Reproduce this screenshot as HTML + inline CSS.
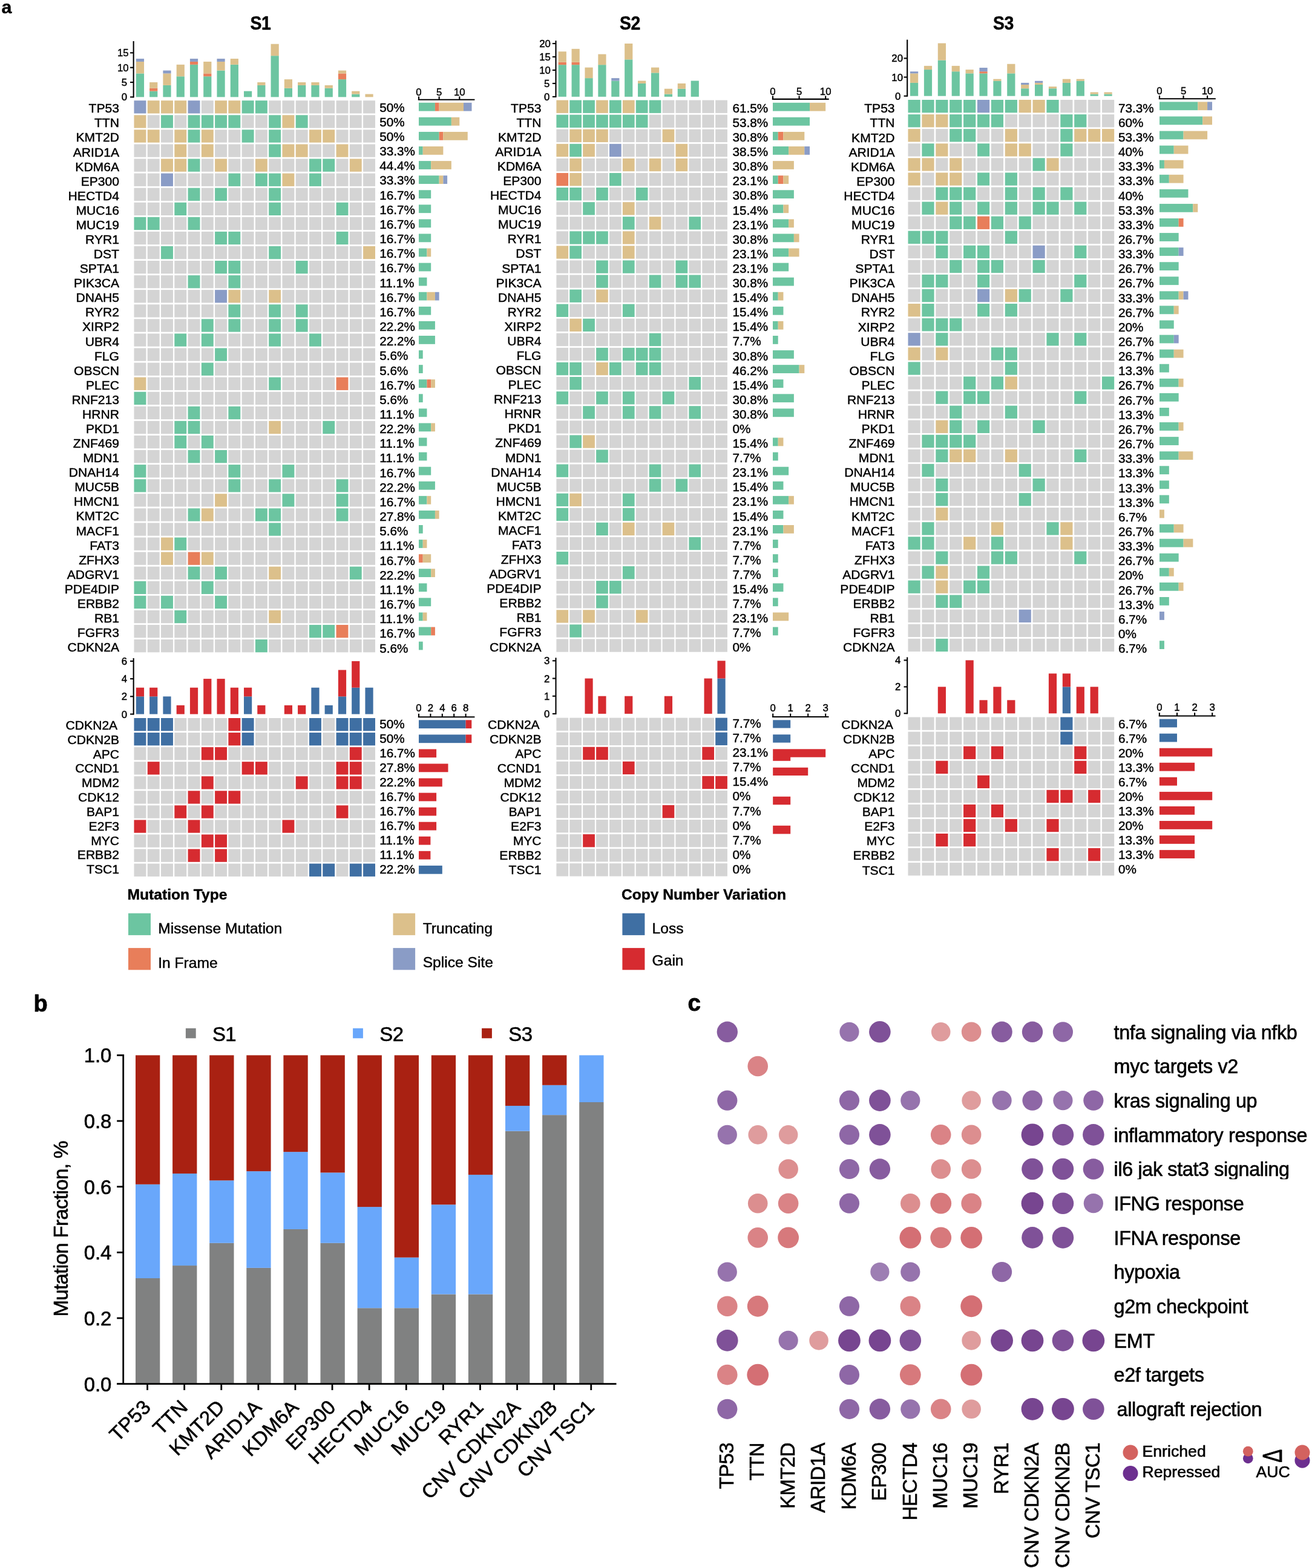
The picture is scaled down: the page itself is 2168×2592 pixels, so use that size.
<!DOCTYPE html>
<html lang="en">
<head>
<meta charset="utf-8">
<title>Figure: mutation landscape S1, S2, S3</title>
<style>
html,body{margin:0;padding:0;background:#fff;}
body{width:2168px;height:2592px;overflow:hidden;}
svg{display:block;font-family:"Liberation Sans", Arial, Helvetica, sans-serif;fill:#000;}
text{stroke:#000;stroke-width:0.45px;stroke-linejoin:round;}
</style>
</head>
<body>
<svg width="2168" height="2592" viewBox="0 0 2168 2592">
<rect x="0" y="0" width="2168" height="2592" fill="#ffffff"/>
<text transform="translate(430.5,49.4) scale(1.0,1.09)" font-size="28.4" text-anchor="middle" font-weight="bold" letter-spacing="-0.3">S1</text>
<rect x="224.85" y="121.42" width="13.2" height="38.98" fill="#6cc5a1"/>
<rect x="224.85" y="101.92" width="13.2" height="19.49" fill="#dcc08b"/>
<rect x="224.85" y="97.05" width="13.2" height="4.87" fill="#8a9cc6"/>
<rect x="247.12" y="150.65" width="13.2" height="9.75" fill="#6cc5a1"/>
<rect x="247.12" y="145.78" width="13.2" height="4.87" fill="#e87e5a"/>
<rect x="247.12" y="136.03" width="13.2" height="9.75" fill="#dcc08b"/>
<rect x="269.39" y="140.91" width="13.2" height="19.49" fill="#6cc5a1"/>
<rect x="269.39" y="121.42" width="13.2" height="19.49" fill="#dcc08b"/>
<rect x="269.39" y="116.54" width="13.2" height="4.87" fill="#8a9cc6"/>
<rect x="291.66" y="126.29" width="13.2" height="34.11" fill="#6cc5a1"/>
<rect x="291.66" y="106.8" width="13.2" height="19.49" fill="#dcc08b"/>
<rect x="313.93" y="106.8" width="13.2" height="53.6" fill="#6cc5a1"/>
<rect x="313.93" y="101.92" width="13.2" height="4.87" fill="#e87e5a"/>
<rect x="313.93" y="97.05" width="13.2" height="4.87" fill="#8a9cc6"/>
<rect x="336.2" y="126.29" width="13.2" height="34.11" fill="#6cc5a1"/>
<rect x="336.2" y="121.42" width="13.2" height="4.87" fill="#e87e5a"/>
<rect x="336.2" y="101.92" width="13.2" height="19.49" fill="#dcc08b"/>
<rect x="358.47" y="116.54" width="13.2" height="43.86" fill="#6cc5a1"/>
<rect x="358.47" y="101.92" width="13.2" height="14.62" fill="#dcc08b"/>
<rect x="358.47" y="97.05" width="13.2" height="4.87" fill="#8a9cc6"/>
<rect x="380.74" y="106.8" width="13.2" height="53.6" fill="#6cc5a1"/>
<rect x="380.74" y="97.05" width="13.2" height="9.75" fill="#dcc08b"/>
<rect x="403.01" y="150.65" width="13.2" height="9.75" fill="#6cc5a1"/>
<rect x="425.28" y="140.91" width="13.2" height="19.49" fill="#6cc5a1"/>
<rect x="425.28" y="136.04" width="13.2" height="4.87" fill="#dcc08b"/>
<rect x="447.55" y="92.18" width="13.2" height="68.22" fill="#6cc5a1"/>
<rect x="447.55" y="72.69" width="13.2" height="19.49" fill="#dcc08b"/>
<rect x="469.82" y="145.78" width="13.2" height="14.62" fill="#6cc5a1"/>
<rect x="469.82" y="131.16" width="13.2" height="14.62" fill="#dcc08b"/>
<rect x="492.09" y="140.91" width="13.2" height="19.49" fill="#6cc5a1"/>
<rect x="492.09" y="136.04" width="13.2" height="4.87" fill="#dcc08b"/>
<rect x="514.36" y="140.91" width="13.2" height="19.49" fill="#6cc5a1"/>
<rect x="514.36" y="136.04" width="13.2" height="4.87" fill="#dcc08b"/>
<rect x="536.63" y="145.78" width="13.2" height="14.62" fill="#6cc5a1"/>
<rect x="536.63" y="140.91" width="13.2" height="4.87" fill="#dcc08b"/>
<rect x="558.9" y="131.16" width="13.2" height="29.24" fill="#6cc5a1"/>
<rect x="558.9" y="121.42" width="13.2" height="9.75" fill="#e87e5a"/>
<rect x="558.9" y="116.54" width="13.2" height="4.87" fill="#dcc08b"/>
<rect x="581.17" y="155.53" width="13.2" height="4.87" fill="#6cc5a1"/>
<rect x="581.17" y="150.65" width="13.2" height="4.87" fill="#dcc08b"/>
<rect x="603.44" y="155.53" width="13.2" height="4.87" fill="#dcc08b"/>
<line x1="220.65" y1="68" x2="220.65" y2="161.45" stroke="#000" stroke-width="2.1"/>
<line x1="215.05" y1="160.4" x2="220.65" y2="160.4" stroke="#000" stroke-width="2.1"/>
<text x="210" y="166.4" font-size="16.8" text-anchor="end">0</text>
<line x1="215.05" y1="136.03" x2="220.65" y2="136.03" stroke="#000" stroke-width="2.1"/>
<text x="210" y="142.03" font-size="16.8" text-anchor="end">5</text>
<line x1="215.05" y1="111.67" x2="220.65" y2="111.67" stroke="#000" stroke-width="2.1"/>
<text x="212.6" y="117.67" font-size="16.8" text-anchor="end">10</text>
<line x1="215.05" y1="87.31" x2="220.65" y2="87.31" stroke="#000" stroke-width="2.1"/>
<text x="212.6" y="93.31" font-size="16.8" text-anchor="end">15</text>
<rect x="221.5" y="166.2" width="19.9" height="21.3" fill="#8a9cc6"/>
<rect x="243.77" y="166.2" width="19.9" height="21.3" fill="#dcc08b"/>
<rect x="266.04" y="166.2" width="19.9" height="21.3" fill="#dcc08b"/>
<rect x="288.31" y="166.2" width="19.9" height="21.3" fill="#dcc08b"/>
<rect x="310.58" y="166.2" width="19.9" height="21.3" fill="#8a9cc6"/>
<rect x="332.85" y="166.2" width="19.9" height="21.3" fill="#d4d4d4"/>
<rect x="355.12" y="166.2" width="19.9" height="21.3" fill="#dcc08b"/>
<rect x="377.39" y="166.2" width="19.9" height="21.3" fill="#dcc08b"/>
<rect x="399.66" y="166.2" width="19.9" height="21.3" fill="#6cc5a1"/>
<rect x="421.93" y="166.2" width="19.9" height="21.3" fill="#6cc5a1"/>
<rect x="444.2" y="166.2" width="19.9" height="21.3" fill="#d4d4d4"/>
<rect x="466.47" y="166.2" width="19.9" height="21.3" fill="#d4d4d4"/>
<rect x="488.74" y="166.2" width="19.9" height="21.3" fill="#d4d4d4"/>
<rect x="511.01" y="166.2" width="19.9" height="21.3" fill="#d4d4d4"/>
<rect x="533.28" y="166.2" width="19.9" height="21.3" fill="#d4d4d4"/>
<rect x="555.55" y="166.2" width="19.9" height="21.3" fill="#d4d4d4"/>
<rect x="577.82" y="166.2" width="19.9" height="21.3" fill="#d4d4d4"/>
<rect x="600.09" y="166.2" width="19.9" height="21.3" fill="#d4d4d4"/>
<text x="197" y="186.3" font-size="21.1" text-anchor="end">TP53</text>
<text x="627.3" y="184.7" font-size="20.7">50%</text>
<rect x="692" y="169.8" width="26.92" height="13.8" fill="#6cc5a1"/>
<rect x="718.92" y="169.8" width="6.73" height="13.8" fill="#e87e5a"/>
<rect x="725.65" y="169.8" width="40.38" height="13.8" fill="#dcc08b"/>
<rect x="766.03" y="169.8" width="13.46" height="13.8" fill="#8a9cc6"/>
<rect x="221.5" y="190.28" width="19.9" height="21.3" fill="#dcc08b"/>
<rect x="243.77" y="190.28" width="19.9" height="21.3" fill="#d4d4d4"/>
<rect x="266.04" y="190.28" width="19.9" height="21.3" fill="#6cc5a1"/>
<rect x="288.31" y="190.28" width="19.9" height="21.3" fill="#d4d4d4"/>
<rect x="310.58" y="190.28" width="19.9" height="21.3" fill="#6cc5a1"/>
<rect x="332.85" y="190.28" width="19.9" height="21.3" fill="#6cc5a1"/>
<rect x="355.12" y="190.28" width="19.9" height="21.3" fill="#6cc5a1"/>
<rect x="377.39" y="190.28" width="19.9" height="21.3" fill="#6cc5a1"/>
<rect x="399.66" y="190.28" width="19.9" height="21.3" fill="#d4d4d4"/>
<rect x="421.93" y="190.28" width="19.9" height="21.3" fill="#d4d4d4"/>
<rect x="444.2" y="190.28" width="19.9" height="21.3" fill="#6cc5a1"/>
<rect x="466.47" y="190.28" width="19.9" height="21.3" fill="#dcc08b"/>
<rect x="488.74" y="190.28" width="19.9" height="21.3" fill="#6cc5a1"/>
<rect x="511.01" y="190.28" width="19.9" height="21.3" fill="#d4d4d4"/>
<rect x="533.28" y="190.28" width="19.9" height="21.3" fill="#d4d4d4"/>
<rect x="555.55" y="190.28" width="19.9" height="21.3" fill="#d4d4d4"/>
<rect x="577.82" y="190.28" width="19.9" height="21.3" fill="#d4d4d4"/>
<rect x="600.09" y="190.28" width="19.9" height="21.3" fill="#d4d4d4"/>
<text x="197" y="210.38" font-size="21.1" text-anchor="end">TTN</text>
<text x="627.3" y="208.86" font-size="20.7">50%</text>
<rect x="692" y="193.88" width="53.84" height="13.8" fill="#6cc5a1"/>
<rect x="745.84" y="193.88" width="13.46" height="13.8" fill="#dcc08b"/>
<rect x="221.5" y="214.35" width="19.9" height="21.3" fill="#dcc08b"/>
<rect x="243.77" y="214.35" width="19.9" height="21.3" fill="#dcc08b"/>
<rect x="266.04" y="214.35" width="19.9" height="21.3" fill="#d4d4d4"/>
<rect x="288.31" y="214.35" width="19.9" height="21.3" fill="#dcc08b"/>
<rect x="310.58" y="214.35" width="19.9" height="21.3" fill="#6cc5a1"/>
<rect x="332.85" y="214.35" width="19.9" height="21.3" fill="#dcc08b"/>
<rect x="355.12" y="214.35" width="19.9" height="21.3" fill="#d4d4d4"/>
<rect x="377.39" y="214.35" width="19.9" height="21.3" fill="#d4d4d4"/>
<rect x="399.66" y="214.35" width="19.9" height="21.3" fill="#6cc5a1"/>
<rect x="421.93" y="214.35" width="19.9" height="21.3" fill="#d4d4d4"/>
<rect x="444.2" y="214.35" width="19.9" height="21.3" fill="#6cc5a1"/>
<rect x="466.47" y="214.35" width="19.9" height="21.3" fill="#d4d4d4"/>
<rect x="488.74" y="214.35" width="19.9" height="21.3" fill="#d4d4d4"/>
<rect x="511.01" y="214.35" width="19.9" height="21.3" fill="#dcc08b"/>
<rect x="533.28" y="214.35" width="19.9" height="21.3" fill="#dcc08b"/>
<rect x="555.55" y="214.35" width="19.9" height="21.3" fill="#d4d4d4"/>
<rect x="577.82" y="214.35" width="19.9" height="21.3" fill="#d4d4d4"/>
<rect x="600.09" y="214.35" width="19.9" height="21.3" fill="#d4d4d4"/>
<text x="197" y="234.45" font-size="21.1" text-anchor="end">KMT2D</text>
<text x="627.3" y="233.01" font-size="20.7">50%</text>
<rect x="692" y="217.95" width="33.65" height="13.8" fill="#6cc5a1"/>
<rect x="725.65" y="217.95" width="6.73" height="13.8" fill="#e87e5a"/>
<rect x="732.38" y="217.95" width="40.38" height="13.8" fill="#dcc08b"/>
<rect x="221.5" y="238.43" width="19.9" height="21.3" fill="#d4d4d4"/>
<rect x="243.77" y="238.43" width="19.9" height="21.3" fill="#d4d4d4"/>
<rect x="266.04" y="238.43" width="19.9" height="21.3" fill="#d4d4d4"/>
<rect x="288.31" y="238.43" width="19.9" height="21.3" fill="#dcc08b"/>
<rect x="310.58" y="238.43" width="19.9" height="21.3" fill="#d4d4d4"/>
<rect x="332.85" y="238.43" width="19.9" height="21.3" fill="#dcc08b"/>
<rect x="355.12" y="238.43" width="19.9" height="21.3" fill="#d4d4d4"/>
<rect x="377.39" y="238.43" width="19.9" height="21.3" fill="#d4d4d4"/>
<rect x="399.66" y="238.43" width="19.9" height="21.3" fill="#d4d4d4"/>
<rect x="421.93" y="238.43" width="19.9" height="21.3" fill="#d4d4d4"/>
<rect x="444.2" y="238.43" width="19.9" height="21.3" fill="#6cc5a1"/>
<rect x="466.47" y="238.43" width="19.9" height="21.3" fill="#dcc08b"/>
<rect x="488.74" y="238.43" width="19.9" height="21.3" fill="#dcc08b"/>
<rect x="511.01" y="238.43" width="19.9" height="21.3" fill="#d4d4d4"/>
<rect x="533.28" y="238.43" width="19.9" height="21.3" fill="#d4d4d4"/>
<rect x="555.55" y="238.43" width="19.9" height="21.3" fill="#dcc08b"/>
<rect x="577.82" y="238.43" width="19.9" height="21.3" fill="#d4d4d4"/>
<rect x="600.09" y="238.43" width="19.9" height="21.3" fill="#d4d4d4"/>
<text x="197" y="258.53" font-size="21.1" text-anchor="end">ARID1A</text>
<text x="627.3" y="257.17" font-size="20.7">33.3%</text>
<rect x="692" y="242.03" width="6.73" height="13.8" fill="#6cc5a1"/>
<rect x="698.73" y="242.03" width="33.65" height="13.8" fill="#dcc08b"/>
<rect x="221.5" y="262.5" width="19.9" height="21.3" fill="#d4d4d4"/>
<rect x="243.77" y="262.5" width="19.9" height="21.3" fill="#d4d4d4"/>
<rect x="266.04" y="262.5" width="19.9" height="21.3" fill="#dcc08b"/>
<rect x="288.31" y="262.5" width="19.9" height="21.3" fill="#dcc08b"/>
<rect x="310.58" y="262.5" width="19.9" height="21.3" fill="#6cc5a1"/>
<rect x="332.85" y="262.5" width="19.9" height="21.3" fill="#d4d4d4"/>
<rect x="355.12" y="262.5" width="19.9" height="21.3" fill="#dcc08b"/>
<rect x="377.39" y="262.5" width="19.9" height="21.3" fill="#d4d4d4"/>
<rect x="399.66" y="262.5" width="19.9" height="21.3" fill="#d4d4d4"/>
<rect x="421.93" y="262.5" width="19.9" height="21.3" fill="#dcc08b"/>
<rect x="444.2" y="262.5" width="19.9" height="21.3" fill="#d4d4d4"/>
<rect x="466.47" y="262.5" width="19.9" height="21.3" fill="#d4d4d4"/>
<rect x="488.74" y="262.5" width="19.9" height="21.3" fill="#d4d4d4"/>
<rect x="511.01" y="262.5" width="19.9" height="21.3" fill="#6cc5a1"/>
<rect x="533.28" y="262.5" width="19.9" height="21.3" fill="#6cc5a1"/>
<rect x="555.55" y="262.5" width="19.9" height="21.3" fill="#d4d4d4"/>
<rect x="577.82" y="262.5" width="19.9" height="21.3" fill="#dcc08b"/>
<rect x="600.09" y="262.5" width="19.9" height="21.3" fill="#d4d4d4"/>
<text x="197" y="282.6" font-size="21.1" text-anchor="end">KDM6A</text>
<text x="627.3" y="281.33" font-size="20.7">44.4%</text>
<rect x="692" y="266.1" width="20.19" height="13.8" fill="#6cc5a1"/>
<rect x="712.19" y="266.1" width="33.65" height="13.8" fill="#dcc08b"/>
<rect x="221.5" y="286.58" width="19.9" height="21.3" fill="#d4d4d4"/>
<rect x="243.77" y="286.58" width="19.9" height="21.3" fill="#d4d4d4"/>
<rect x="266.04" y="286.58" width="19.9" height="21.3" fill="#8a9cc6"/>
<rect x="288.31" y="286.58" width="19.9" height="21.3" fill="#d4d4d4"/>
<rect x="310.58" y="286.58" width="19.9" height="21.3" fill="#d4d4d4"/>
<rect x="332.85" y="286.58" width="19.9" height="21.3" fill="#d4d4d4"/>
<rect x="355.12" y="286.58" width="19.9" height="21.3" fill="#d4d4d4"/>
<rect x="377.39" y="286.58" width="19.9" height="21.3" fill="#6cc5a1"/>
<rect x="399.66" y="286.58" width="19.9" height="21.3" fill="#d4d4d4"/>
<rect x="421.93" y="286.58" width="19.9" height="21.3" fill="#6cc5a1"/>
<rect x="444.2" y="286.58" width="19.9" height="21.3" fill="#6cc5a1"/>
<rect x="466.47" y="286.58" width="19.9" height="21.3" fill="#dcc08b"/>
<rect x="488.74" y="286.58" width="19.9" height="21.3" fill="#d4d4d4"/>
<rect x="511.01" y="286.58" width="19.9" height="21.3" fill="#6cc5a1"/>
<rect x="533.28" y="286.58" width="19.9" height="21.3" fill="#d4d4d4"/>
<rect x="555.55" y="286.58" width="19.9" height="21.3" fill="#d4d4d4"/>
<rect x="577.82" y="286.58" width="19.9" height="21.3" fill="#d4d4d4"/>
<rect x="600.09" y="286.58" width="19.9" height="21.3" fill="#d4d4d4"/>
<text x="197" y="306.68" font-size="21.1" text-anchor="end">EP300</text>
<text x="627.3" y="305.49" font-size="20.7">33.3%</text>
<rect x="692" y="290.18" width="33.65" height="13.8" fill="#6cc5a1"/>
<rect x="725.65" y="290.18" width="6.73" height="13.8" fill="#dcc08b"/>
<rect x="732.38" y="290.18" width="6.73" height="13.8" fill="#8a9cc6"/>
<rect x="221.5" y="310.66" width="19.9" height="21.3" fill="#d4d4d4"/>
<rect x="243.77" y="310.66" width="19.9" height="21.3" fill="#d4d4d4"/>
<rect x="266.04" y="310.66" width="19.9" height="21.3" fill="#d4d4d4"/>
<rect x="288.31" y="310.66" width="19.9" height="21.3" fill="#d4d4d4"/>
<rect x="310.58" y="310.66" width="19.9" height="21.3" fill="#6cc5a1"/>
<rect x="332.85" y="310.66" width="19.9" height="21.3" fill="#d4d4d4"/>
<rect x="355.12" y="310.66" width="19.9" height="21.3" fill="#6cc5a1"/>
<rect x="377.39" y="310.66" width="19.9" height="21.3" fill="#d4d4d4"/>
<rect x="399.66" y="310.66" width="19.9" height="21.3" fill="#d4d4d4"/>
<rect x="421.93" y="310.66" width="19.9" height="21.3" fill="#d4d4d4"/>
<rect x="444.2" y="310.66" width="19.9" height="21.3" fill="#6cc5a1"/>
<rect x="466.47" y="310.66" width="19.9" height="21.3" fill="#d4d4d4"/>
<rect x="488.74" y="310.66" width="19.9" height="21.3" fill="#d4d4d4"/>
<rect x="511.01" y="310.66" width="19.9" height="21.3" fill="#d4d4d4"/>
<rect x="533.28" y="310.66" width="19.9" height="21.3" fill="#d4d4d4"/>
<rect x="555.55" y="310.66" width="19.9" height="21.3" fill="#d4d4d4"/>
<rect x="577.82" y="310.66" width="19.9" height="21.3" fill="#d4d4d4"/>
<rect x="600.09" y="310.66" width="19.9" height="21.3" fill="#d4d4d4"/>
<text x="197" y="330.76" font-size="21.1" text-anchor="end">HECTD4</text>
<text x="627.3" y="329.64" font-size="20.7">16.7%</text>
<rect x="692" y="314.26" width="20.19" height="13.8" fill="#6cc5a1"/>
<rect x="221.5" y="334.73" width="19.9" height="21.3" fill="#d4d4d4"/>
<rect x="243.77" y="334.73" width="19.9" height="21.3" fill="#d4d4d4"/>
<rect x="266.04" y="334.73" width="19.9" height="21.3" fill="#d4d4d4"/>
<rect x="288.31" y="334.73" width="19.9" height="21.3" fill="#6cc5a1"/>
<rect x="310.58" y="334.73" width="19.9" height="21.3" fill="#d4d4d4"/>
<rect x="332.85" y="334.73" width="19.9" height="21.3" fill="#d4d4d4"/>
<rect x="355.12" y="334.73" width="19.9" height="21.3" fill="#d4d4d4"/>
<rect x="377.39" y="334.73" width="19.9" height="21.3" fill="#d4d4d4"/>
<rect x="399.66" y="334.73" width="19.9" height="21.3" fill="#d4d4d4"/>
<rect x="421.93" y="334.73" width="19.9" height="21.3" fill="#d4d4d4"/>
<rect x="444.2" y="334.73" width="19.9" height="21.3" fill="#6cc5a1"/>
<rect x="466.47" y="334.73" width="19.9" height="21.3" fill="#d4d4d4"/>
<rect x="488.74" y="334.73" width="19.9" height="21.3" fill="#d4d4d4"/>
<rect x="511.01" y="334.73" width="19.9" height="21.3" fill="#d4d4d4"/>
<rect x="533.28" y="334.73" width="19.9" height="21.3" fill="#d4d4d4"/>
<rect x="555.55" y="334.73" width="19.9" height="21.3" fill="#6cc5a1"/>
<rect x="577.82" y="334.73" width="19.9" height="21.3" fill="#d4d4d4"/>
<rect x="600.09" y="334.73" width="19.9" height="21.3" fill="#d4d4d4"/>
<text x="197" y="354.83" font-size="21.1" text-anchor="end">MUC16</text>
<text x="627.3" y="353.8" font-size="20.7">16.7%</text>
<rect x="692" y="338.33" width="20.19" height="13.8" fill="#6cc5a1"/>
<rect x="221.5" y="358.81" width="19.9" height="21.3" fill="#6cc5a1"/>
<rect x="243.77" y="358.81" width="19.9" height="21.3" fill="#6cc5a1"/>
<rect x="266.04" y="358.81" width="19.9" height="21.3" fill="#d4d4d4"/>
<rect x="288.31" y="358.81" width="19.9" height="21.3" fill="#d4d4d4"/>
<rect x="310.58" y="358.81" width="19.9" height="21.3" fill="#6cc5a1"/>
<rect x="332.85" y="358.81" width="19.9" height="21.3" fill="#d4d4d4"/>
<rect x="355.12" y="358.81" width="19.9" height="21.3" fill="#d4d4d4"/>
<rect x="377.39" y="358.81" width="19.9" height="21.3" fill="#d4d4d4"/>
<rect x="399.66" y="358.81" width="19.9" height="21.3" fill="#d4d4d4"/>
<rect x="421.93" y="358.81" width="19.9" height="21.3" fill="#d4d4d4"/>
<rect x="444.2" y="358.81" width="19.9" height="21.3" fill="#d4d4d4"/>
<rect x="466.47" y="358.81" width="19.9" height="21.3" fill="#d4d4d4"/>
<rect x="488.74" y="358.81" width="19.9" height="21.3" fill="#d4d4d4"/>
<rect x="511.01" y="358.81" width="19.9" height="21.3" fill="#d4d4d4"/>
<rect x="533.28" y="358.81" width="19.9" height="21.3" fill="#d4d4d4"/>
<rect x="555.55" y="358.81" width="19.9" height="21.3" fill="#d4d4d4"/>
<rect x="577.82" y="358.81" width="19.9" height="21.3" fill="#d4d4d4"/>
<rect x="600.09" y="358.81" width="19.9" height="21.3" fill="#d4d4d4"/>
<text x="197" y="378.91" font-size="21.1" text-anchor="end">MUC19</text>
<text x="627.3" y="377.96" font-size="20.7">16.7%</text>
<rect x="692" y="362.41" width="20.19" height="13.8" fill="#6cc5a1"/>
<rect x="221.5" y="382.88" width="19.9" height="21.3" fill="#d4d4d4"/>
<rect x="243.77" y="382.88" width="19.9" height="21.3" fill="#d4d4d4"/>
<rect x="266.04" y="382.88" width="19.9" height="21.3" fill="#d4d4d4"/>
<rect x="288.31" y="382.88" width="19.9" height="21.3" fill="#d4d4d4"/>
<rect x="310.58" y="382.88" width="19.9" height="21.3" fill="#d4d4d4"/>
<rect x="332.85" y="382.88" width="19.9" height="21.3" fill="#d4d4d4"/>
<rect x="355.12" y="382.88" width="19.9" height="21.3" fill="#6cc5a1"/>
<rect x="377.39" y="382.88" width="19.9" height="21.3" fill="#6cc5a1"/>
<rect x="399.66" y="382.88" width="19.9" height="21.3" fill="#d4d4d4"/>
<rect x="421.93" y="382.88" width="19.9" height="21.3" fill="#d4d4d4"/>
<rect x="444.2" y="382.88" width="19.9" height="21.3" fill="#d4d4d4"/>
<rect x="466.47" y="382.88" width="19.9" height="21.3" fill="#d4d4d4"/>
<rect x="488.74" y="382.88" width="19.9" height="21.3" fill="#d4d4d4"/>
<rect x="511.01" y="382.88" width="19.9" height="21.3" fill="#d4d4d4"/>
<rect x="533.28" y="382.88" width="19.9" height="21.3" fill="#d4d4d4"/>
<rect x="555.55" y="382.88" width="19.9" height="21.3" fill="#6cc5a1"/>
<rect x="577.82" y="382.88" width="19.9" height="21.3" fill="#d4d4d4"/>
<rect x="600.09" y="382.88" width="19.9" height="21.3" fill="#d4d4d4"/>
<text x="197" y="402.98" font-size="21.1" text-anchor="end">RYR1</text>
<text x="627.3" y="402.11" font-size="20.7">16.7%</text>
<rect x="692" y="386.48" width="20.19" height="13.8" fill="#6cc5a1"/>
<rect x="221.5" y="406.96" width="19.9" height="21.3" fill="#d4d4d4"/>
<rect x="243.77" y="406.96" width="19.9" height="21.3" fill="#d4d4d4"/>
<rect x="266.04" y="406.96" width="19.9" height="21.3" fill="#6cc5a1"/>
<rect x="288.31" y="406.96" width="19.9" height="21.3" fill="#d4d4d4"/>
<rect x="310.58" y="406.96" width="19.9" height="21.3" fill="#d4d4d4"/>
<rect x="332.85" y="406.96" width="19.9" height="21.3" fill="#d4d4d4"/>
<rect x="355.12" y="406.96" width="19.9" height="21.3" fill="#d4d4d4"/>
<rect x="377.39" y="406.96" width="19.9" height="21.3" fill="#d4d4d4"/>
<rect x="399.66" y="406.96" width="19.9" height="21.3" fill="#d4d4d4"/>
<rect x="421.93" y="406.96" width="19.9" height="21.3" fill="#d4d4d4"/>
<rect x="444.2" y="406.96" width="19.9" height="21.3" fill="#6cc5a1"/>
<rect x="466.47" y="406.96" width="19.9" height="21.3" fill="#d4d4d4"/>
<rect x="488.74" y="406.96" width="19.9" height="21.3" fill="#d4d4d4"/>
<rect x="511.01" y="406.96" width="19.9" height="21.3" fill="#d4d4d4"/>
<rect x="533.28" y="406.96" width="19.9" height="21.3" fill="#d4d4d4"/>
<rect x="555.55" y="406.96" width="19.9" height="21.3" fill="#d4d4d4"/>
<rect x="577.82" y="406.96" width="19.9" height="21.3" fill="#d4d4d4"/>
<rect x="600.09" y="406.96" width="19.9" height="21.3" fill="#dcc08b"/>
<text x="197" y="427.06" font-size="21.1" text-anchor="end">DST</text>
<text x="627.3" y="426.27" font-size="20.7">16.7%</text>
<rect x="692" y="410.56" width="13.46" height="13.8" fill="#6cc5a1"/>
<rect x="705.46" y="410.56" width="6.73" height="13.8" fill="#dcc08b"/>
<rect x="221.5" y="431.04" width="19.9" height="21.3" fill="#d4d4d4"/>
<rect x="243.77" y="431.04" width="19.9" height="21.3" fill="#d4d4d4"/>
<rect x="266.04" y="431.04" width="19.9" height="21.3" fill="#d4d4d4"/>
<rect x="288.31" y="431.04" width="19.9" height="21.3" fill="#d4d4d4"/>
<rect x="310.58" y="431.04" width="19.9" height="21.3" fill="#d4d4d4"/>
<rect x="332.85" y="431.04" width="19.9" height="21.3" fill="#d4d4d4"/>
<rect x="355.12" y="431.04" width="19.9" height="21.3" fill="#6cc5a1"/>
<rect x="377.39" y="431.04" width="19.9" height="21.3" fill="#6cc5a1"/>
<rect x="399.66" y="431.04" width="19.9" height="21.3" fill="#d4d4d4"/>
<rect x="421.93" y="431.04" width="19.9" height="21.3" fill="#d4d4d4"/>
<rect x="444.2" y="431.04" width="19.9" height="21.3" fill="#d4d4d4"/>
<rect x="466.47" y="431.04" width="19.9" height="21.3" fill="#d4d4d4"/>
<rect x="488.74" y="431.04" width="19.9" height="21.3" fill="#6cc5a1"/>
<rect x="511.01" y="431.04" width="19.9" height="21.3" fill="#d4d4d4"/>
<rect x="533.28" y="431.04" width="19.9" height="21.3" fill="#d4d4d4"/>
<rect x="555.55" y="431.04" width="19.9" height="21.3" fill="#d4d4d4"/>
<rect x="577.82" y="431.04" width="19.9" height="21.3" fill="#d4d4d4"/>
<rect x="600.09" y="431.04" width="19.9" height="21.3" fill="#d4d4d4"/>
<text x="197" y="451.14" font-size="21.1" text-anchor="end">SPTA1</text>
<text x="627.3" y="450.43" font-size="20.7">16.7%</text>
<rect x="692" y="434.64" width="20.19" height="13.8" fill="#6cc5a1"/>
<rect x="221.5" y="455.11" width="19.9" height="21.3" fill="#d4d4d4"/>
<rect x="243.77" y="455.11" width="19.9" height="21.3" fill="#d4d4d4"/>
<rect x="266.04" y="455.11" width="19.9" height="21.3" fill="#d4d4d4"/>
<rect x="288.31" y="455.11" width="19.9" height="21.3" fill="#d4d4d4"/>
<rect x="310.58" y="455.11" width="19.9" height="21.3" fill="#6cc5a1"/>
<rect x="332.85" y="455.11" width="19.9" height="21.3" fill="#d4d4d4"/>
<rect x="355.12" y="455.11" width="19.9" height="21.3" fill="#d4d4d4"/>
<rect x="377.39" y="455.11" width="19.9" height="21.3" fill="#6cc5a1"/>
<rect x="399.66" y="455.11" width="19.9" height="21.3" fill="#d4d4d4"/>
<rect x="421.93" y="455.11" width="19.9" height="21.3" fill="#d4d4d4"/>
<rect x="444.2" y="455.11" width="19.9" height="21.3" fill="#d4d4d4"/>
<rect x="466.47" y="455.11" width="19.9" height="21.3" fill="#d4d4d4"/>
<rect x="488.74" y="455.11" width="19.9" height="21.3" fill="#d4d4d4"/>
<rect x="511.01" y="455.11" width="19.9" height="21.3" fill="#d4d4d4"/>
<rect x="533.28" y="455.11" width="19.9" height="21.3" fill="#d4d4d4"/>
<rect x="555.55" y="455.11" width="19.9" height="21.3" fill="#d4d4d4"/>
<rect x="577.82" y="455.11" width="19.9" height="21.3" fill="#d4d4d4"/>
<rect x="600.09" y="455.11" width="19.9" height="21.3" fill="#d4d4d4"/>
<text x="197" y="475.21" font-size="21.1" text-anchor="end">PIK3CA</text>
<text x="627.3" y="474.58" font-size="20.7">11.1%</text>
<rect x="692" y="458.71" width="13.46" height="13.8" fill="#6cc5a1"/>
<rect x="221.5" y="479.19" width="19.9" height="21.3" fill="#d4d4d4"/>
<rect x="243.77" y="479.19" width="19.9" height="21.3" fill="#d4d4d4"/>
<rect x="266.04" y="479.19" width="19.9" height="21.3" fill="#d4d4d4"/>
<rect x="288.31" y="479.19" width="19.9" height="21.3" fill="#d4d4d4"/>
<rect x="310.58" y="479.19" width="19.9" height="21.3" fill="#d4d4d4"/>
<rect x="332.85" y="479.19" width="19.9" height="21.3" fill="#d4d4d4"/>
<rect x="355.12" y="479.19" width="19.9" height="21.3" fill="#8a9cc6"/>
<rect x="377.39" y="479.19" width="19.9" height="21.3" fill="#dcc08b"/>
<rect x="399.66" y="479.19" width="19.9" height="21.3" fill="#d4d4d4"/>
<rect x="421.93" y="479.19" width="19.9" height="21.3" fill="#d4d4d4"/>
<rect x="444.2" y="479.19" width="19.9" height="21.3" fill="#dcc08b"/>
<rect x="466.47" y="479.19" width="19.9" height="21.3" fill="#d4d4d4"/>
<rect x="488.74" y="479.19" width="19.9" height="21.3" fill="#d4d4d4"/>
<rect x="511.01" y="479.19" width="19.9" height="21.3" fill="#d4d4d4"/>
<rect x="533.28" y="479.19" width="19.9" height="21.3" fill="#d4d4d4"/>
<rect x="555.55" y="479.19" width="19.9" height="21.3" fill="#d4d4d4"/>
<rect x="577.82" y="479.19" width="19.9" height="21.3" fill="#d4d4d4"/>
<rect x="600.09" y="479.19" width="19.9" height="21.3" fill="#d4d4d4"/>
<text x="197" y="499.29" font-size="21.1" text-anchor="end">DNAH5</text>
<text x="627.3" y="498.74" font-size="20.7">16.7%</text>
<rect x="692" y="482.79" width="13.46" height="13.8" fill="#6cc5a1"/>
<rect x="705.46" y="482.79" width="13.46" height="13.8" fill="#dcc08b"/>
<rect x="718.92" y="482.79" width="6.73" height="13.8" fill="#8a9cc6"/>
<rect x="221.5" y="503.26" width="19.9" height="21.3" fill="#d4d4d4"/>
<rect x="243.77" y="503.26" width="19.9" height="21.3" fill="#d4d4d4"/>
<rect x="266.04" y="503.26" width="19.9" height="21.3" fill="#d4d4d4"/>
<rect x="288.31" y="503.26" width="19.9" height="21.3" fill="#d4d4d4"/>
<rect x="310.58" y="503.26" width="19.9" height="21.3" fill="#d4d4d4"/>
<rect x="332.85" y="503.26" width="19.9" height="21.3" fill="#d4d4d4"/>
<rect x="355.12" y="503.26" width="19.9" height="21.3" fill="#d4d4d4"/>
<rect x="377.39" y="503.26" width="19.9" height="21.3" fill="#6cc5a1"/>
<rect x="399.66" y="503.26" width="19.9" height="21.3" fill="#d4d4d4"/>
<rect x="421.93" y="503.26" width="19.9" height="21.3" fill="#d4d4d4"/>
<rect x="444.2" y="503.26" width="19.9" height="21.3" fill="#6cc5a1"/>
<rect x="466.47" y="503.26" width="19.9" height="21.3" fill="#d4d4d4"/>
<rect x="488.74" y="503.26" width="19.9" height="21.3" fill="#6cc5a1"/>
<rect x="511.01" y="503.26" width="19.9" height="21.3" fill="#d4d4d4"/>
<rect x="533.28" y="503.26" width="19.9" height="21.3" fill="#d4d4d4"/>
<rect x="555.55" y="503.26" width="19.9" height="21.3" fill="#d4d4d4"/>
<rect x="577.82" y="503.26" width="19.9" height="21.3" fill="#d4d4d4"/>
<rect x="600.09" y="503.26" width="19.9" height="21.3" fill="#d4d4d4"/>
<text x="197" y="523.36" font-size="21.1" text-anchor="end">RYR2</text>
<text x="627.3" y="522.9" font-size="20.7">16.7%</text>
<rect x="692" y="506.86" width="20.19" height="13.8" fill="#6cc5a1"/>
<rect x="221.5" y="527.34" width="19.9" height="21.3" fill="#d4d4d4"/>
<rect x="243.77" y="527.34" width="19.9" height="21.3" fill="#d4d4d4"/>
<rect x="266.04" y="527.34" width="19.9" height="21.3" fill="#d4d4d4"/>
<rect x="288.31" y="527.34" width="19.9" height="21.3" fill="#d4d4d4"/>
<rect x="310.58" y="527.34" width="19.9" height="21.3" fill="#d4d4d4"/>
<rect x="332.85" y="527.34" width="19.9" height="21.3" fill="#6cc5a1"/>
<rect x="355.12" y="527.34" width="19.9" height="21.3" fill="#d4d4d4"/>
<rect x="377.39" y="527.34" width="19.9" height="21.3" fill="#6cc5a1"/>
<rect x="399.66" y="527.34" width="19.9" height="21.3" fill="#d4d4d4"/>
<rect x="421.93" y="527.34" width="19.9" height="21.3" fill="#d4d4d4"/>
<rect x="444.2" y="527.34" width="19.9" height="21.3" fill="#6cc5a1"/>
<rect x="466.47" y="527.34" width="19.9" height="21.3" fill="#d4d4d4"/>
<rect x="488.74" y="527.34" width="19.9" height="21.3" fill="#6cc5a1"/>
<rect x="511.01" y="527.34" width="19.9" height="21.3" fill="#d4d4d4"/>
<rect x="533.28" y="527.34" width="19.9" height="21.3" fill="#d4d4d4"/>
<rect x="555.55" y="527.34" width="19.9" height="21.3" fill="#d4d4d4"/>
<rect x="577.82" y="527.34" width="19.9" height="21.3" fill="#d4d4d4"/>
<rect x="600.09" y="527.34" width="19.9" height="21.3" fill="#d4d4d4"/>
<text x="197" y="547.44" font-size="21.1" text-anchor="end">XIRP2</text>
<text x="627.3" y="547.06" font-size="20.7">22.2%</text>
<rect x="692" y="530.94" width="26.92" height="13.8" fill="#6cc5a1"/>
<rect x="221.5" y="551.42" width="19.9" height="21.3" fill="#d4d4d4"/>
<rect x="243.77" y="551.42" width="19.9" height="21.3" fill="#d4d4d4"/>
<rect x="266.04" y="551.42" width="19.9" height="21.3" fill="#d4d4d4"/>
<rect x="288.31" y="551.42" width="19.9" height="21.3" fill="#6cc5a1"/>
<rect x="310.58" y="551.42" width="19.9" height="21.3" fill="#d4d4d4"/>
<rect x="332.85" y="551.42" width="19.9" height="21.3" fill="#6cc5a1"/>
<rect x="355.12" y="551.42" width="19.9" height="21.3" fill="#d4d4d4"/>
<rect x="377.39" y="551.42" width="19.9" height="21.3" fill="#d4d4d4"/>
<rect x="399.66" y="551.42" width="19.9" height="21.3" fill="#d4d4d4"/>
<rect x="421.93" y="551.42" width="19.9" height="21.3" fill="#d4d4d4"/>
<rect x="444.2" y="551.42" width="19.9" height="21.3" fill="#6cc5a1"/>
<rect x="466.47" y="551.42" width="19.9" height="21.3" fill="#d4d4d4"/>
<rect x="488.74" y="551.42" width="19.9" height="21.3" fill="#d4d4d4"/>
<rect x="511.01" y="551.42" width="19.9" height="21.3" fill="#6cc5a1"/>
<rect x="533.28" y="551.42" width="19.9" height="21.3" fill="#d4d4d4"/>
<rect x="555.55" y="551.42" width="19.9" height="21.3" fill="#d4d4d4"/>
<rect x="577.82" y="551.42" width="19.9" height="21.3" fill="#d4d4d4"/>
<rect x="600.09" y="551.42" width="19.9" height="21.3" fill="#d4d4d4"/>
<text x="197" y="571.52" font-size="21.1" text-anchor="end">UBR4</text>
<text x="627.3" y="571.21" font-size="20.7">22.2%</text>
<rect x="692" y="555.02" width="26.92" height="13.8" fill="#6cc5a1"/>
<rect x="221.5" y="575.49" width="19.9" height="21.3" fill="#d4d4d4"/>
<rect x="243.77" y="575.49" width="19.9" height="21.3" fill="#d4d4d4"/>
<rect x="266.04" y="575.49" width="19.9" height="21.3" fill="#d4d4d4"/>
<rect x="288.31" y="575.49" width="19.9" height="21.3" fill="#d4d4d4"/>
<rect x="310.58" y="575.49" width="19.9" height="21.3" fill="#d4d4d4"/>
<rect x="332.85" y="575.49" width="19.9" height="21.3" fill="#d4d4d4"/>
<rect x="355.12" y="575.49" width="19.9" height="21.3" fill="#6cc5a1"/>
<rect x="377.39" y="575.49" width="19.9" height="21.3" fill="#d4d4d4"/>
<rect x="399.66" y="575.49" width="19.9" height="21.3" fill="#d4d4d4"/>
<rect x="421.93" y="575.49" width="19.9" height="21.3" fill="#d4d4d4"/>
<rect x="444.2" y="575.49" width="19.9" height="21.3" fill="#d4d4d4"/>
<rect x="466.47" y="575.49" width="19.9" height="21.3" fill="#d4d4d4"/>
<rect x="488.74" y="575.49" width="19.9" height="21.3" fill="#d4d4d4"/>
<rect x="511.01" y="575.49" width="19.9" height="21.3" fill="#d4d4d4"/>
<rect x="533.28" y="575.49" width="19.9" height="21.3" fill="#d4d4d4"/>
<rect x="555.55" y="575.49" width="19.9" height="21.3" fill="#d4d4d4"/>
<rect x="577.82" y="575.49" width="19.9" height="21.3" fill="#d4d4d4"/>
<rect x="600.09" y="575.49" width="19.9" height="21.3" fill="#d4d4d4"/>
<text x="197" y="595.59" font-size="21.1" text-anchor="end">FLG</text>
<text x="627.3" y="595.37" font-size="20.7">5.6%</text>
<rect x="692" y="579.09" width="6.73" height="13.8" fill="#6cc5a1"/>
<rect x="221.5" y="599.57" width="19.9" height="21.3" fill="#d4d4d4"/>
<rect x="243.77" y="599.57" width="19.9" height="21.3" fill="#d4d4d4"/>
<rect x="266.04" y="599.57" width="19.9" height="21.3" fill="#d4d4d4"/>
<rect x="288.31" y="599.57" width="19.9" height="21.3" fill="#d4d4d4"/>
<rect x="310.58" y="599.57" width="19.9" height="21.3" fill="#d4d4d4"/>
<rect x="332.85" y="599.57" width="19.9" height="21.3" fill="#6cc5a1"/>
<rect x="355.12" y="599.57" width="19.9" height="21.3" fill="#d4d4d4"/>
<rect x="377.39" y="599.57" width="19.9" height="21.3" fill="#d4d4d4"/>
<rect x="399.66" y="599.57" width="19.9" height="21.3" fill="#d4d4d4"/>
<rect x="421.93" y="599.57" width="19.9" height="21.3" fill="#d4d4d4"/>
<rect x="444.2" y="599.57" width="19.9" height="21.3" fill="#d4d4d4"/>
<rect x="466.47" y="599.57" width="19.9" height="21.3" fill="#d4d4d4"/>
<rect x="488.74" y="599.57" width="19.9" height="21.3" fill="#d4d4d4"/>
<rect x="511.01" y="599.57" width="19.9" height="21.3" fill="#d4d4d4"/>
<rect x="533.28" y="599.57" width="19.9" height="21.3" fill="#d4d4d4"/>
<rect x="555.55" y="599.57" width="19.9" height="21.3" fill="#d4d4d4"/>
<rect x="577.82" y="599.57" width="19.9" height="21.3" fill="#d4d4d4"/>
<rect x="600.09" y="599.57" width="19.9" height="21.3" fill="#d4d4d4"/>
<text x="197" y="619.67" font-size="21.1" text-anchor="end">OBSCN</text>
<text x="627.3" y="619.53" font-size="20.7">5.6%</text>
<rect x="692" y="603.17" width="6.73" height="13.8" fill="#6cc5a1"/>
<rect x="221.5" y="623.64" width="19.9" height="21.3" fill="#dcc08b"/>
<rect x="243.77" y="623.64" width="19.9" height="21.3" fill="#d4d4d4"/>
<rect x="266.04" y="623.64" width="19.9" height="21.3" fill="#d4d4d4"/>
<rect x="288.31" y="623.64" width="19.9" height="21.3" fill="#d4d4d4"/>
<rect x="310.58" y="623.64" width="19.9" height="21.3" fill="#d4d4d4"/>
<rect x="332.85" y="623.64" width="19.9" height="21.3" fill="#d4d4d4"/>
<rect x="355.12" y="623.64" width="19.9" height="21.3" fill="#d4d4d4"/>
<rect x="377.39" y="623.64" width="19.9" height="21.3" fill="#d4d4d4"/>
<rect x="399.66" y="623.64" width="19.9" height="21.3" fill="#d4d4d4"/>
<rect x="421.93" y="623.64" width="19.9" height="21.3" fill="#d4d4d4"/>
<rect x="444.2" y="623.64" width="19.9" height="21.3" fill="#6cc5a1"/>
<rect x="466.47" y="623.64" width="19.9" height="21.3" fill="#d4d4d4"/>
<rect x="488.74" y="623.64" width="19.9" height="21.3" fill="#d4d4d4"/>
<rect x="511.01" y="623.64" width="19.9" height="21.3" fill="#d4d4d4"/>
<rect x="533.28" y="623.64" width="19.9" height="21.3" fill="#d4d4d4"/>
<rect x="555.55" y="623.64" width="19.9" height="21.3" fill="#e87e5a"/>
<rect x="577.82" y="623.64" width="19.9" height="21.3" fill="#d4d4d4"/>
<rect x="600.09" y="623.64" width="19.9" height="21.3" fill="#d4d4d4"/>
<text x="197" y="643.74" font-size="21.1" text-anchor="end">PLEC</text>
<text x="627.3" y="643.68" font-size="20.7">16.7%</text>
<rect x="692" y="627.24" width="13.46" height="13.8" fill="#6cc5a1"/>
<rect x="705.46" y="627.24" width="6.73" height="13.8" fill="#e87e5a"/>
<rect x="712.19" y="627.24" width="6.73" height="13.8" fill="#dcc08b"/>
<rect x="221.5" y="647.72" width="19.9" height="21.3" fill="#6cc5a1"/>
<rect x="243.77" y="647.72" width="19.9" height="21.3" fill="#d4d4d4"/>
<rect x="266.04" y="647.72" width="19.9" height="21.3" fill="#d4d4d4"/>
<rect x="288.31" y="647.72" width="19.9" height="21.3" fill="#d4d4d4"/>
<rect x="310.58" y="647.72" width="19.9" height="21.3" fill="#d4d4d4"/>
<rect x="332.85" y="647.72" width="19.9" height="21.3" fill="#d4d4d4"/>
<rect x="355.12" y="647.72" width="19.9" height="21.3" fill="#d4d4d4"/>
<rect x="377.39" y="647.72" width="19.9" height="21.3" fill="#d4d4d4"/>
<rect x="399.66" y="647.72" width="19.9" height="21.3" fill="#d4d4d4"/>
<rect x="421.93" y="647.72" width="19.9" height="21.3" fill="#d4d4d4"/>
<rect x="444.2" y="647.72" width="19.9" height="21.3" fill="#d4d4d4"/>
<rect x="466.47" y="647.72" width="19.9" height="21.3" fill="#d4d4d4"/>
<rect x="488.74" y="647.72" width="19.9" height="21.3" fill="#d4d4d4"/>
<rect x="511.01" y="647.72" width="19.9" height="21.3" fill="#d4d4d4"/>
<rect x="533.28" y="647.72" width="19.9" height="21.3" fill="#d4d4d4"/>
<rect x="555.55" y="647.72" width="19.9" height="21.3" fill="#d4d4d4"/>
<rect x="577.82" y="647.72" width="19.9" height="21.3" fill="#d4d4d4"/>
<rect x="600.09" y="647.72" width="19.9" height="21.3" fill="#d4d4d4"/>
<text x="197" y="667.82" font-size="21.1" text-anchor="end">RNF213</text>
<text x="627.3" y="667.84" font-size="20.7">5.6%</text>
<rect x="692" y="651.32" width="6.73" height="13.8" fill="#6cc5a1"/>
<rect x="221.5" y="671.8" width="19.9" height="21.3" fill="#d4d4d4"/>
<rect x="243.77" y="671.8" width="19.9" height="21.3" fill="#d4d4d4"/>
<rect x="266.04" y="671.8" width="19.9" height="21.3" fill="#d4d4d4"/>
<rect x="288.31" y="671.8" width="19.9" height="21.3" fill="#d4d4d4"/>
<rect x="310.58" y="671.8" width="19.9" height="21.3" fill="#6cc5a1"/>
<rect x="332.85" y="671.8" width="19.9" height="21.3" fill="#d4d4d4"/>
<rect x="355.12" y="671.8" width="19.9" height="21.3" fill="#d4d4d4"/>
<rect x="377.39" y="671.8" width="19.9" height="21.3" fill="#6cc5a1"/>
<rect x="399.66" y="671.8" width="19.9" height="21.3" fill="#d4d4d4"/>
<rect x="421.93" y="671.8" width="19.9" height="21.3" fill="#d4d4d4"/>
<rect x="444.2" y="671.8" width="19.9" height="21.3" fill="#d4d4d4"/>
<rect x="466.47" y="671.8" width="19.9" height="21.3" fill="#d4d4d4"/>
<rect x="488.74" y="671.8" width="19.9" height="21.3" fill="#d4d4d4"/>
<rect x="511.01" y="671.8" width="19.9" height="21.3" fill="#d4d4d4"/>
<rect x="533.28" y="671.8" width="19.9" height="21.3" fill="#d4d4d4"/>
<rect x="555.55" y="671.8" width="19.9" height="21.3" fill="#d4d4d4"/>
<rect x="577.82" y="671.8" width="19.9" height="21.3" fill="#d4d4d4"/>
<rect x="600.09" y="671.8" width="19.9" height="21.3" fill="#d4d4d4"/>
<text x="197" y="691.9" font-size="21.1" text-anchor="end">HRNR</text>
<text x="627.3" y="692" font-size="20.7">11.1%</text>
<rect x="692" y="675.4" width="13.46" height="13.8" fill="#6cc5a1"/>
<rect x="221.5" y="695.87" width="19.9" height="21.3" fill="#d4d4d4"/>
<rect x="243.77" y="695.87" width="19.9" height="21.3" fill="#d4d4d4"/>
<rect x="266.04" y="695.87" width="19.9" height="21.3" fill="#d4d4d4"/>
<rect x="288.31" y="695.87" width="19.9" height="21.3" fill="#6cc5a1"/>
<rect x="310.58" y="695.87" width="19.9" height="21.3" fill="#6cc5a1"/>
<rect x="332.85" y="695.87" width="19.9" height="21.3" fill="#d4d4d4"/>
<rect x="355.12" y="695.87" width="19.9" height="21.3" fill="#d4d4d4"/>
<rect x="377.39" y="695.87" width="19.9" height="21.3" fill="#d4d4d4"/>
<rect x="399.66" y="695.87" width="19.9" height="21.3" fill="#d4d4d4"/>
<rect x="421.93" y="695.87" width="19.9" height="21.3" fill="#d4d4d4"/>
<rect x="444.2" y="695.87" width="19.9" height="21.3" fill="#dcc08b"/>
<rect x="466.47" y="695.87" width="19.9" height="21.3" fill="#d4d4d4"/>
<rect x="488.74" y="695.87" width="19.9" height="21.3" fill="#d4d4d4"/>
<rect x="511.01" y="695.87" width="19.9" height="21.3" fill="#d4d4d4"/>
<rect x="533.28" y="695.87" width="19.9" height="21.3" fill="#6cc5a1"/>
<rect x="555.55" y="695.87" width="19.9" height="21.3" fill="#d4d4d4"/>
<rect x="577.82" y="695.87" width="19.9" height="21.3" fill="#d4d4d4"/>
<rect x="600.09" y="695.87" width="19.9" height="21.3" fill="#d4d4d4"/>
<text x="197" y="715.97" font-size="21.1" text-anchor="end">PKD1</text>
<text x="627.3" y="716.15" font-size="20.7">22.2%</text>
<rect x="692" y="699.47" width="20.19" height="13.8" fill="#6cc5a1"/>
<rect x="712.19" y="699.47" width="6.73" height="13.8" fill="#dcc08b"/>
<rect x="221.5" y="719.95" width="19.9" height="21.3" fill="#d4d4d4"/>
<rect x="243.77" y="719.95" width="19.9" height="21.3" fill="#d4d4d4"/>
<rect x="266.04" y="719.95" width="19.9" height="21.3" fill="#d4d4d4"/>
<rect x="288.31" y="719.95" width="19.9" height="21.3" fill="#6cc5a1"/>
<rect x="310.58" y="719.95" width="19.9" height="21.3" fill="#d4d4d4"/>
<rect x="332.85" y="719.95" width="19.9" height="21.3" fill="#6cc5a1"/>
<rect x="355.12" y="719.95" width="19.9" height="21.3" fill="#d4d4d4"/>
<rect x="377.39" y="719.95" width="19.9" height="21.3" fill="#d4d4d4"/>
<rect x="399.66" y="719.95" width="19.9" height="21.3" fill="#d4d4d4"/>
<rect x="421.93" y="719.95" width="19.9" height="21.3" fill="#d4d4d4"/>
<rect x="444.2" y="719.95" width="19.9" height="21.3" fill="#d4d4d4"/>
<rect x="466.47" y="719.95" width="19.9" height="21.3" fill="#d4d4d4"/>
<rect x="488.74" y="719.95" width="19.9" height="21.3" fill="#d4d4d4"/>
<rect x="511.01" y="719.95" width="19.9" height="21.3" fill="#d4d4d4"/>
<rect x="533.28" y="719.95" width="19.9" height="21.3" fill="#d4d4d4"/>
<rect x="555.55" y="719.95" width="19.9" height="21.3" fill="#d4d4d4"/>
<rect x="577.82" y="719.95" width="19.9" height="21.3" fill="#d4d4d4"/>
<rect x="600.09" y="719.95" width="19.9" height="21.3" fill="#d4d4d4"/>
<text x="197" y="740.05" font-size="21.1" text-anchor="end">ZNF469</text>
<text x="627.3" y="740.31" font-size="20.7">11.1%</text>
<rect x="692" y="723.55" width="13.46" height="13.8" fill="#6cc5a1"/>
<rect x="221.5" y="744.02" width="19.9" height="21.3" fill="#d4d4d4"/>
<rect x="243.77" y="744.02" width="19.9" height="21.3" fill="#d4d4d4"/>
<rect x="266.04" y="744.02" width="19.9" height="21.3" fill="#d4d4d4"/>
<rect x="288.31" y="744.02" width="19.9" height="21.3" fill="#d4d4d4"/>
<rect x="310.58" y="744.02" width="19.9" height="21.3" fill="#6cc5a1"/>
<rect x="332.85" y="744.02" width="19.9" height="21.3" fill="#d4d4d4"/>
<rect x="355.12" y="744.02" width="19.9" height="21.3" fill="#6cc5a1"/>
<rect x="377.39" y="744.02" width="19.9" height="21.3" fill="#d4d4d4"/>
<rect x="399.66" y="744.02" width="19.9" height="21.3" fill="#d4d4d4"/>
<rect x="421.93" y="744.02" width="19.9" height="21.3" fill="#d4d4d4"/>
<rect x="444.2" y="744.02" width="19.9" height="21.3" fill="#d4d4d4"/>
<rect x="466.47" y="744.02" width="19.9" height="21.3" fill="#d4d4d4"/>
<rect x="488.74" y="744.02" width="19.9" height="21.3" fill="#d4d4d4"/>
<rect x="511.01" y="744.02" width="19.9" height="21.3" fill="#d4d4d4"/>
<rect x="533.28" y="744.02" width="19.9" height="21.3" fill="#d4d4d4"/>
<rect x="555.55" y="744.02" width="19.9" height="21.3" fill="#d4d4d4"/>
<rect x="577.82" y="744.02" width="19.9" height="21.3" fill="#d4d4d4"/>
<rect x="600.09" y="744.02" width="19.9" height="21.3" fill="#d4d4d4"/>
<text x="197" y="764.12" font-size="21.1" text-anchor="end">MDN1</text>
<text x="627.3" y="764.47" font-size="20.7">11.1%</text>
<rect x="692" y="747.62" width="13.46" height="13.8" fill="#6cc5a1"/>
<rect x="221.5" y="768.1" width="19.9" height="21.3" fill="#6cc5a1"/>
<rect x="243.77" y="768.1" width="19.9" height="21.3" fill="#d4d4d4"/>
<rect x="266.04" y="768.1" width="19.9" height="21.3" fill="#d4d4d4"/>
<rect x="288.31" y="768.1" width="19.9" height="21.3" fill="#d4d4d4"/>
<rect x="310.58" y="768.1" width="19.9" height="21.3" fill="#d4d4d4"/>
<rect x="332.85" y="768.1" width="19.9" height="21.3" fill="#d4d4d4"/>
<rect x="355.12" y="768.1" width="19.9" height="21.3" fill="#d4d4d4"/>
<rect x="377.39" y="768.1" width="19.9" height="21.3" fill="#6cc5a1"/>
<rect x="399.66" y="768.1" width="19.9" height="21.3" fill="#d4d4d4"/>
<rect x="421.93" y="768.1" width="19.9" height="21.3" fill="#d4d4d4"/>
<rect x="444.2" y="768.1" width="19.9" height="21.3" fill="#d4d4d4"/>
<rect x="466.47" y="768.1" width="19.9" height="21.3" fill="#6cc5a1"/>
<rect x="488.74" y="768.1" width="19.9" height="21.3" fill="#d4d4d4"/>
<rect x="511.01" y="768.1" width="19.9" height="21.3" fill="#d4d4d4"/>
<rect x="533.28" y="768.1" width="19.9" height="21.3" fill="#d4d4d4"/>
<rect x="555.55" y="768.1" width="19.9" height="21.3" fill="#d4d4d4"/>
<rect x="577.82" y="768.1" width="19.9" height="21.3" fill="#d4d4d4"/>
<rect x="600.09" y="768.1" width="19.9" height="21.3" fill="#d4d4d4"/>
<text x="197" y="788.2" font-size="21.1" text-anchor="end">DNAH14</text>
<text x="627.3" y="788.62" font-size="20.7">16.7%</text>
<rect x="692" y="771.7" width="20.19" height="13.8" fill="#6cc5a1"/>
<rect x="221.5" y="792.18" width="19.9" height="21.3" fill="#6cc5a1"/>
<rect x="243.77" y="792.18" width="19.9" height="21.3" fill="#d4d4d4"/>
<rect x="266.04" y="792.18" width="19.9" height="21.3" fill="#d4d4d4"/>
<rect x="288.31" y="792.18" width="19.9" height="21.3" fill="#d4d4d4"/>
<rect x="310.58" y="792.18" width="19.9" height="21.3" fill="#d4d4d4"/>
<rect x="332.85" y="792.18" width="19.9" height="21.3" fill="#d4d4d4"/>
<rect x="355.12" y="792.18" width="19.9" height="21.3" fill="#d4d4d4"/>
<rect x="377.39" y="792.18" width="19.9" height="21.3" fill="#6cc5a1"/>
<rect x="399.66" y="792.18" width="19.9" height="21.3" fill="#d4d4d4"/>
<rect x="421.93" y="792.18" width="19.9" height="21.3" fill="#d4d4d4"/>
<rect x="444.2" y="792.18" width="19.9" height="21.3" fill="#6cc5a1"/>
<rect x="466.47" y="792.18" width="19.9" height="21.3" fill="#d4d4d4"/>
<rect x="488.74" y="792.18" width="19.9" height="21.3" fill="#d4d4d4"/>
<rect x="511.01" y="792.18" width="19.9" height="21.3" fill="#d4d4d4"/>
<rect x="533.28" y="792.18" width="19.9" height="21.3" fill="#d4d4d4"/>
<rect x="555.55" y="792.18" width="19.9" height="21.3" fill="#6cc5a1"/>
<rect x="577.82" y="792.18" width="19.9" height="21.3" fill="#d4d4d4"/>
<rect x="600.09" y="792.18" width="19.9" height="21.3" fill="#d4d4d4"/>
<text x="197" y="812.28" font-size="21.1" text-anchor="end">MUC5B</text>
<text x="627.3" y="812.78" font-size="20.7">22.2%</text>
<rect x="692" y="795.78" width="26.92" height="13.8" fill="#6cc5a1"/>
<rect x="221.5" y="816.25" width="19.9" height="21.3" fill="#d4d4d4"/>
<rect x="243.77" y="816.25" width="19.9" height="21.3" fill="#d4d4d4"/>
<rect x="266.04" y="816.25" width="19.9" height="21.3" fill="#d4d4d4"/>
<rect x="288.31" y="816.25" width="19.9" height="21.3" fill="#d4d4d4"/>
<rect x="310.58" y="816.25" width="19.9" height="21.3" fill="#d4d4d4"/>
<rect x="332.85" y="816.25" width="19.9" height="21.3" fill="#d4d4d4"/>
<rect x="355.12" y="816.25" width="19.9" height="21.3" fill="#dcc08b"/>
<rect x="377.39" y="816.25" width="19.9" height="21.3" fill="#d4d4d4"/>
<rect x="399.66" y="816.25" width="19.9" height="21.3" fill="#d4d4d4"/>
<rect x="421.93" y="816.25" width="19.9" height="21.3" fill="#d4d4d4"/>
<rect x="444.2" y="816.25" width="19.9" height="21.3" fill="#d4d4d4"/>
<rect x="466.47" y="816.25" width="19.9" height="21.3" fill="#6cc5a1"/>
<rect x="488.74" y="816.25" width="19.9" height="21.3" fill="#d4d4d4"/>
<rect x="511.01" y="816.25" width="19.9" height="21.3" fill="#d4d4d4"/>
<rect x="533.28" y="816.25" width="19.9" height="21.3" fill="#d4d4d4"/>
<rect x="555.55" y="816.25" width="19.9" height="21.3" fill="#6cc5a1"/>
<rect x="577.82" y="816.25" width="19.9" height="21.3" fill="#d4d4d4"/>
<rect x="600.09" y="816.25" width="19.9" height="21.3" fill="#d4d4d4"/>
<text x="197" y="836.35" font-size="21.1" text-anchor="end">HMCN1</text>
<text x="627.3" y="836.94" font-size="20.7">16.7%</text>
<rect x="692" y="819.85" width="13.46" height="13.8" fill="#6cc5a1"/>
<rect x="705.46" y="819.85" width="6.73" height="13.8" fill="#dcc08b"/>
<rect x="221.5" y="840.33" width="19.9" height="21.3" fill="#d4d4d4"/>
<rect x="243.77" y="840.33" width="19.9" height="21.3" fill="#d4d4d4"/>
<rect x="266.04" y="840.33" width="19.9" height="21.3" fill="#d4d4d4"/>
<rect x="288.31" y="840.33" width="19.9" height="21.3" fill="#d4d4d4"/>
<rect x="310.58" y="840.33" width="19.9" height="21.3" fill="#6cc5a1"/>
<rect x="332.85" y="840.33" width="19.9" height="21.3" fill="#dcc08b"/>
<rect x="355.12" y="840.33" width="19.9" height="21.3" fill="#d4d4d4"/>
<rect x="377.39" y="840.33" width="19.9" height="21.3" fill="#d4d4d4"/>
<rect x="399.66" y="840.33" width="19.9" height="21.3" fill="#d4d4d4"/>
<rect x="421.93" y="840.33" width="19.9" height="21.3" fill="#6cc5a1"/>
<rect x="444.2" y="840.33" width="19.9" height="21.3" fill="#6cc5a1"/>
<rect x="466.47" y="840.33" width="19.9" height="21.3" fill="#d4d4d4"/>
<rect x="488.74" y="840.33" width="19.9" height="21.3" fill="#d4d4d4"/>
<rect x="511.01" y="840.33" width="19.9" height="21.3" fill="#d4d4d4"/>
<rect x="533.28" y="840.33" width="19.9" height="21.3" fill="#d4d4d4"/>
<rect x="555.55" y="840.33" width="19.9" height="21.3" fill="#6cc5a1"/>
<rect x="577.82" y="840.33" width="19.9" height="21.3" fill="#d4d4d4"/>
<rect x="600.09" y="840.33" width="19.9" height="21.3" fill="#d4d4d4"/>
<text x="197" y="860.43" font-size="21.1" text-anchor="end">KMT2C</text>
<text x="627.3" y="861.1" font-size="20.7">27.8%</text>
<rect x="692" y="843.93" width="26.92" height="13.8" fill="#6cc5a1"/>
<rect x="718.92" y="843.93" width="6.73" height="13.8" fill="#dcc08b"/>
<rect x="221.5" y="864.4" width="19.9" height="21.3" fill="#d4d4d4"/>
<rect x="243.77" y="864.4" width="19.9" height="21.3" fill="#d4d4d4"/>
<rect x="266.04" y="864.4" width="19.9" height="21.3" fill="#d4d4d4"/>
<rect x="288.31" y="864.4" width="19.9" height="21.3" fill="#d4d4d4"/>
<rect x="310.58" y="864.4" width="19.9" height="21.3" fill="#d4d4d4"/>
<rect x="332.85" y="864.4" width="19.9" height="21.3" fill="#d4d4d4"/>
<rect x="355.12" y="864.4" width="19.9" height="21.3" fill="#d4d4d4"/>
<rect x="377.39" y="864.4" width="19.9" height="21.3" fill="#d4d4d4"/>
<rect x="399.66" y="864.4" width="19.9" height="21.3" fill="#d4d4d4"/>
<rect x="421.93" y="864.4" width="19.9" height="21.3" fill="#d4d4d4"/>
<rect x="444.2" y="864.4" width="19.9" height="21.3" fill="#6cc5a1"/>
<rect x="466.47" y="864.4" width="19.9" height="21.3" fill="#d4d4d4"/>
<rect x="488.74" y="864.4" width="19.9" height="21.3" fill="#d4d4d4"/>
<rect x="511.01" y="864.4" width="19.9" height="21.3" fill="#d4d4d4"/>
<rect x="533.28" y="864.4" width="19.9" height="21.3" fill="#d4d4d4"/>
<rect x="555.55" y="864.4" width="19.9" height="21.3" fill="#d4d4d4"/>
<rect x="577.82" y="864.4" width="19.9" height="21.3" fill="#d4d4d4"/>
<rect x="600.09" y="864.4" width="19.9" height="21.3" fill="#d4d4d4"/>
<text x="197" y="884.5" font-size="21.1" text-anchor="end">MACF1</text>
<text x="627.3" y="885.25" font-size="20.7">5.6%</text>
<rect x="692" y="868" width="6.73" height="13.8" fill="#6cc5a1"/>
<rect x="221.5" y="888.48" width="19.9" height="21.3" fill="#d4d4d4"/>
<rect x="243.77" y="888.48" width="19.9" height="21.3" fill="#d4d4d4"/>
<rect x="266.04" y="888.48" width="19.9" height="21.3" fill="#dcc08b"/>
<rect x="288.31" y="888.48" width="19.9" height="21.3" fill="#6cc5a1"/>
<rect x="310.58" y="888.48" width="19.9" height="21.3" fill="#d4d4d4"/>
<rect x="332.85" y="888.48" width="19.9" height="21.3" fill="#d4d4d4"/>
<rect x="355.12" y="888.48" width="19.9" height="21.3" fill="#d4d4d4"/>
<rect x="377.39" y="888.48" width="19.9" height="21.3" fill="#d4d4d4"/>
<rect x="399.66" y="888.48" width="19.9" height="21.3" fill="#d4d4d4"/>
<rect x="421.93" y="888.48" width="19.9" height="21.3" fill="#d4d4d4"/>
<rect x="444.2" y="888.48" width="19.9" height="21.3" fill="#d4d4d4"/>
<rect x="466.47" y="888.48" width="19.9" height="21.3" fill="#d4d4d4"/>
<rect x="488.74" y="888.48" width="19.9" height="21.3" fill="#d4d4d4"/>
<rect x="511.01" y="888.48" width="19.9" height="21.3" fill="#d4d4d4"/>
<rect x="533.28" y="888.48" width="19.9" height="21.3" fill="#d4d4d4"/>
<rect x="555.55" y="888.48" width="19.9" height="21.3" fill="#d4d4d4"/>
<rect x="577.82" y="888.48" width="19.9" height="21.3" fill="#d4d4d4"/>
<rect x="600.09" y="888.48" width="19.9" height="21.3" fill="#d4d4d4"/>
<text x="197" y="908.58" font-size="21.1" text-anchor="end">FAT3</text>
<text x="627.3" y="909.41" font-size="20.7">11.1%</text>
<rect x="692" y="892.08" width="6.73" height="13.8" fill="#6cc5a1"/>
<rect x="698.73" y="892.08" width="6.73" height="13.8" fill="#dcc08b"/>
<rect x="221.5" y="912.56" width="19.9" height="21.3" fill="#d4d4d4"/>
<rect x="243.77" y="912.56" width="19.9" height="21.3" fill="#d4d4d4"/>
<rect x="266.04" y="912.56" width="19.9" height="21.3" fill="#dcc08b"/>
<rect x="288.31" y="912.56" width="19.9" height="21.3" fill="#d4d4d4"/>
<rect x="310.58" y="912.56" width="19.9" height="21.3" fill="#e87e5a"/>
<rect x="332.85" y="912.56" width="19.9" height="21.3" fill="#dcc08b"/>
<rect x="355.12" y="912.56" width="19.9" height="21.3" fill="#d4d4d4"/>
<rect x="377.39" y="912.56" width="19.9" height="21.3" fill="#d4d4d4"/>
<rect x="399.66" y="912.56" width="19.9" height="21.3" fill="#d4d4d4"/>
<rect x="421.93" y="912.56" width="19.9" height="21.3" fill="#d4d4d4"/>
<rect x="444.2" y="912.56" width="19.9" height="21.3" fill="#d4d4d4"/>
<rect x="466.47" y="912.56" width="19.9" height="21.3" fill="#d4d4d4"/>
<rect x="488.74" y="912.56" width="19.9" height="21.3" fill="#d4d4d4"/>
<rect x="511.01" y="912.56" width="19.9" height="21.3" fill="#d4d4d4"/>
<rect x="533.28" y="912.56" width="19.9" height="21.3" fill="#d4d4d4"/>
<rect x="555.55" y="912.56" width="19.9" height="21.3" fill="#d4d4d4"/>
<rect x="577.82" y="912.56" width="19.9" height="21.3" fill="#d4d4d4"/>
<rect x="600.09" y="912.56" width="19.9" height="21.3" fill="#d4d4d4"/>
<text x="197" y="932.66" font-size="21.1" text-anchor="end">ZFHX3</text>
<text x="627.3" y="933.57" font-size="20.7">16.7%</text>
<rect x="692" y="916.16" width="6.73" height="13.8" fill="#e87e5a"/>
<rect x="698.73" y="916.16" width="13.46" height="13.8" fill="#dcc08b"/>
<rect x="221.5" y="936.63" width="19.9" height="21.3" fill="#d4d4d4"/>
<rect x="243.77" y="936.63" width="19.9" height="21.3" fill="#d4d4d4"/>
<rect x="266.04" y="936.63" width="19.9" height="21.3" fill="#d4d4d4"/>
<rect x="288.31" y="936.63" width="19.9" height="21.3" fill="#d4d4d4"/>
<rect x="310.58" y="936.63" width="19.9" height="21.3" fill="#6cc5a1"/>
<rect x="332.85" y="936.63" width="19.9" height="21.3" fill="#d4d4d4"/>
<rect x="355.12" y="936.63" width="19.9" height="21.3" fill="#6cc5a1"/>
<rect x="377.39" y="936.63" width="19.9" height="21.3" fill="#d4d4d4"/>
<rect x="399.66" y="936.63" width="19.9" height="21.3" fill="#d4d4d4"/>
<rect x="421.93" y="936.63" width="19.9" height="21.3" fill="#d4d4d4"/>
<rect x="444.2" y="936.63" width="19.9" height="21.3" fill="#dcc08b"/>
<rect x="466.47" y="936.63" width="19.9" height="21.3" fill="#d4d4d4"/>
<rect x="488.74" y="936.63" width="19.9" height="21.3" fill="#d4d4d4"/>
<rect x="511.01" y="936.63" width="19.9" height="21.3" fill="#d4d4d4"/>
<rect x="533.28" y="936.63" width="19.9" height="21.3" fill="#d4d4d4"/>
<rect x="555.55" y="936.63" width="19.9" height="21.3" fill="#d4d4d4"/>
<rect x="577.82" y="936.63" width="19.9" height="21.3" fill="#6cc5a1"/>
<rect x="600.09" y="936.63" width="19.9" height="21.3" fill="#d4d4d4"/>
<text x="197" y="956.73" font-size="21.1" text-anchor="end">ADGRV1</text>
<text x="627.3" y="957.72" font-size="20.7">22.2%</text>
<rect x="692" y="940.23" width="20.19" height="13.8" fill="#6cc5a1"/>
<rect x="712.19" y="940.23" width="6.73" height="13.8" fill="#dcc08b"/>
<rect x="221.5" y="960.71" width="19.9" height="21.3" fill="#6cc5a1"/>
<rect x="243.77" y="960.71" width="19.9" height="21.3" fill="#d4d4d4"/>
<rect x="266.04" y="960.71" width="19.9" height="21.3" fill="#d4d4d4"/>
<rect x="288.31" y="960.71" width="19.9" height="21.3" fill="#d4d4d4"/>
<rect x="310.58" y="960.71" width="19.9" height="21.3" fill="#d4d4d4"/>
<rect x="332.85" y="960.71" width="19.9" height="21.3" fill="#6cc5a1"/>
<rect x="355.12" y="960.71" width="19.9" height="21.3" fill="#d4d4d4"/>
<rect x="377.39" y="960.71" width="19.9" height="21.3" fill="#d4d4d4"/>
<rect x="399.66" y="960.71" width="19.9" height="21.3" fill="#d4d4d4"/>
<rect x="421.93" y="960.71" width="19.9" height="21.3" fill="#d4d4d4"/>
<rect x="444.2" y="960.71" width="19.9" height="21.3" fill="#d4d4d4"/>
<rect x="466.47" y="960.71" width="19.9" height="21.3" fill="#d4d4d4"/>
<rect x="488.74" y="960.71" width="19.9" height="21.3" fill="#d4d4d4"/>
<rect x="511.01" y="960.71" width="19.9" height="21.3" fill="#d4d4d4"/>
<rect x="533.28" y="960.71" width="19.9" height="21.3" fill="#d4d4d4"/>
<rect x="555.55" y="960.71" width="19.9" height="21.3" fill="#d4d4d4"/>
<rect x="577.82" y="960.71" width="19.9" height="21.3" fill="#d4d4d4"/>
<rect x="600.09" y="960.71" width="19.9" height="21.3" fill="#d4d4d4"/>
<text x="197" y="980.81" font-size="21.1" text-anchor="end">PDE4DIP</text>
<text x="627.3" y="981.88" font-size="20.7">11.1%</text>
<rect x="692" y="964.31" width="13.46" height="13.8" fill="#6cc5a1"/>
<rect x="221.5" y="984.78" width="19.9" height="21.3" fill="#6cc5a1"/>
<rect x="243.77" y="984.78" width="19.9" height="21.3" fill="#d4d4d4"/>
<rect x="266.04" y="984.78" width="19.9" height="21.3" fill="#6cc5a1"/>
<rect x="288.31" y="984.78" width="19.9" height="21.3" fill="#d4d4d4"/>
<rect x="310.58" y="984.78" width="19.9" height="21.3" fill="#d4d4d4"/>
<rect x="332.85" y="984.78" width="19.9" height="21.3" fill="#d4d4d4"/>
<rect x="355.12" y="984.78" width="19.9" height="21.3" fill="#6cc5a1"/>
<rect x="377.39" y="984.78" width="19.9" height="21.3" fill="#d4d4d4"/>
<rect x="399.66" y="984.78" width="19.9" height="21.3" fill="#d4d4d4"/>
<rect x="421.93" y="984.78" width="19.9" height="21.3" fill="#d4d4d4"/>
<rect x="444.2" y="984.78" width="19.9" height="21.3" fill="#d4d4d4"/>
<rect x="466.47" y="984.78" width="19.9" height="21.3" fill="#d4d4d4"/>
<rect x="488.74" y="984.78" width="19.9" height="21.3" fill="#d4d4d4"/>
<rect x="511.01" y="984.78" width="19.9" height="21.3" fill="#d4d4d4"/>
<rect x="533.28" y="984.78" width="19.9" height="21.3" fill="#d4d4d4"/>
<rect x="555.55" y="984.78" width="19.9" height="21.3" fill="#d4d4d4"/>
<rect x="577.82" y="984.78" width="19.9" height="21.3" fill="#d4d4d4"/>
<rect x="600.09" y="984.78" width="19.9" height="21.3" fill="#d4d4d4"/>
<text x="197" y="1004.88" font-size="21.1" text-anchor="end">ERBB2</text>
<text x="627.3" y="1006.04" font-size="20.7">16.7%</text>
<rect x="692" y="988.38" width="20.19" height="13.8" fill="#6cc5a1"/>
<rect x="221.5" y="1008.86" width="19.9" height="21.3" fill="#d4d4d4"/>
<rect x="243.77" y="1008.86" width="19.9" height="21.3" fill="#d4d4d4"/>
<rect x="266.04" y="1008.86" width="19.9" height="21.3" fill="#d4d4d4"/>
<rect x="288.31" y="1008.86" width="19.9" height="21.3" fill="#6cc5a1"/>
<rect x="310.58" y="1008.86" width="19.9" height="21.3" fill="#d4d4d4"/>
<rect x="332.85" y="1008.86" width="19.9" height="21.3" fill="#d4d4d4"/>
<rect x="355.12" y="1008.86" width="19.9" height="21.3" fill="#d4d4d4"/>
<rect x="377.39" y="1008.86" width="19.9" height="21.3" fill="#d4d4d4"/>
<rect x="399.66" y="1008.86" width="19.9" height="21.3" fill="#d4d4d4"/>
<rect x="421.93" y="1008.86" width="19.9" height="21.3" fill="#d4d4d4"/>
<rect x="444.2" y="1008.86" width="19.9" height="21.3" fill="#dcc08b"/>
<rect x="466.47" y="1008.86" width="19.9" height="21.3" fill="#d4d4d4"/>
<rect x="488.74" y="1008.86" width="19.9" height="21.3" fill="#d4d4d4"/>
<rect x="511.01" y="1008.86" width="19.9" height="21.3" fill="#d4d4d4"/>
<rect x="533.28" y="1008.86" width="19.9" height="21.3" fill="#d4d4d4"/>
<rect x="555.55" y="1008.86" width="19.9" height="21.3" fill="#d4d4d4"/>
<rect x="577.82" y="1008.86" width="19.9" height="21.3" fill="#d4d4d4"/>
<rect x="600.09" y="1008.86" width="19.9" height="21.3" fill="#d4d4d4"/>
<text x="197" y="1028.96" font-size="21.1" text-anchor="end">RB1</text>
<text x="627.3" y="1030.19" font-size="20.7">11.1%</text>
<rect x="692" y="1012.46" width="6.73" height="13.8" fill="#6cc5a1"/>
<rect x="698.73" y="1012.46" width="6.73" height="13.8" fill="#dcc08b"/>
<rect x="221.5" y="1032.94" width="19.9" height="21.3" fill="#d4d4d4"/>
<rect x="243.77" y="1032.94" width="19.9" height="21.3" fill="#d4d4d4"/>
<rect x="266.04" y="1032.94" width="19.9" height="21.3" fill="#d4d4d4"/>
<rect x="288.31" y="1032.94" width="19.9" height="21.3" fill="#d4d4d4"/>
<rect x="310.58" y="1032.94" width="19.9" height="21.3" fill="#d4d4d4"/>
<rect x="332.85" y="1032.94" width="19.9" height="21.3" fill="#d4d4d4"/>
<rect x="355.12" y="1032.94" width="19.9" height="21.3" fill="#d4d4d4"/>
<rect x="377.39" y="1032.94" width="19.9" height="21.3" fill="#d4d4d4"/>
<rect x="399.66" y="1032.94" width="19.9" height="21.3" fill="#d4d4d4"/>
<rect x="421.93" y="1032.94" width="19.9" height="21.3" fill="#d4d4d4"/>
<rect x="444.2" y="1032.94" width="19.9" height="21.3" fill="#d4d4d4"/>
<rect x="466.47" y="1032.94" width="19.9" height="21.3" fill="#d4d4d4"/>
<rect x="488.74" y="1032.94" width="19.9" height="21.3" fill="#d4d4d4"/>
<rect x="511.01" y="1032.94" width="19.9" height="21.3" fill="#6cc5a1"/>
<rect x="533.28" y="1032.94" width="19.9" height="21.3" fill="#6cc5a1"/>
<rect x="555.55" y="1032.94" width="19.9" height="21.3" fill="#e87e5a"/>
<rect x="577.82" y="1032.94" width="19.9" height="21.3" fill="#d4d4d4"/>
<rect x="600.09" y="1032.94" width="19.9" height="21.3" fill="#d4d4d4"/>
<text x="197" y="1053.04" font-size="21.1" text-anchor="end">FGFR3</text>
<text x="627.3" y="1054.35" font-size="20.7">16.7%</text>
<rect x="692" y="1036.54" width="20.19" height="13.8" fill="#6cc5a1"/>
<rect x="712.19" y="1036.54" width="6.73" height="13.8" fill="#e87e5a"/>
<rect x="221.5" y="1057.01" width="19.9" height="21.3" fill="#d4d4d4"/>
<rect x="243.77" y="1057.01" width="19.9" height="21.3" fill="#d4d4d4"/>
<rect x="266.04" y="1057.01" width="19.9" height="21.3" fill="#d4d4d4"/>
<rect x="288.31" y="1057.01" width="19.9" height="21.3" fill="#d4d4d4"/>
<rect x="310.58" y="1057.01" width="19.9" height="21.3" fill="#d4d4d4"/>
<rect x="332.85" y="1057.01" width="19.9" height="21.3" fill="#d4d4d4"/>
<rect x="355.12" y="1057.01" width="19.9" height="21.3" fill="#d4d4d4"/>
<rect x="377.39" y="1057.01" width="19.9" height="21.3" fill="#d4d4d4"/>
<rect x="399.66" y="1057.01" width="19.9" height="21.3" fill="#d4d4d4"/>
<rect x="421.93" y="1057.01" width="19.9" height="21.3" fill="#6cc5a1"/>
<rect x="444.2" y="1057.01" width="19.9" height="21.3" fill="#d4d4d4"/>
<rect x="466.47" y="1057.01" width="19.9" height="21.3" fill="#d4d4d4"/>
<rect x="488.74" y="1057.01" width="19.9" height="21.3" fill="#d4d4d4"/>
<rect x="511.01" y="1057.01" width="19.9" height="21.3" fill="#d4d4d4"/>
<rect x="533.28" y="1057.01" width="19.9" height="21.3" fill="#d4d4d4"/>
<rect x="555.55" y="1057.01" width="19.9" height="21.3" fill="#d4d4d4"/>
<rect x="577.82" y="1057.01" width="19.9" height="21.3" fill="#d4d4d4"/>
<rect x="600.09" y="1057.01" width="19.9" height="21.3" fill="#d4d4d4"/>
<text x="197" y="1077.11" font-size="21.1" text-anchor="end">CDKN2A</text>
<text x="627.3" y="1078.51" font-size="20.7">5.6%</text>
<rect x="692" y="1060.61" width="6.73" height="13.8" fill="#6cc5a1"/>
<line x1="690.8" y1="164.8" x2="784.4" y2="164.8" stroke="#000" stroke-width="2.1"/>
<line x1="692" y1="159.4" x2="692" y2="164.8" stroke="#000" stroke-width="2.1"/>
<text x="692" y="157.5" font-size="16.8" text-anchor="middle">0</text>
<line x1="725.65" y1="159.4" x2="725.65" y2="164.8" stroke="#000" stroke-width="2.1"/>
<text x="725.65" y="157.5" font-size="16.8" text-anchor="middle">5</text>
<line x1="759.3" y1="159.4" x2="759.3" y2="164.8" stroke="#000" stroke-width="2.1"/>
<text x="759.3" y="157.5" font-size="16.8" text-anchor="middle">10</text>
<rect x="224.85" y="1151.3" width="13.2" height="29.2" fill="#3f6fa3"/>
<rect x="224.85" y="1136.7" width="13.2" height="14.6" fill="#d62b30"/>
<rect x="247.12" y="1151.3" width="13.2" height="29.2" fill="#3f6fa3"/>
<rect x="247.12" y="1136.7" width="13.2" height="14.6" fill="#d62b30"/>
<rect x="269.39" y="1151.3" width="13.2" height="29.2" fill="#3f6fa3"/>
<rect x="291.66" y="1165.9" width="13.2" height="14.6" fill="#d62b30"/>
<rect x="313.93" y="1136.7" width="13.2" height="43.8" fill="#d62b30"/>
<rect x="336.2" y="1122.1" width="13.2" height="58.4" fill="#d62b30"/>
<rect x="358.47" y="1122.1" width="13.2" height="58.4" fill="#d62b30"/>
<rect x="380.74" y="1136.7" width="13.2" height="43.8" fill="#d62b30"/>
<rect x="403.01" y="1151.3" width="13.2" height="29.2" fill="#3f6fa3"/>
<rect x="403.01" y="1136.7" width="13.2" height="14.6" fill="#d62b30"/>
<rect x="425.28" y="1165.9" width="13.2" height="14.6" fill="#d62b30"/>
<rect x="469.82" y="1165.9" width="13.2" height="14.6" fill="#d62b30"/>
<rect x="492.09" y="1165.9" width="13.2" height="14.6" fill="#d62b30"/>
<rect x="514.36" y="1136.7" width="13.2" height="43.8" fill="#3f6fa3"/>
<rect x="536.63" y="1165.9" width="13.2" height="14.6" fill="#3f6fa3"/>
<rect x="558.9" y="1151.3" width="13.2" height="29.2" fill="#3f6fa3"/>
<rect x="558.9" y="1107.5" width="13.2" height="43.8" fill="#d62b30"/>
<rect x="581.17" y="1136.7" width="13.2" height="43.8" fill="#3f6fa3"/>
<rect x="581.17" y="1092.9" width="13.2" height="43.8" fill="#d62b30"/>
<rect x="603.44" y="1136.7" width="13.2" height="43.8" fill="#3f6fa3"/>
<line x1="220.65" y1="1088" x2="220.65" y2="1181.55" stroke="#000" stroke-width="2.1"/>
<line x1="215.05" y1="1180.5" x2="220.65" y2="1180.5" stroke="#000" stroke-width="2.1"/>
<text x="210" y="1186.5" font-size="16.8" text-anchor="end">0</text>
<line x1="215.05" y1="1151.3" x2="220.65" y2="1151.3" stroke="#000" stroke-width="2.1"/>
<text x="210" y="1157.3" font-size="16.8" text-anchor="end">2</text>
<line x1="215.05" y1="1122.1" x2="220.65" y2="1122.1" stroke="#000" stroke-width="2.1"/>
<text x="210" y="1128.1" font-size="16.8" text-anchor="end">4</text>
<line x1="215.05" y1="1092.9" x2="220.65" y2="1092.9" stroke="#000" stroke-width="2.1"/>
<text x="210" y="1098.9" font-size="16.8" text-anchor="end">6</text>
<rect x="221.5" y="1187" width="19.9" height="21.3" fill="#3f6fa3"/>
<rect x="243.77" y="1187" width="19.9" height="21.3" fill="#3f6fa3"/>
<rect x="266.04" y="1187" width="19.9" height="21.3" fill="#3f6fa3"/>
<rect x="288.31" y="1187" width="19.9" height="21.3" fill="#d4d4d4"/>
<rect x="310.58" y="1187" width="19.9" height="21.3" fill="#d4d4d4"/>
<rect x="332.85" y="1187" width="19.9" height="21.3" fill="#d4d4d4"/>
<rect x="355.12" y="1187" width="19.9" height="21.3" fill="#d4d4d4"/>
<rect x="377.39" y="1187" width="19.9" height="21.3" fill="#d62b30"/>
<rect x="399.66" y="1187" width="19.9" height="21.3" fill="#3f6fa3"/>
<rect x="421.93" y="1187" width="19.9" height="21.3" fill="#d4d4d4"/>
<rect x="444.2" y="1187" width="19.9" height="21.3" fill="#d4d4d4"/>
<rect x="466.47" y="1187" width="19.9" height="21.3" fill="#d4d4d4"/>
<rect x="488.74" y="1187" width="19.9" height="21.3" fill="#d4d4d4"/>
<rect x="511.01" y="1187" width="19.9" height="21.3" fill="#3f6fa3"/>
<rect x="533.28" y="1187" width="19.9" height="21.3" fill="#d4d4d4"/>
<rect x="555.55" y="1187" width="19.9" height="21.3" fill="#3f6fa3"/>
<rect x="577.82" y="1187" width="19.9" height="21.3" fill="#3f6fa3"/>
<rect x="600.09" y="1187" width="19.9" height="21.3" fill="#3f6fa3"/>
<text x="194.2" y="1206" font-size="21.1" text-anchor="end">CDKN2A</text>
<text x="627.3" y="1204" font-size="20.7">50%</text>
<rect x="692" y="1190.3" width="77.6" height="13.8" fill="#3f6fa3"/>
<rect x="769.6" y="1190.3" width="9.7" height="13.8" fill="#d62b30"/>
<rect x="221.5" y="1211.06" width="19.9" height="21.3" fill="#3f6fa3"/>
<rect x="243.77" y="1211.06" width="19.9" height="21.3" fill="#3f6fa3"/>
<rect x="266.04" y="1211.06" width="19.9" height="21.3" fill="#3f6fa3"/>
<rect x="288.31" y="1211.06" width="19.9" height="21.3" fill="#d4d4d4"/>
<rect x="310.58" y="1211.06" width="19.9" height="21.3" fill="#d4d4d4"/>
<rect x="332.85" y="1211.06" width="19.9" height="21.3" fill="#d4d4d4"/>
<rect x="355.12" y="1211.06" width="19.9" height="21.3" fill="#d4d4d4"/>
<rect x="377.39" y="1211.06" width="19.9" height="21.3" fill="#d62b30"/>
<rect x="399.66" y="1211.06" width="19.9" height="21.3" fill="#3f6fa3"/>
<rect x="421.93" y="1211.06" width="19.9" height="21.3" fill="#d4d4d4"/>
<rect x="444.2" y="1211.06" width="19.9" height="21.3" fill="#d4d4d4"/>
<rect x="466.47" y="1211.06" width="19.9" height="21.3" fill="#d4d4d4"/>
<rect x="488.74" y="1211.06" width="19.9" height="21.3" fill="#d4d4d4"/>
<rect x="511.01" y="1211.06" width="19.9" height="21.3" fill="#3f6fa3"/>
<rect x="533.28" y="1211.06" width="19.9" height="21.3" fill="#d4d4d4"/>
<rect x="555.55" y="1211.06" width="19.9" height="21.3" fill="#3f6fa3"/>
<rect x="577.82" y="1211.06" width="19.9" height="21.3" fill="#3f6fa3"/>
<rect x="600.09" y="1211.06" width="19.9" height="21.3" fill="#3f6fa3"/>
<text x="197" y="1229.82" font-size="21.1" text-anchor="end">CDKN2B</text>
<text x="627.3" y="1227.98" font-size="20.7">50%</text>
<rect x="692" y="1214.36" width="77.6" height="13.8" fill="#3f6fa3"/>
<rect x="769.6" y="1214.36" width="9.7" height="13.8" fill="#d62b30"/>
<rect x="221.5" y="1235.12" width="19.9" height="21.3" fill="#d4d4d4"/>
<rect x="243.77" y="1235.12" width="19.9" height="21.3" fill="#d4d4d4"/>
<rect x="266.04" y="1235.12" width="19.9" height="21.3" fill="#d4d4d4"/>
<rect x="288.31" y="1235.12" width="19.9" height="21.3" fill="#d4d4d4"/>
<rect x="310.58" y="1235.12" width="19.9" height="21.3" fill="#d4d4d4"/>
<rect x="332.85" y="1235.12" width="19.9" height="21.3" fill="#d62b30"/>
<rect x="355.12" y="1235.12" width="19.9" height="21.3" fill="#d62b30"/>
<rect x="377.39" y="1235.12" width="19.9" height="21.3" fill="#d4d4d4"/>
<rect x="399.66" y="1235.12" width="19.9" height="21.3" fill="#d4d4d4"/>
<rect x="421.93" y="1235.12" width="19.9" height="21.3" fill="#d4d4d4"/>
<rect x="444.2" y="1235.12" width="19.9" height="21.3" fill="#d4d4d4"/>
<rect x="466.47" y="1235.12" width="19.9" height="21.3" fill="#d4d4d4"/>
<rect x="488.74" y="1235.12" width="19.9" height="21.3" fill="#d4d4d4"/>
<rect x="511.01" y="1235.12" width="19.9" height="21.3" fill="#d4d4d4"/>
<rect x="533.28" y="1235.12" width="19.9" height="21.3" fill="#d4d4d4"/>
<rect x="555.55" y="1235.12" width="19.9" height="21.3" fill="#d4d4d4"/>
<rect x="577.82" y="1235.12" width="19.9" height="21.3" fill="#d62b30"/>
<rect x="600.09" y="1235.12" width="19.9" height="21.3" fill="#d4d4d4"/>
<text x="197" y="1253.64" font-size="21.1" text-anchor="end">APC</text>
<text x="627.3" y="1251.96" font-size="20.7">16.7%</text>
<rect x="692" y="1238.42" width="29.1" height="13.8" fill="#d62b30"/>
<rect x="221.5" y="1259.18" width="19.9" height="21.3" fill="#d4d4d4"/>
<rect x="243.77" y="1259.18" width="19.9" height="21.3" fill="#d62b30"/>
<rect x="266.04" y="1259.18" width="19.9" height="21.3" fill="#d4d4d4"/>
<rect x="288.31" y="1259.18" width="19.9" height="21.3" fill="#d4d4d4"/>
<rect x="310.58" y="1259.18" width="19.9" height="21.3" fill="#d4d4d4"/>
<rect x="332.85" y="1259.18" width="19.9" height="21.3" fill="#d4d4d4"/>
<rect x="355.12" y="1259.18" width="19.9" height="21.3" fill="#d4d4d4"/>
<rect x="377.39" y="1259.18" width="19.9" height="21.3" fill="#d4d4d4"/>
<rect x="399.66" y="1259.18" width="19.9" height="21.3" fill="#d62b30"/>
<rect x="421.93" y="1259.18" width="19.9" height="21.3" fill="#d62b30"/>
<rect x="444.2" y="1259.18" width="19.9" height="21.3" fill="#d4d4d4"/>
<rect x="466.47" y="1259.18" width="19.9" height="21.3" fill="#d4d4d4"/>
<rect x="488.74" y="1259.18" width="19.9" height="21.3" fill="#d4d4d4"/>
<rect x="511.01" y="1259.18" width="19.9" height="21.3" fill="#d4d4d4"/>
<rect x="533.28" y="1259.18" width="19.9" height="21.3" fill="#d4d4d4"/>
<rect x="555.55" y="1259.18" width="19.9" height="21.3" fill="#d62b30"/>
<rect x="577.82" y="1259.18" width="19.9" height="21.3" fill="#d62b30"/>
<rect x="600.09" y="1259.18" width="19.9" height="21.3" fill="#d4d4d4"/>
<text x="197" y="1277.46" font-size="21.1" text-anchor="end">CCND1</text>
<text x="627.3" y="1275.94" font-size="20.7">27.8%</text>
<rect x="692" y="1262.48" width="48.5" height="13.8" fill="#d62b30"/>
<rect x="221.5" y="1283.24" width="19.9" height="21.3" fill="#d4d4d4"/>
<rect x="243.77" y="1283.24" width="19.9" height="21.3" fill="#d4d4d4"/>
<rect x="266.04" y="1283.24" width="19.9" height="21.3" fill="#d4d4d4"/>
<rect x="288.31" y="1283.24" width="19.9" height="21.3" fill="#d4d4d4"/>
<rect x="310.58" y="1283.24" width="19.9" height="21.3" fill="#d4d4d4"/>
<rect x="332.85" y="1283.24" width="19.9" height="21.3" fill="#d62b30"/>
<rect x="355.12" y="1283.24" width="19.9" height="21.3" fill="#d4d4d4"/>
<rect x="377.39" y="1283.24" width="19.9" height="21.3" fill="#d4d4d4"/>
<rect x="399.66" y="1283.24" width="19.9" height="21.3" fill="#d4d4d4"/>
<rect x="421.93" y="1283.24" width="19.9" height="21.3" fill="#d4d4d4"/>
<rect x="444.2" y="1283.24" width="19.9" height="21.3" fill="#d4d4d4"/>
<rect x="466.47" y="1283.24" width="19.9" height="21.3" fill="#d4d4d4"/>
<rect x="488.74" y="1283.24" width="19.9" height="21.3" fill="#d62b30"/>
<rect x="511.01" y="1283.24" width="19.9" height="21.3" fill="#d4d4d4"/>
<rect x="533.28" y="1283.24" width="19.9" height="21.3" fill="#d4d4d4"/>
<rect x="555.55" y="1283.24" width="19.9" height="21.3" fill="#d62b30"/>
<rect x="577.82" y="1283.24" width="19.9" height="21.3" fill="#d62b30"/>
<rect x="600.09" y="1283.24" width="19.9" height="21.3" fill="#d4d4d4"/>
<text x="197" y="1301.28" font-size="21.1" text-anchor="end">MDM2</text>
<text x="627.3" y="1299.92" font-size="20.7">22.2%</text>
<rect x="692" y="1286.54" width="38.8" height="13.8" fill="#d62b30"/>
<rect x="221.5" y="1307.3" width="19.9" height="21.3" fill="#d4d4d4"/>
<rect x="243.77" y="1307.3" width="19.9" height="21.3" fill="#d4d4d4"/>
<rect x="266.04" y="1307.3" width="19.9" height="21.3" fill="#d4d4d4"/>
<rect x="288.31" y="1307.3" width="19.9" height="21.3" fill="#d4d4d4"/>
<rect x="310.58" y="1307.3" width="19.9" height="21.3" fill="#d62b30"/>
<rect x="332.85" y="1307.3" width="19.9" height="21.3" fill="#d4d4d4"/>
<rect x="355.12" y="1307.3" width="19.9" height="21.3" fill="#d62b30"/>
<rect x="377.39" y="1307.3" width="19.9" height="21.3" fill="#d62b30"/>
<rect x="399.66" y="1307.3" width="19.9" height="21.3" fill="#d4d4d4"/>
<rect x="421.93" y="1307.3" width="19.9" height="21.3" fill="#d4d4d4"/>
<rect x="444.2" y="1307.3" width="19.9" height="21.3" fill="#d4d4d4"/>
<rect x="466.47" y="1307.3" width="19.9" height="21.3" fill="#d4d4d4"/>
<rect x="488.74" y="1307.3" width="19.9" height="21.3" fill="#d4d4d4"/>
<rect x="511.01" y="1307.3" width="19.9" height="21.3" fill="#d4d4d4"/>
<rect x="533.28" y="1307.3" width="19.9" height="21.3" fill="#d4d4d4"/>
<rect x="555.55" y="1307.3" width="19.9" height="21.3" fill="#d4d4d4"/>
<rect x="577.82" y="1307.3" width="19.9" height="21.3" fill="#d4d4d4"/>
<rect x="600.09" y="1307.3" width="19.9" height="21.3" fill="#d4d4d4"/>
<text x="197" y="1325.1" font-size="21.1" text-anchor="end">CDK12</text>
<text x="627.3" y="1323.9" font-size="20.7">16.7%</text>
<rect x="692" y="1310.6" width="29.1" height="13.8" fill="#d62b30"/>
<rect x="221.5" y="1331.36" width="19.9" height="21.3" fill="#d4d4d4"/>
<rect x="243.77" y="1331.36" width="19.9" height="21.3" fill="#d4d4d4"/>
<rect x="266.04" y="1331.36" width="19.9" height="21.3" fill="#d4d4d4"/>
<rect x="288.31" y="1331.36" width="19.9" height="21.3" fill="#d62b30"/>
<rect x="310.58" y="1331.36" width="19.9" height="21.3" fill="#d4d4d4"/>
<rect x="332.85" y="1331.36" width="19.9" height="21.3" fill="#d62b30"/>
<rect x="355.12" y="1331.36" width="19.9" height="21.3" fill="#d4d4d4"/>
<rect x="377.39" y="1331.36" width="19.9" height="21.3" fill="#d4d4d4"/>
<rect x="399.66" y="1331.36" width="19.9" height="21.3" fill="#d4d4d4"/>
<rect x="421.93" y="1331.36" width="19.9" height="21.3" fill="#d4d4d4"/>
<rect x="444.2" y="1331.36" width="19.9" height="21.3" fill="#d4d4d4"/>
<rect x="466.47" y="1331.36" width="19.9" height="21.3" fill="#d4d4d4"/>
<rect x="488.74" y="1331.36" width="19.9" height="21.3" fill="#d4d4d4"/>
<rect x="511.01" y="1331.36" width="19.9" height="21.3" fill="#d4d4d4"/>
<rect x="533.28" y="1331.36" width="19.9" height="21.3" fill="#d4d4d4"/>
<rect x="555.55" y="1331.36" width="19.9" height="21.3" fill="#d62b30"/>
<rect x="577.82" y="1331.36" width="19.9" height="21.3" fill="#d4d4d4"/>
<rect x="600.09" y="1331.36" width="19.9" height="21.3" fill="#d4d4d4"/>
<text x="197" y="1348.92" font-size="21.1" text-anchor="end">BAP1</text>
<text x="627.3" y="1347.88" font-size="20.7">16.7%</text>
<rect x="692" y="1334.66" width="29.1" height="13.8" fill="#d62b30"/>
<rect x="221.5" y="1355.42" width="19.9" height="21.3" fill="#d62b30"/>
<rect x="243.77" y="1355.42" width="19.9" height="21.3" fill="#d4d4d4"/>
<rect x="266.04" y="1355.42" width="19.9" height="21.3" fill="#d4d4d4"/>
<rect x="288.31" y="1355.42" width="19.9" height="21.3" fill="#d4d4d4"/>
<rect x="310.58" y="1355.42" width="19.9" height="21.3" fill="#d62b30"/>
<rect x="332.85" y="1355.42" width="19.9" height="21.3" fill="#d4d4d4"/>
<rect x="355.12" y="1355.42" width="19.9" height="21.3" fill="#d4d4d4"/>
<rect x="377.39" y="1355.42" width="19.9" height="21.3" fill="#d4d4d4"/>
<rect x="399.66" y="1355.42" width="19.9" height="21.3" fill="#d4d4d4"/>
<rect x="421.93" y="1355.42" width="19.9" height="21.3" fill="#d4d4d4"/>
<rect x="444.2" y="1355.42" width="19.9" height="21.3" fill="#d4d4d4"/>
<rect x="466.47" y="1355.42" width="19.9" height="21.3" fill="#d62b30"/>
<rect x="488.74" y="1355.42" width="19.9" height="21.3" fill="#d4d4d4"/>
<rect x="511.01" y="1355.42" width="19.9" height="21.3" fill="#d4d4d4"/>
<rect x="533.28" y="1355.42" width="19.9" height="21.3" fill="#d4d4d4"/>
<rect x="555.55" y="1355.42" width="19.9" height="21.3" fill="#d4d4d4"/>
<rect x="577.82" y="1355.42" width="19.9" height="21.3" fill="#d4d4d4"/>
<rect x="600.09" y="1355.42" width="19.9" height="21.3" fill="#d4d4d4"/>
<text x="197" y="1372.74" font-size="21.1" text-anchor="end">E2F3</text>
<text x="627.3" y="1371.86" font-size="20.7">16.7%</text>
<rect x="692" y="1358.72" width="29.1" height="13.8" fill="#d62b30"/>
<rect x="221.5" y="1379.48" width="19.9" height="21.3" fill="#d4d4d4"/>
<rect x="243.77" y="1379.48" width="19.9" height="21.3" fill="#d4d4d4"/>
<rect x="266.04" y="1379.48" width="19.9" height="21.3" fill="#d4d4d4"/>
<rect x="288.31" y="1379.48" width="19.9" height="21.3" fill="#d4d4d4"/>
<rect x="310.58" y="1379.48" width="19.9" height="21.3" fill="#d4d4d4"/>
<rect x="332.85" y="1379.48" width="19.9" height="21.3" fill="#d62b30"/>
<rect x="355.12" y="1379.48" width="19.9" height="21.3" fill="#d62b30"/>
<rect x="377.39" y="1379.48" width="19.9" height="21.3" fill="#d4d4d4"/>
<rect x="399.66" y="1379.48" width="19.9" height="21.3" fill="#d4d4d4"/>
<rect x="421.93" y="1379.48" width="19.9" height="21.3" fill="#d4d4d4"/>
<rect x="444.2" y="1379.48" width="19.9" height="21.3" fill="#d4d4d4"/>
<rect x="466.47" y="1379.48" width="19.9" height="21.3" fill="#d4d4d4"/>
<rect x="488.74" y="1379.48" width="19.9" height="21.3" fill="#d4d4d4"/>
<rect x="511.01" y="1379.48" width="19.9" height="21.3" fill="#d4d4d4"/>
<rect x="533.28" y="1379.48" width="19.9" height="21.3" fill="#d4d4d4"/>
<rect x="555.55" y="1379.48" width="19.9" height="21.3" fill="#d4d4d4"/>
<rect x="577.82" y="1379.48" width="19.9" height="21.3" fill="#d4d4d4"/>
<rect x="600.09" y="1379.48" width="19.9" height="21.3" fill="#d4d4d4"/>
<text x="197" y="1396.56" font-size="21.1" text-anchor="end">MYC</text>
<text x="627.3" y="1395.84" font-size="20.7">11.1%</text>
<rect x="692" y="1382.78" width="19.4" height="13.8" fill="#d62b30"/>
<rect x="221.5" y="1403.54" width="19.9" height="21.3" fill="#d4d4d4"/>
<rect x="243.77" y="1403.54" width="19.9" height="21.3" fill="#d4d4d4"/>
<rect x="266.04" y="1403.54" width="19.9" height="21.3" fill="#d4d4d4"/>
<rect x="288.31" y="1403.54" width="19.9" height="21.3" fill="#d4d4d4"/>
<rect x="310.58" y="1403.54" width="19.9" height="21.3" fill="#d62b30"/>
<rect x="332.85" y="1403.54" width="19.9" height="21.3" fill="#d4d4d4"/>
<rect x="355.12" y="1403.54" width="19.9" height="21.3" fill="#d62b30"/>
<rect x="377.39" y="1403.54" width="19.9" height="21.3" fill="#d4d4d4"/>
<rect x="399.66" y="1403.54" width="19.9" height="21.3" fill="#d4d4d4"/>
<rect x="421.93" y="1403.54" width="19.9" height="21.3" fill="#d4d4d4"/>
<rect x="444.2" y="1403.54" width="19.9" height="21.3" fill="#d4d4d4"/>
<rect x="466.47" y="1403.54" width="19.9" height="21.3" fill="#d4d4d4"/>
<rect x="488.74" y="1403.54" width="19.9" height="21.3" fill="#d4d4d4"/>
<rect x="511.01" y="1403.54" width="19.9" height="21.3" fill="#d4d4d4"/>
<rect x="533.28" y="1403.54" width="19.9" height="21.3" fill="#d4d4d4"/>
<rect x="555.55" y="1403.54" width="19.9" height="21.3" fill="#d4d4d4"/>
<rect x="577.82" y="1403.54" width="19.9" height="21.3" fill="#d4d4d4"/>
<rect x="600.09" y="1403.54" width="19.9" height="21.3" fill="#d4d4d4"/>
<text x="197" y="1420.38" font-size="21.1" text-anchor="end">ERBB2</text>
<text x="627.3" y="1419.82" font-size="20.7">11.1%</text>
<rect x="692" y="1406.84" width="19.4" height="13.8" fill="#d62b30"/>
<rect x="221.5" y="1427.6" width="19.9" height="21.3" fill="#d4d4d4"/>
<rect x="243.77" y="1427.6" width="19.9" height="21.3" fill="#d4d4d4"/>
<rect x="266.04" y="1427.6" width="19.9" height="21.3" fill="#d4d4d4"/>
<rect x="288.31" y="1427.6" width="19.9" height="21.3" fill="#d4d4d4"/>
<rect x="310.58" y="1427.6" width="19.9" height="21.3" fill="#d4d4d4"/>
<rect x="332.85" y="1427.6" width="19.9" height="21.3" fill="#d4d4d4"/>
<rect x="355.12" y="1427.6" width="19.9" height="21.3" fill="#d4d4d4"/>
<rect x="377.39" y="1427.6" width="19.9" height="21.3" fill="#d4d4d4"/>
<rect x="399.66" y="1427.6" width="19.9" height="21.3" fill="#d4d4d4"/>
<rect x="421.93" y="1427.6" width="19.9" height="21.3" fill="#d4d4d4"/>
<rect x="444.2" y="1427.6" width="19.9" height="21.3" fill="#d4d4d4"/>
<rect x="466.47" y="1427.6" width="19.9" height="21.3" fill="#d4d4d4"/>
<rect x="488.74" y="1427.6" width="19.9" height="21.3" fill="#d4d4d4"/>
<rect x="511.01" y="1427.6" width="19.9" height="21.3" fill="#3f6fa3"/>
<rect x="533.28" y="1427.6" width="19.9" height="21.3" fill="#3f6fa3"/>
<rect x="555.55" y="1427.6" width="19.9" height="21.3" fill="#d4d4d4"/>
<rect x="577.82" y="1427.6" width="19.9" height="21.3" fill="#3f6fa3"/>
<rect x="600.09" y="1427.6" width="19.9" height="21.3" fill="#3f6fa3"/>
<text x="197" y="1444.2" font-size="21.1" text-anchor="end">TSC1</text>
<text x="627.3" y="1443.8" font-size="20.7">22.2%</text>
<rect x="692" y="1430.9" width="38.8" height="13.8" fill="#3f6fa3"/>
<line x1="690.8" y1="1185.2" x2="784.4" y2="1185.2" stroke="#000" stroke-width="2.1"/>
<line x1="692" y1="1179.8" x2="692" y2="1185.2" stroke="#000" stroke-width="2.1"/>
<text x="692" y="1176.4" font-size="16.8" text-anchor="middle">0</text>
<line x1="711.4" y1="1179.8" x2="711.4" y2="1185.2" stroke="#000" stroke-width="2.1"/>
<text x="711.4" y="1176.4" font-size="16.8" text-anchor="middle">2</text>
<line x1="730.8" y1="1179.8" x2="730.8" y2="1185.2" stroke="#000" stroke-width="2.1"/>
<text x="730.8" y="1176.4" font-size="16.8" text-anchor="middle">4</text>
<line x1="750.2" y1="1179.8" x2="750.2" y2="1185.2" stroke="#000" stroke-width="2.1"/>
<text x="750.2" y="1176.4" font-size="16.8" text-anchor="middle">6</text>
<line x1="769.6" y1="1179.8" x2="769.6" y2="1185.2" stroke="#000" stroke-width="2.1"/>
<text x="769.6" y="1176.4" font-size="16.8" text-anchor="middle">8</text>
<text transform="translate(1041,49.4) scale(1.0,1.09)" font-size="28.4" text-anchor="middle" font-weight="bold" letter-spacing="-0.3">S2</text>
<rect x="922.65" y="107.16" width="13.2" height="52.74" fill="#6cc5a1"/>
<rect x="922.65" y="102.77" width="13.2" height="4.39" fill="#e87e5a"/>
<rect x="922.65" y="85.19" width="13.2" height="17.58" fill="#dcc08b"/>
<rect x="944.55" y="107.16" width="13.2" height="52.74" fill="#6cc5a1"/>
<rect x="944.55" y="102.77" width="13.2" height="4.39" fill="#e87e5a"/>
<rect x="944.55" y="80.79" width="13.2" height="21.97" fill="#dcc08b"/>
<rect x="966.45" y="129.14" width="13.2" height="30.76" fill="#6cc5a1"/>
<rect x="966.45" y="111.56" width="13.2" height="17.58" fill="#dcc08b"/>
<rect x="988.35" y="107.16" width="13.2" height="52.74" fill="#6cc5a1"/>
<rect x="988.35" y="89.58" width="13.2" height="17.58" fill="#dcc08b"/>
<rect x="1010.25" y="133.53" width="13.2" height="26.37" fill="#6cc5a1"/>
<rect x="1010.25" y="129.13" width="13.2" height="4.39" fill="#8a9cc6"/>
<rect x="1032.15" y="98.37" width="13.2" height="61.53" fill="#6cc5a1"/>
<rect x="1032.15" y="72" width="13.2" height="26.37" fill="#dcc08b"/>
<rect x="1054.05" y="137.93" width="13.2" height="21.97" fill="#6cc5a1"/>
<rect x="1054.05" y="133.53" width="13.2" height="4.39" fill="#dcc08b"/>
<rect x="1075.95" y="120.35" width="13.2" height="39.55" fill="#6cc5a1"/>
<rect x="1075.95" y="111.56" width="13.2" height="8.79" fill="#dcc08b"/>
<rect x="1097.85" y="155.5" width="13.2" height="4.39" fill="#6cc5a1"/>
<rect x="1097.85" y="146.72" width="13.2" height="8.79" fill="#dcc08b"/>
<rect x="1119.75" y="146.72" width="13.2" height="13.18" fill="#6cc5a1"/>
<rect x="1119.75" y="137.93" width="13.2" height="8.79" fill="#dcc08b"/>
<rect x="1141.65" y="133.53" width="13.2" height="26.37" fill="#6cc5a1"/>
<line x1="918.5" y1="67.2" x2="918.5" y2="160.95" stroke="#000" stroke-width="2.1"/>
<line x1="912.9" y1="159.9" x2="918.5" y2="159.9" stroke="#000" stroke-width="2.1"/>
<text x="908.4" y="165.9" font-size="16.8" text-anchor="end">0</text>
<line x1="912.9" y1="137.93" x2="918.5" y2="137.93" stroke="#000" stroke-width="2.1"/>
<text x="908.4" y="143.93" font-size="16.8" text-anchor="end">5</text>
<line x1="912.9" y1="115.95" x2="918.5" y2="115.95" stroke="#000" stroke-width="2.1"/>
<text x="909.8" y="121.95" font-size="16.8" text-anchor="end">10</text>
<line x1="912.9" y1="93.98" x2="918.5" y2="93.98" stroke="#000" stroke-width="2.1"/>
<text x="909.8" y="99.98" font-size="16.8" text-anchor="end">15</text>
<line x1="912.9" y1="72" x2="918.5" y2="72" stroke="#000" stroke-width="2.1"/>
<text x="909.8" y="78" font-size="16.8" text-anchor="end">20</text>
<rect x="919.4" y="165.6" width="19.7" height="21.3" fill="#dcc08b"/>
<rect x="941.3" y="165.6" width="19.7" height="21.3" fill="#6cc5a1"/>
<rect x="963.2" y="165.6" width="19.7" height="21.3" fill="#6cc5a1"/>
<rect x="985.1" y="165.6" width="19.7" height="21.3" fill="#dcc08b"/>
<rect x="1007" y="165.6" width="19.7" height="21.3" fill="#6cc5a1"/>
<rect x="1028.9" y="165.6" width="19.7" height="21.3" fill="#dcc08b"/>
<rect x="1050.8" y="165.6" width="19.7" height="21.3" fill="#6cc5a1"/>
<rect x="1072.7" y="165.6" width="19.7" height="21.3" fill="#6cc5a1"/>
<rect x="1094.6" y="165.6" width="19.7" height="21.3" fill="#d4d4d4"/>
<rect x="1116.5" y="165.6" width="19.7" height="21.3" fill="#d4d4d4"/>
<rect x="1138.4" y="165.6" width="19.7" height="21.3" fill="#d4d4d4"/>
<rect x="1160.3" y="165.6" width="19.7" height="21.3" fill="#d4d4d4"/>
<rect x="1182.2" y="165.6" width="19.7" height="21.3" fill="#d4d4d4"/>
<text x="894.5" y="185.7" font-size="21.1" text-anchor="end">TP53</text>
<text x="1210.6" y="185.9" font-size="20.7">61.5%</text>
<rect x="1277" y="169.8" width="61.04" height="13.8" fill="#6cc5a1"/>
<rect x="1338.04" y="169.8" width="26.16" height="13.8" fill="#dcc08b"/>
<rect x="919.4" y="189.68" width="19.7" height="21.3" fill="#6cc5a1"/>
<rect x="941.3" y="189.68" width="19.7" height="21.3" fill="#6cc5a1"/>
<rect x="963.2" y="189.68" width="19.7" height="21.3" fill="#6cc5a1"/>
<rect x="985.1" y="189.68" width="19.7" height="21.3" fill="#6cc5a1"/>
<rect x="1007" y="189.68" width="19.7" height="21.3" fill="#6cc5a1"/>
<rect x="1028.9" y="189.68" width="19.7" height="21.3" fill="#6cc5a1"/>
<rect x="1050.8" y="189.68" width="19.7" height="21.3" fill="#6cc5a1"/>
<rect x="1072.7" y="189.68" width="19.7" height="21.3" fill="#d4d4d4"/>
<rect x="1094.6" y="189.68" width="19.7" height="21.3" fill="#d4d4d4"/>
<rect x="1116.5" y="189.68" width="19.7" height="21.3" fill="#d4d4d4"/>
<rect x="1138.4" y="189.68" width="19.7" height="21.3" fill="#d4d4d4"/>
<rect x="1160.3" y="189.68" width="19.7" height="21.3" fill="#d4d4d4"/>
<rect x="1182.2" y="189.68" width="19.7" height="21.3" fill="#d4d4d4"/>
<text x="894.5" y="209.78" font-size="21.1" text-anchor="end">TTN</text>
<text x="1210.6" y="210" font-size="20.7">53.8%</text>
<rect x="1277" y="193.88" width="61.04" height="13.8" fill="#6cc5a1"/>
<rect x="919.4" y="213.75" width="19.7" height="21.3" fill="#d4d4d4"/>
<rect x="941.3" y="213.75" width="19.7" height="21.3" fill="#dcc08b"/>
<rect x="963.2" y="213.75" width="19.7" height="21.3" fill="#dcc08b"/>
<rect x="985.1" y="213.75" width="19.7" height="21.3" fill="#dcc08b"/>
<rect x="1007" y="213.75" width="19.7" height="21.3" fill="#d4d4d4"/>
<rect x="1028.9" y="213.75" width="19.7" height="21.3" fill="#d4d4d4"/>
<rect x="1050.8" y="213.75" width="19.7" height="21.3" fill="#d4d4d4"/>
<rect x="1072.7" y="213.75" width="19.7" height="21.3" fill="#d4d4d4"/>
<rect x="1094.6" y="213.75" width="19.7" height="21.3" fill="#dcc08b"/>
<rect x="1116.5" y="213.75" width="19.7" height="21.3" fill="#d4d4d4"/>
<rect x="1138.4" y="213.75" width="19.7" height="21.3" fill="#d4d4d4"/>
<rect x="1160.3" y="213.75" width="19.7" height="21.3" fill="#d4d4d4"/>
<rect x="1182.2" y="213.75" width="19.7" height="21.3" fill="#d4d4d4"/>
<text x="894.5" y="233.85" font-size="21.1" text-anchor="end">KMT2D</text>
<text x="1210.6" y="234.09" font-size="20.7">30.8%</text>
<rect x="1277" y="217.95" width="8.72" height="13.8" fill="#6cc5a1"/>
<rect x="1285.72" y="217.95" width="8.72" height="13.8" fill="#e87e5a"/>
<rect x="1294.44" y="217.95" width="34.88" height="13.8" fill="#dcc08b"/>
<rect x="919.4" y="237.83" width="19.7" height="21.3" fill="#dcc08b"/>
<rect x="941.3" y="237.83" width="19.7" height="21.3" fill="#6cc5a1"/>
<rect x="963.2" y="237.83" width="19.7" height="21.3" fill="#dcc08b"/>
<rect x="985.1" y="237.83" width="19.7" height="21.3" fill="#d4d4d4"/>
<rect x="1007" y="237.83" width="19.7" height="21.3" fill="#8a9cc6"/>
<rect x="1028.9" y="237.83" width="19.7" height="21.3" fill="#d4d4d4"/>
<rect x="1050.8" y="237.83" width="19.7" height="21.3" fill="#d4d4d4"/>
<rect x="1072.7" y="237.83" width="19.7" height="21.3" fill="#d4d4d4"/>
<rect x="1094.6" y="237.83" width="19.7" height="21.3" fill="#d4d4d4"/>
<rect x="1116.5" y="237.83" width="19.7" height="21.3" fill="#dcc08b"/>
<rect x="1138.4" y="237.83" width="19.7" height="21.3" fill="#d4d4d4"/>
<rect x="1160.3" y="237.83" width="19.7" height="21.3" fill="#d4d4d4"/>
<rect x="1182.2" y="237.83" width="19.7" height="21.3" fill="#d4d4d4"/>
<text x="894.5" y="257.93" font-size="21.1" text-anchor="end">ARID1A</text>
<text x="1210.6" y="258.19" font-size="20.7">38.5%</text>
<rect x="1277" y="242.03" width="26.16" height="13.8" fill="#6cc5a1"/>
<rect x="1303.16" y="242.03" width="26.16" height="13.8" fill="#dcc08b"/>
<rect x="1329.32" y="242.03" width="8.72" height="13.8" fill="#8a9cc6"/>
<rect x="919.4" y="261.9" width="19.7" height="21.3" fill="#d4d4d4"/>
<rect x="941.3" y="261.9" width="19.7" height="21.3" fill="#dcc08b"/>
<rect x="963.2" y="261.9" width="19.7" height="21.3" fill="#d4d4d4"/>
<rect x="985.1" y="261.9" width="19.7" height="21.3" fill="#d4d4d4"/>
<rect x="1007" y="261.9" width="19.7" height="21.3" fill="#d4d4d4"/>
<rect x="1028.9" y="261.9" width="19.7" height="21.3" fill="#dcc08b"/>
<rect x="1050.8" y="261.9" width="19.7" height="21.3" fill="#d4d4d4"/>
<rect x="1072.7" y="261.9" width="19.7" height="21.3" fill="#dcc08b"/>
<rect x="1094.6" y="261.9" width="19.7" height="21.3" fill="#d4d4d4"/>
<rect x="1116.5" y="261.9" width="19.7" height="21.3" fill="#dcc08b"/>
<rect x="1138.4" y="261.9" width="19.7" height="21.3" fill="#d4d4d4"/>
<rect x="1160.3" y="261.9" width="19.7" height="21.3" fill="#d4d4d4"/>
<rect x="1182.2" y="261.9" width="19.7" height="21.3" fill="#d4d4d4"/>
<text x="894.5" y="282" font-size="21.1" text-anchor="end">KDM6A</text>
<text x="1210.6" y="282.28" font-size="20.7">30.8%</text>
<rect x="1277" y="266.1" width="34.88" height="13.8" fill="#dcc08b"/>
<rect x="919.4" y="285.98" width="19.7" height="21.3" fill="#e87e5a"/>
<rect x="941.3" y="285.98" width="19.7" height="21.3" fill="#dcc08b"/>
<rect x="963.2" y="285.98" width="19.7" height="21.3" fill="#d4d4d4"/>
<rect x="985.1" y="285.98" width="19.7" height="21.3" fill="#d4d4d4"/>
<rect x="1007" y="285.98" width="19.7" height="21.3" fill="#6cc5a1"/>
<rect x="1028.9" y="285.98" width="19.7" height="21.3" fill="#d4d4d4"/>
<rect x="1050.8" y="285.98" width="19.7" height="21.3" fill="#d4d4d4"/>
<rect x="1072.7" y="285.98" width="19.7" height="21.3" fill="#d4d4d4"/>
<rect x="1094.6" y="285.98" width="19.7" height="21.3" fill="#d4d4d4"/>
<rect x="1116.5" y="285.98" width="19.7" height="21.3" fill="#d4d4d4"/>
<rect x="1138.4" y="285.98" width="19.7" height="21.3" fill="#d4d4d4"/>
<rect x="1160.3" y="285.98" width="19.7" height="21.3" fill="#d4d4d4"/>
<rect x="1182.2" y="285.98" width="19.7" height="21.3" fill="#d4d4d4"/>
<text x="894.5" y="306.08" font-size="21.1" text-anchor="end">EP300</text>
<text x="1210.6" y="306.38" font-size="20.7">23.1%</text>
<rect x="1277" y="290.18" width="8.72" height="13.8" fill="#6cc5a1"/>
<rect x="1285.72" y="290.18" width="8.72" height="13.8" fill="#e87e5a"/>
<rect x="1294.44" y="290.18" width="8.72" height="13.8" fill="#dcc08b"/>
<rect x="919.4" y="310.06" width="19.7" height="21.3" fill="#6cc5a1"/>
<rect x="941.3" y="310.06" width="19.7" height="21.3" fill="#6cc5a1"/>
<rect x="963.2" y="310.06" width="19.7" height="21.3" fill="#d4d4d4"/>
<rect x="985.1" y="310.06" width="19.7" height="21.3" fill="#6cc5a1"/>
<rect x="1007" y="310.06" width="19.7" height="21.3" fill="#d4d4d4"/>
<rect x="1028.9" y="310.06" width="19.7" height="21.3" fill="#d4d4d4"/>
<rect x="1050.8" y="310.06" width="19.7" height="21.3" fill="#6cc5a1"/>
<rect x="1072.7" y="310.06" width="19.7" height="21.3" fill="#d4d4d4"/>
<rect x="1094.6" y="310.06" width="19.7" height="21.3" fill="#d4d4d4"/>
<rect x="1116.5" y="310.06" width="19.7" height="21.3" fill="#d4d4d4"/>
<rect x="1138.4" y="310.06" width="19.7" height="21.3" fill="#d4d4d4"/>
<rect x="1160.3" y="310.06" width="19.7" height="21.3" fill="#d4d4d4"/>
<rect x="1182.2" y="310.06" width="19.7" height="21.3" fill="#d4d4d4"/>
<text x="894.5" y="330.16" font-size="21.1" text-anchor="end">HECTD4</text>
<text x="1210.6" y="330.47" font-size="20.7">30.8%</text>
<rect x="1277" y="314.26" width="34.88" height="13.8" fill="#6cc5a1"/>
<rect x="919.4" y="334.13" width="19.7" height="21.3" fill="#d4d4d4"/>
<rect x="941.3" y="334.13" width="19.7" height="21.3" fill="#d4d4d4"/>
<rect x="963.2" y="334.13" width="19.7" height="21.3" fill="#6cc5a1"/>
<rect x="985.1" y="334.13" width="19.7" height="21.3" fill="#d4d4d4"/>
<rect x="1007" y="334.13" width="19.7" height="21.3" fill="#d4d4d4"/>
<rect x="1028.9" y="334.13" width="19.7" height="21.3" fill="#dcc08b"/>
<rect x="1050.8" y="334.13" width="19.7" height="21.3" fill="#d4d4d4"/>
<rect x="1072.7" y="334.13" width="19.7" height="21.3" fill="#d4d4d4"/>
<rect x="1094.6" y="334.13" width="19.7" height="21.3" fill="#d4d4d4"/>
<rect x="1116.5" y="334.13" width="19.7" height="21.3" fill="#d4d4d4"/>
<rect x="1138.4" y="334.13" width="19.7" height="21.3" fill="#d4d4d4"/>
<rect x="1160.3" y="334.13" width="19.7" height="21.3" fill="#d4d4d4"/>
<rect x="1182.2" y="334.13" width="19.7" height="21.3" fill="#d4d4d4"/>
<text x="894.5" y="354.23" font-size="21.1" text-anchor="end">MUC16</text>
<text x="1210.6" y="354.56" font-size="20.7">15.4%</text>
<rect x="1277" y="338.33" width="17.44" height="13.8" fill="#6cc5a1"/>
<rect x="1294.44" y="338.33" width="8.72" height="13.8" fill="#dcc08b"/>
<rect x="919.4" y="358.21" width="19.7" height="21.3" fill="#d4d4d4"/>
<rect x="941.3" y="358.21" width="19.7" height="21.3" fill="#d4d4d4"/>
<rect x="963.2" y="358.21" width="19.7" height="21.3" fill="#d4d4d4"/>
<rect x="985.1" y="358.21" width="19.7" height="21.3" fill="#d4d4d4"/>
<rect x="1007" y="358.21" width="19.7" height="21.3" fill="#d4d4d4"/>
<rect x="1028.9" y="358.21" width="19.7" height="21.3" fill="#6cc5a1"/>
<rect x="1050.8" y="358.21" width="19.7" height="21.3" fill="#d4d4d4"/>
<rect x="1072.7" y="358.21" width="19.7" height="21.3" fill="#dcc08b"/>
<rect x="1094.6" y="358.21" width="19.7" height="21.3" fill="#d4d4d4"/>
<rect x="1116.5" y="358.21" width="19.7" height="21.3" fill="#d4d4d4"/>
<rect x="1138.4" y="358.21" width="19.7" height="21.3" fill="#6cc5a1"/>
<rect x="1160.3" y="358.21" width="19.7" height="21.3" fill="#d4d4d4"/>
<rect x="1182.2" y="358.21" width="19.7" height="21.3" fill="#d4d4d4"/>
<text x="894.5" y="378.31" font-size="21.1" text-anchor="end">MUC19</text>
<text x="1210.6" y="378.66" font-size="20.7">23.1%</text>
<rect x="1277" y="362.41" width="26.16" height="13.8" fill="#6cc5a1"/>
<rect x="1303.16" y="362.41" width="8.72" height="13.8" fill="#dcc08b"/>
<rect x="919.4" y="382.28" width="19.7" height="21.3" fill="#d4d4d4"/>
<rect x="941.3" y="382.28" width="19.7" height="21.3" fill="#6cc5a1"/>
<rect x="963.2" y="382.28" width="19.7" height="21.3" fill="#6cc5a1"/>
<rect x="985.1" y="382.28" width="19.7" height="21.3" fill="#6cc5a1"/>
<rect x="1007" y="382.28" width="19.7" height="21.3" fill="#d4d4d4"/>
<rect x="1028.9" y="382.28" width="19.7" height="21.3" fill="#dcc08b"/>
<rect x="1050.8" y="382.28" width="19.7" height="21.3" fill="#d4d4d4"/>
<rect x="1072.7" y="382.28" width="19.7" height="21.3" fill="#d4d4d4"/>
<rect x="1094.6" y="382.28" width="19.7" height="21.3" fill="#d4d4d4"/>
<rect x="1116.5" y="382.28" width="19.7" height="21.3" fill="#d4d4d4"/>
<rect x="1138.4" y="382.28" width="19.7" height="21.3" fill="#d4d4d4"/>
<rect x="1160.3" y="382.28" width="19.7" height="21.3" fill="#d4d4d4"/>
<rect x="1182.2" y="382.28" width="19.7" height="21.3" fill="#d4d4d4"/>
<text x="894.5" y="402.38" font-size="21.1" text-anchor="end">RYR1</text>
<text x="1210.6" y="402.75" font-size="20.7">30.8%</text>
<rect x="1277" y="386.48" width="34.88" height="13.8" fill="#6cc5a1"/>
<rect x="1311.88" y="386.48" width="8.72" height="13.8" fill="#dcc08b"/>
<rect x="919.4" y="406.36" width="19.7" height="21.3" fill="#dcc08b"/>
<rect x="941.3" y="406.36" width="19.7" height="21.3" fill="#6cc5a1"/>
<rect x="963.2" y="406.36" width="19.7" height="21.3" fill="#d4d4d4"/>
<rect x="985.1" y="406.36" width="19.7" height="21.3" fill="#d4d4d4"/>
<rect x="1007" y="406.36" width="19.7" height="21.3" fill="#d4d4d4"/>
<rect x="1028.9" y="406.36" width="19.7" height="21.3" fill="#dcc08b"/>
<rect x="1050.8" y="406.36" width="19.7" height="21.3" fill="#d4d4d4"/>
<rect x="1072.7" y="406.36" width="19.7" height="21.3" fill="#d4d4d4"/>
<rect x="1094.6" y="406.36" width="19.7" height="21.3" fill="#d4d4d4"/>
<rect x="1116.5" y="406.36" width="19.7" height="21.3" fill="#d4d4d4"/>
<rect x="1138.4" y="406.36" width="19.7" height="21.3" fill="#d4d4d4"/>
<rect x="1160.3" y="406.36" width="19.7" height="21.3" fill="#d4d4d4"/>
<rect x="1182.2" y="406.36" width="19.7" height="21.3" fill="#d4d4d4"/>
<text x="894.5" y="426.46" font-size="21.1" text-anchor="end">DST</text>
<text x="1210.6" y="426.85" font-size="20.7">23.1%</text>
<rect x="1277" y="410.56" width="26.16" height="13.8" fill="#6cc5a1"/>
<rect x="1303.16" y="410.56" width="17.44" height="13.8" fill="#dcc08b"/>
<rect x="919.4" y="430.44" width="19.7" height="21.3" fill="#d4d4d4"/>
<rect x="941.3" y="430.44" width="19.7" height="21.3" fill="#d4d4d4"/>
<rect x="963.2" y="430.44" width="19.7" height="21.3" fill="#d4d4d4"/>
<rect x="985.1" y="430.44" width="19.7" height="21.3" fill="#6cc5a1"/>
<rect x="1007" y="430.44" width="19.7" height="21.3" fill="#d4d4d4"/>
<rect x="1028.9" y="430.44" width="19.7" height="21.3" fill="#6cc5a1"/>
<rect x="1050.8" y="430.44" width="19.7" height="21.3" fill="#d4d4d4"/>
<rect x="1072.7" y="430.44" width="19.7" height="21.3" fill="#d4d4d4"/>
<rect x="1094.6" y="430.44" width="19.7" height="21.3" fill="#d4d4d4"/>
<rect x="1116.5" y="430.44" width="19.7" height="21.3" fill="#6cc5a1"/>
<rect x="1138.4" y="430.44" width="19.7" height="21.3" fill="#d4d4d4"/>
<rect x="1160.3" y="430.44" width="19.7" height="21.3" fill="#d4d4d4"/>
<rect x="1182.2" y="430.44" width="19.7" height="21.3" fill="#d4d4d4"/>
<text x="894.5" y="450.54" font-size="21.1" text-anchor="end">SPTA1</text>
<text x="1210.6" y="450.94" font-size="20.7">23.1%</text>
<rect x="1277" y="434.64" width="26.16" height="13.8" fill="#6cc5a1"/>
<rect x="919.4" y="454.51" width="19.7" height="21.3" fill="#d4d4d4"/>
<rect x="941.3" y="454.51" width="19.7" height="21.3" fill="#d4d4d4"/>
<rect x="963.2" y="454.51" width="19.7" height="21.3" fill="#d4d4d4"/>
<rect x="985.1" y="454.51" width="19.7" height="21.3" fill="#6cc5a1"/>
<rect x="1007" y="454.51" width="19.7" height="21.3" fill="#d4d4d4"/>
<rect x="1028.9" y="454.51" width="19.7" height="21.3" fill="#d4d4d4"/>
<rect x="1050.8" y="454.51" width="19.7" height="21.3" fill="#d4d4d4"/>
<rect x="1072.7" y="454.51" width="19.7" height="21.3" fill="#6cc5a1"/>
<rect x="1094.6" y="454.51" width="19.7" height="21.3" fill="#d4d4d4"/>
<rect x="1116.5" y="454.51" width="19.7" height="21.3" fill="#6cc5a1"/>
<rect x="1138.4" y="454.51" width="19.7" height="21.3" fill="#6cc5a1"/>
<rect x="1160.3" y="454.51" width="19.7" height="21.3" fill="#d4d4d4"/>
<rect x="1182.2" y="454.51" width="19.7" height="21.3" fill="#d4d4d4"/>
<text x="894.5" y="474.61" font-size="21.1" text-anchor="end">PIK3CA</text>
<text x="1210.6" y="475.04" font-size="20.7">30.8%</text>
<rect x="1277" y="458.71" width="34.88" height="13.8" fill="#6cc5a1"/>
<rect x="919.4" y="478.59" width="19.7" height="21.3" fill="#d4d4d4"/>
<rect x="941.3" y="478.59" width="19.7" height="21.3" fill="#6cc5a1"/>
<rect x="963.2" y="478.59" width="19.7" height="21.3" fill="#d4d4d4"/>
<rect x="985.1" y="478.59" width="19.7" height="21.3" fill="#dcc08b"/>
<rect x="1007" y="478.59" width="19.7" height="21.3" fill="#d4d4d4"/>
<rect x="1028.9" y="478.59" width="19.7" height="21.3" fill="#d4d4d4"/>
<rect x="1050.8" y="478.59" width="19.7" height="21.3" fill="#d4d4d4"/>
<rect x="1072.7" y="478.59" width="19.7" height="21.3" fill="#d4d4d4"/>
<rect x="1094.6" y="478.59" width="19.7" height="21.3" fill="#d4d4d4"/>
<rect x="1116.5" y="478.59" width="19.7" height="21.3" fill="#d4d4d4"/>
<rect x="1138.4" y="478.59" width="19.7" height="21.3" fill="#d4d4d4"/>
<rect x="1160.3" y="478.59" width="19.7" height="21.3" fill="#d4d4d4"/>
<rect x="1182.2" y="478.59" width="19.7" height="21.3" fill="#d4d4d4"/>
<text x="894.5" y="498.69" font-size="21.1" text-anchor="end">DNAH5</text>
<text x="1210.6" y="499.13" font-size="20.7">15.4%</text>
<rect x="1277" y="482.79" width="8.72" height="13.8" fill="#6cc5a1"/>
<rect x="1285.72" y="482.79" width="8.72" height="13.8" fill="#dcc08b"/>
<rect x="919.4" y="502.66" width="19.7" height="21.3" fill="#6cc5a1"/>
<rect x="941.3" y="502.66" width="19.7" height="21.3" fill="#d4d4d4"/>
<rect x="963.2" y="502.66" width="19.7" height="21.3" fill="#d4d4d4"/>
<rect x="985.1" y="502.66" width="19.7" height="21.3" fill="#d4d4d4"/>
<rect x="1007" y="502.66" width="19.7" height="21.3" fill="#d4d4d4"/>
<rect x="1028.9" y="502.66" width="19.7" height="21.3" fill="#6cc5a1"/>
<rect x="1050.8" y="502.66" width="19.7" height="21.3" fill="#d4d4d4"/>
<rect x="1072.7" y="502.66" width="19.7" height="21.3" fill="#d4d4d4"/>
<rect x="1094.6" y="502.66" width="19.7" height="21.3" fill="#d4d4d4"/>
<rect x="1116.5" y="502.66" width="19.7" height="21.3" fill="#d4d4d4"/>
<rect x="1138.4" y="502.66" width="19.7" height="21.3" fill="#d4d4d4"/>
<rect x="1160.3" y="502.66" width="19.7" height="21.3" fill="#d4d4d4"/>
<rect x="1182.2" y="502.66" width="19.7" height="21.3" fill="#d4d4d4"/>
<text x="894.5" y="522.76" font-size="21.1" text-anchor="end">RYR2</text>
<text x="1210.6" y="523.23" font-size="20.7">15.4%</text>
<rect x="1277" y="506.86" width="17.44" height="13.8" fill="#6cc5a1"/>
<rect x="919.4" y="526.74" width="19.7" height="21.3" fill="#d4d4d4"/>
<rect x="941.3" y="526.74" width="19.7" height="21.3" fill="#dcc08b"/>
<rect x="963.2" y="526.74" width="19.7" height="21.3" fill="#6cc5a1"/>
<rect x="985.1" y="526.74" width="19.7" height="21.3" fill="#d4d4d4"/>
<rect x="1007" y="526.74" width="19.7" height="21.3" fill="#d4d4d4"/>
<rect x="1028.9" y="526.74" width="19.7" height="21.3" fill="#d4d4d4"/>
<rect x="1050.8" y="526.74" width="19.7" height="21.3" fill="#d4d4d4"/>
<rect x="1072.7" y="526.74" width="19.7" height="21.3" fill="#d4d4d4"/>
<rect x="1094.6" y="526.74" width="19.7" height="21.3" fill="#d4d4d4"/>
<rect x="1116.5" y="526.74" width="19.7" height="21.3" fill="#d4d4d4"/>
<rect x="1138.4" y="526.74" width="19.7" height="21.3" fill="#d4d4d4"/>
<rect x="1160.3" y="526.74" width="19.7" height="21.3" fill="#d4d4d4"/>
<rect x="1182.2" y="526.74" width="19.7" height="21.3" fill="#d4d4d4"/>
<text x="894.5" y="546.84" font-size="21.1" text-anchor="end">XIRP2</text>
<text x="1210.6" y="547.32" font-size="20.7">15.4%</text>
<rect x="1277" y="530.94" width="8.72" height="13.8" fill="#6cc5a1"/>
<rect x="1285.72" y="530.94" width="8.72" height="13.8" fill="#dcc08b"/>
<rect x="919.4" y="550.82" width="19.7" height="21.3" fill="#d4d4d4"/>
<rect x="941.3" y="550.82" width="19.7" height="21.3" fill="#d4d4d4"/>
<rect x="963.2" y="550.82" width="19.7" height="21.3" fill="#d4d4d4"/>
<rect x="985.1" y="550.82" width="19.7" height="21.3" fill="#d4d4d4"/>
<rect x="1007" y="550.82" width="19.7" height="21.3" fill="#d4d4d4"/>
<rect x="1028.9" y="550.82" width="19.7" height="21.3" fill="#d4d4d4"/>
<rect x="1050.8" y="550.82" width="19.7" height="21.3" fill="#d4d4d4"/>
<rect x="1072.7" y="550.82" width="19.7" height="21.3" fill="#6cc5a1"/>
<rect x="1094.6" y="550.82" width="19.7" height="21.3" fill="#d4d4d4"/>
<rect x="1116.5" y="550.82" width="19.7" height="21.3" fill="#d4d4d4"/>
<rect x="1138.4" y="550.82" width="19.7" height="21.3" fill="#d4d4d4"/>
<rect x="1160.3" y="550.82" width="19.7" height="21.3" fill="#d4d4d4"/>
<rect x="1182.2" y="550.82" width="19.7" height="21.3" fill="#d4d4d4"/>
<text x="894.5" y="570.92" font-size="21.1" text-anchor="end">UBR4</text>
<text x="1210.6" y="571.42" font-size="20.7">7.7%</text>
<rect x="1277" y="555.02" width="8.72" height="13.8" fill="#6cc5a1"/>
<rect x="919.4" y="574.89" width="19.7" height="21.3" fill="#d4d4d4"/>
<rect x="941.3" y="574.89" width="19.7" height="21.3" fill="#d4d4d4"/>
<rect x="963.2" y="574.89" width="19.7" height="21.3" fill="#d4d4d4"/>
<rect x="985.1" y="574.89" width="19.7" height="21.3" fill="#6cc5a1"/>
<rect x="1007" y="574.89" width="19.7" height="21.3" fill="#d4d4d4"/>
<rect x="1028.9" y="574.89" width="19.7" height="21.3" fill="#6cc5a1"/>
<rect x="1050.8" y="574.89" width="19.7" height="21.3" fill="#6cc5a1"/>
<rect x="1072.7" y="574.89" width="19.7" height="21.3" fill="#6cc5a1"/>
<rect x="1094.6" y="574.89" width="19.7" height="21.3" fill="#d4d4d4"/>
<rect x="1116.5" y="574.89" width="19.7" height="21.3" fill="#d4d4d4"/>
<rect x="1138.4" y="574.89" width="19.7" height="21.3" fill="#d4d4d4"/>
<rect x="1160.3" y="574.89" width="19.7" height="21.3" fill="#d4d4d4"/>
<rect x="1182.2" y="574.89" width="19.7" height="21.3" fill="#d4d4d4"/>
<text x="894.5" y="594.99" font-size="21.1" text-anchor="end">FLG</text>
<text x="1210.6" y="595.51" font-size="20.7">30.8%</text>
<rect x="1277" y="579.09" width="34.88" height="13.8" fill="#6cc5a1"/>
<rect x="919.4" y="598.97" width="19.7" height="21.3" fill="#6cc5a1"/>
<rect x="941.3" y="598.97" width="19.7" height="21.3" fill="#6cc5a1"/>
<rect x="963.2" y="598.97" width="19.7" height="21.3" fill="#d4d4d4"/>
<rect x="985.1" y="598.97" width="19.7" height="21.3" fill="#dcc08b"/>
<rect x="1007" y="598.97" width="19.7" height="21.3" fill="#6cc5a1"/>
<rect x="1028.9" y="598.97" width="19.7" height="21.3" fill="#d4d4d4"/>
<rect x="1050.8" y="598.97" width="19.7" height="21.3" fill="#6cc5a1"/>
<rect x="1072.7" y="598.97" width="19.7" height="21.3" fill="#6cc5a1"/>
<rect x="1094.6" y="598.97" width="19.7" height="21.3" fill="#d4d4d4"/>
<rect x="1116.5" y="598.97" width="19.7" height="21.3" fill="#d4d4d4"/>
<rect x="1138.4" y="598.97" width="19.7" height="21.3" fill="#d4d4d4"/>
<rect x="1160.3" y="598.97" width="19.7" height="21.3" fill="#d4d4d4"/>
<rect x="1182.2" y="598.97" width="19.7" height="21.3" fill="#d4d4d4"/>
<text x="894.5" y="619.07" font-size="21.1" text-anchor="end">OBSCN</text>
<text x="1210.6" y="619.61" font-size="20.7">46.2%</text>
<rect x="1277" y="603.17" width="43.6" height="13.8" fill="#6cc5a1"/>
<rect x="1320.6" y="603.17" width="8.72" height="13.8" fill="#dcc08b"/>
<rect x="919.4" y="623.04" width="19.7" height="21.3" fill="#d4d4d4"/>
<rect x="941.3" y="623.04" width="19.7" height="21.3" fill="#6cc5a1"/>
<rect x="963.2" y="623.04" width="19.7" height="21.3" fill="#d4d4d4"/>
<rect x="985.1" y="623.04" width="19.7" height="21.3" fill="#d4d4d4"/>
<rect x="1007" y="623.04" width="19.7" height="21.3" fill="#d4d4d4"/>
<rect x="1028.9" y="623.04" width="19.7" height="21.3" fill="#d4d4d4"/>
<rect x="1050.8" y="623.04" width="19.7" height="21.3" fill="#d4d4d4"/>
<rect x="1072.7" y="623.04" width="19.7" height="21.3" fill="#d4d4d4"/>
<rect x="1094.6" y="623.04" width="19.7" height="21.3" fill="#d4d4d4"/>
<rect x="1116.5" y="623.04" width="19.7" height="21.3" fill="#d4d4d4"/>
<rect x="1138.4" y="623.04" width="19.7" height="21.3" fill="#6cc5a1"/>
<rect x="1160.3" y="623.04" width="19.7" height="21.3" fill="#d4d4d4"/>
<rect x="1182.2" y="623.04" width="19.7" height="21.3" fill="#d4d4d4"/>
<text x="894.5" y="643.14" font-size="21.1" text-anchor="end">PLEC</text>
<text x="1210.6" y="643.7" font-size="20.7">15.4%</text>
<rect x="1277" y="627.24" width="17.44" height="13.8" fill="#6cc5a1"/>
<rect x="919.4" y="647.12" width="19.7" height="21.3" fill="#6cc5a1"/>
<rect x="941.3" y="647.12" width="19.7" height="21.3" fill="#d4d4d4"/>
<rect x="963.2" y="647.12" width="19.7" height="21.3" fill="#d4d4d4"/>
<rect x="985.1" y="647.12" width="19.7" height="21.3" fill="#6cc5a1"/>
<rect x="1007" y="647.12" width="19.7" height="21.3" fill="#d4d4d4"/>
<rect x="1028.9" y="647.12" width="19.7" height="21.3" fill="#6cc5a1"/>
<rect x="1050.8" y="647.12" width="19.7" height="21.3" fill="#d4d4d4"/>
<rect x="1072.7" y="647.12" width="19.7" height="21.3" fill="#d4d4d4"/>
<rect x="1094.6" y="647.12" width="19.7" height="21.3" fill="#6cc5a1"/>
<rect x="1116.5" y="647.12" width="19.7" height="21.3" fill="#d4d4d4"/>
<rect x="1138.4" y="647.12" width="19.7" height="21.3" fill="#d4d4d4"/>
<rect x="1160.3" y="647.12" width="19.7" height="21.3" fill="#d4d4d4"/>
<rect x="1182.2" y="647.12" width="19.7" height="21.3" fill="#d4d4d4"/>
<text x="894.5" y="667.22" font-size="21.1" text-anchor="end">RNF213</text>
<text x="1210.6" y="667.8" font-size="20.7">30.8%</text>
<rect x="1277" y="651.32" width="34.88" height="13.8" fill="#6cc5a1"/>
<rect x="919.4" y="671.2" width="19.7" height="21.3" fill="#d4d4d4"/>
<rect x="941.3" y="671.2" width="19.7" height="21.3" fill="#d4d4d4"/>
<rect x="963.2" y="671.2" width="19.7" height="21.3" fill="#6cc5a1"/>
<rect x="985.1" y="671.2" width="19.7" height="21.3" fill="#d4d4d4"/>
<rect x="1007" y="671.2" width="19.7" height="21.3" fill="#d4d4d4"/>
<rect x="1028.9" y="671.2" width="19.7" height="21.3" fill="#6cc5a1"/>
<rect x="1050.8" y="671.2" width="19.7" height="21.3" fill="#d4d4d4"/>
<rect x="1072.7" y="671.2" width="19.7" height="21.3" fill="#6cc5a1"/>
<rect x="1094.6" y="671.2" width="19.7" height="21.3" fill="#d4d4d4"/>
<rect x="1116.5" y="671.2" width="19.7" height="21.3" fill="#d4d4d4"/>
<rect x="1138.4" y="671.2" width="19.7" height="21.3" fill="#6cc5a1"/>
<rect x="1160.3" y="671.2" width="19.7" height="21.3" fill="#d4d4d4"/>
<rect x="1182.2" y="671.2" width="19.7" height="21.3" fill="#d4d4d4"/>
<text x="894.5" y="691.3" font-size="21.1" text-anchor="end">HRNR</text>
<text x="1210.6" y="691.89" font-size="20.7">30.8%</text>
<rect x="1277" y="675.4" width="34.88" height="13.8" fill="#6cc5a1"/>
<rect x="919.4" y="695.27" width="19.7" height="21.3" fill="#d4d4d4"/>
<rect x="941.3" y="695.27" width="19.7" height="21.3" fill="#d4d4d4"/>
<rect x="963.2" y="695.27" width="19.7" height="21.3" fill="#d4d4d4"/>
<rect x="985.1" y="695.27" width="19.7" height="21.3" fill="#d4d4d4"/>
<rect x="1007" y="695.27" width="19.7" height="21.3" fill="#d4d4d4"/>
<rect x="1028.9" y="695.27" width="19.7" height="21.3" fill="#d4d4d4"/>
<rect x="1050.8" y="695.27" width="19.7" height="21.3" fill="#d4d4d4"/>
<rect x="1072.7" y="695.27" width="19.7" height="21.3" fill="#d4d4d4"/>
<rect x="1094.6" y="695.27" width="19.7" height="21.3" fill="#d4d4d4"/>
<rect x="1116.5" y="695.27" width="19.7" height="21.3" fill="#d4d4d4"/>
<rect x="1138.4" y="695.27" width="19.7" height="21.3" fill="#d4d4d4"/>
<rect x="1160.3" y="695.27" width="19.7" height="21.3" fill="#d4d4d4"/>
<rect x="1182.2" y="695.27" width="19.7" height="21.3" fill="#d4d4d4"/>
<text x="894.5" y="715.37" font-size="21.1" text-anchor="end">PKD1</text>
<text x="1210.6" y="715.99" font-size="20.7">0%</text>
<rect x="919.4" y="719.35" width="19.7" height="21.3" fill="#d4d4d4"/>
<rect x="941.3" y="719.35" width="19.7" height="21.3" fill="#6cc5a1"/>
<rect x="963.2" y="719.35" width="19.7" height="21.3" fill="#dcc08b"/>
<rect x="985.1" y="719.35" width="19.7" height="21.3" fill="#d4d4d4"/>
<rect x="1007" y="719.35" width="19.7" height="21.3" fill="#d4d4d4"/>
<rect x="1028.9" y="719.35" width="19.7" height="21.3" fill="#d4d4d4"/>
<rect x="1050.8" y="719.35" width="19.7" height="21.3" fill="#d4d4d4"/>
<rect x="1072.7" y="719.35" width="19.7" height="21.3" fill="#d4d4d4"/>
<rect x="1094.6" y="719.35" width="19.7" height="21.3" fill="#d4d4d4"/>
<rect x="1116.5" y="719.35" width="19.7" height="21.3" fill="#d4d4d4"/>
<rect x="1138.4" y="719.35" width="19.7" height="21.3" fill="#d4d4d4"/>
<rect x="1160.3" y="719.35" width="19.7" height="21.3" fill="#d4d4d4"/>
<rect x="1182.2" y="719.35" width="19.7" height="21.3" fill="#d4d4d4"/>
<text x="894.5" y="739.45" font-size="21.1" text-anchor="end">ZNF469</text>
<text x="1210.6" y="740.08" font-size="20.7">15.4%</text>
<rect x="1277" y="723.55" width="8.72" height="13.8" fill="#6cc5a1"/>
<rect x="1285.72" y="723.55" width="8.72" height="13.8" fill="#dcc08b"/>
<rect x="919.4" y="743.42" width="19.7" height="21.3" fill="#d4d4d4"/>
<rect x="941.3" y="743.42" width="19.7" height="21.3" fill="#d4d4d4"/>
<rect x="963.2" y="743.42" width="19.7" height="21.3" fill="#d4d4d4"/>
<rect x="985.1" y="743.42" width="19.7" height="21.3" fill="#6cc5a1"/>
<rect x="1007" y="743.42" width="19.7" height="21.3" fill="#d4d4d4"/>
<rect x="1028.9" y="743.42" width="19.7" height="21.3" fill="#d4d4d4"/>
<rect x="1050.8" y="743.42" width="19.7" height="21.3" fill="#d4d4d4"/>
<rect x="1072.7" y="743.42" width="19.7" height="21.3" fill="#d4d4d4"/>
<rect x="1094.6" y="743.42" width="19.7" height="21.3" fill="#d4d4d4"/>
<rect x="1116.5" y="743.42" width="19.7" height="21.3" fill="#d4d4d4"/>
<rect x="1138.4" y="743.42" width="19.7" height="21.3" fill="#d4d4d4"/>
<rect x="1160.3" y="743.42" width="19.7" height="21.3" fill="#d4d4d4"/>
<rect x="1182.2" y="743.42" width="19.7" height="21.3" fill="#d4d4d4"/>
<text x="894.5" y="763.52" font-size="21.1" text-anchor="end">MDN1</text>
<text x="1210.6" y="764.18" font-size="20.7">7.7%</text>
<rect x="1277" y="747.62" width="8.72" height="13.8" fill="#6cc5a1"/>
<rect x="919.4" y="767.5" width="19.7" height="21.3" fill="#6cc5a1"/>
<rect x="941.3" y="767.5" width="19.7" height="21.3" fill="#d4d4d4"/>
<rect x="963.2" y="767.5" width="19.7" height="21.3" fill="#d4d4d4"/>
<rect x="985.1" y="767.5" width="19.7" height="21.3" fill="#d4d4d4"/>
<rect x="1007" y="767.5" width="19.7" height="21.3" fill="#d4d4d4"/>
<rect x="1028.9" y="767.5" width="19.7" height="21.3" fill="#d4d4d4"/>
<rect x="1050.8" y="767.5" width="19.7" height="21.3" fill="#d4d4d4"/>
<rect x="1072.7" y="767.5" width="19.7" height="21.3" fill="#6cc5a1"/>
<rect x="1094.6" y="767.5" width="19.7" height="21.3" fill="#d4d4d4"/>
<rect x="1116.5" y="767.5" width="19.7" height="21.3" fill="#d4d4d4"/>
<rect x="1138.4" y="767.5" width="19.7" height="21.3" fill="#6cc5a1"/>
<rect x="1160.3" y="767.5" width="19.7" height="21.3" fill="#d4d4d4"/>
<rect x="1182.2" y="767.5" width="19.7" height="21.3" fill="#d4d4d4"/>
<text x="894.5" y="787.6" font-size="21.1" text-anchor="end">DNAH14</text>
<text x="1210.6" y="788.27" font-size="20.7">23.1%</text>
<rect x="1277" y="771.7" width="26.16" height="13.8" fill="#6cc5a1"/>
<rect x="919.4" y="791.58" width="19.7" height="21.3" fill="#d4d4d4"/>
<rect x="941.3" y="791.58" width="19.7" height="21.3" fill="#d4d4d4"/>
<rect x="963.2" y="791.58" width="19.7" height="21.3" fill="#d4d4d4"/>
<rect x="985.1" y="791.58" width="19.7" height="21.3" fill="#d4d4d4"/>
<rect x="1007" y="791.58" width="19.7" height="21.3" fill="#d4d4d4"/>
<rect x="1028.9" y="791.58" width="19.7" height="21.3" fill="#d4d4d4"/>
<rect x="1050.8" y="791.58" width="19.7" height="21.3" fill="#d4d4d4"/>
<rect x="1072.7" y="791.58" width="19.7" height="21.3" fill="#6cc5a1"/>
<rect x="1094.6" y="791.58" width="19.7" height="21.3" fill="#d4d4d4"/>
<rect x="1116.5" y="791.58" width="19.7" height="21.3" fill="#6cc5a1"/>
<rect x="1138.4" y="791.58" width="19.7" height="21.3" fill="#d4d4d4"/>
<rect x="1160.3" y="791.58" width="19.7" height="21.3" fill="#d4d4d4"/>
<rect x="1182.2" y="791.58" width="19.7" height="21.3" fill="#d4d4d4"/>
<text x="894.5" y="811.68" font-size="21.1" text-anchor="end">MUC5B</text>
<text x="1210.6" y="812.37" font-size="20.7">15.4%</text>
<rect x="1277" y="795.78" width="17.44" height="13.8" fill="#6cc5a1"/>
<rect x="919.4" y="815.65" width="19.7" height="21.3" fill="#6cc5a1"/>
<rect x="941.3" y="815.65" width="19.7" height="21.3" fill="#dcc08b"/>
<rect x="963.2" y="815.65" width="19.7" height="21.3" fill="#d4d4d4"/>
<rect x="985.1" y="815.65" width="19.7" height="21.3" fill="#d4d4d4"/>
<rect x="1007" y="815.65" width="19.7" height="21.3" fill="#d4d4d4"/>
<rect x="1028.9" y="815.65" width="19.7" height="21.3" fill="#6cc5a1"/>
<rect x="1050.8" y="815.65" width="19.7" height="21.3" fill="#d4d4d4"/>
<rect x="1072.7" y="815.65" width="19.7" height="21.3" fill="#d4d4d4"/>
<rect x="1094.6" y="815.65" width="19.7" height="21.3" fill="#d4d4d4"/>
<rect x="1116.5" y="815.65" width="19.7" height="21.3" fill="#d4d4d4"/>
<rect x="1138.4" y="815.65" width="19.7" height="21.3" fill="#d4d4d4"/>
<rect x="1160.3" y="815.65" width="19.7" height="21.3" fill="#d4d4d4"/>
<rect x="1182.2" y="815.65" width="19.7" height="21.3" fill="#d4d4d4"/>
<text x="894.5" y="835.75" font-size="21.1" text-anchor="end">HMCN1</text>
<text x="1210.6" y="836.46" font-size="20.7">23.1%</text>
<rect x="1277" y="819.85" width="26.16" height="13.8" fill="#6cc5a1"/>
<rect x="1303.16" y="819.85" width="8.72" height="13.8" fill="#dcc08b"/>
<rect x="919.4" y="839.73" width="19.7" height="21.3" fill="#6cc5a1"/>
<rect x="941.3" y="839.73" width="19.7" height="21.3" fill="#d4d4d4"/>
<rect x="963.2" y="839.73" width="19.7" height="21.3" fill="#d4d4d4"/>
<rect x="985.1" y="839.73" width="19.7" height="21.3" fill="#d4d4d4"/>
<rect x="1007" y="839.73" width="19.7" height="21.3" fill="#d4d4d4"/>
<rect x="1028.9" y="839.73" width="19.7" height="21.3" fill="#6cc5a1"/>
<rect x="1050.8" y="839.73" width="19.7" height="21.3" fill="#d4d4d4"/>
<rect x="1072.7" y="839.73" width="19.7" height="21.3" fill="#d4d4d4"/>
<rect x="1094.6" y="839.73" width="19.7" height="21.3" fill="#d4d4d4"/>
<rect x="1116.5" y="839.73" width="19.7" height="21.3" fill="#d4d4d4"/>
<rect x="1138.4" y="839.73" width="19.7" height="21.3" fill="#d4d4d4"/>
<rect x="1160.3" y="839.73" width="19.7" height="21.3" fill="#d4d4d4"/>
<rect x="1182.2" y="839.73" width="19.7" height="21.3" fill="#d4d4d4"/>
<text x="894.5" y="859.83" font-size="21.1" text-anchor="end">KMT2C</text>
<text x="1210.6" y="860.56" font-size="20.7">15.4%</text>
<rect x="1277" y="843.93" width="17.44" height="13.8" fill="#6cc5a1"/>
<rect x="919.4" y="863.8" width="19.7" height="21.3" fill="#d4d4d4"/>
<rect x="941.3" y="863.8" width="19.7" height="21.3" fill="#d4d4d4"/>
<rect x="963.2" y="863.8" width="19.7" height="21.3" fill="#d4d4d4"/>
<rect x="985.1" y="863.8" width="19.7" height="21.3" fill="#6cc5a1"/>
<rect x="1007" y="863.8" width="19.7" height="21.3" fill="#d4d4d4"/>
<rect x="1028.9" y="863.8" width="19.7" height="21.3" fill="#dcc08b"/>
<rect x="1050.8" y="863.8" width="19.7" height="21.3" fill="#d4d4d4"/>
<rect x="1072.7" y="863.8" width="19.7" height="21.3" fill="#d4d4d4"/>
<rect x="1094.6" y="863.8" width="19.7" height="21.3" fill="#dcc08b"/>
<rect x="1116.5" y="863.8" width="19.7" height="21.3" fill="#d4d4d4"/>
<rect x="1138.4" y="863.8" width="19.7" height="21.3" fill="#d4d4d4"/>
<rect x="1160.3" y="863.8" width="19.7" height="21.3" fill="#d4d4d4"/>
<rect x="1182.2" y="863.8" width="19.7" height="21.3" fill="#d4d4d4"/>
<text x="894.5" y="883.9" font-size="21.1" text-anchor="end">MACF1</text>
<text x="1210.6" y="884.65" font-size="20.7">23.1%</text>
<rect x="1277" y="868" width="17.44" height="13.8" fill="#6cc5a1"/>
<rect x="1294.44" y="868" width="17.44" height="13.8" fill="#dcc08b"/>
<rect x="919.4" y="887.88" width="19.7" height="21.3" fill="#d4d4d4"/>
<rect x="941.3" y="887.88" width="19.7" height="21.3" fill="#d4d4d4"/>
<rect x="963.2" y="887.88" width="19.7" height="21.3" fill="#d4d4d4"/>
<rect x="985.1" y="887.88" width="19.7" height="21.3" fill="#d4d4d4"/>
<rect x="1007" y="887.88" width="19.7" height="21.3" fill="#d4d4d4"/>
<rect x="1028.9" y="887.88" width="19.7" height="21.3" fill="#d4d4d4"/>
<rect x="1050.8" y="887.88" width="19.7" height="21.3" fill="#d4d4d4"/>
<rect x="1072.7" y="887.88" width="19.7" height="21.3" fill="#d4d4d4"/>
<rect x="1094.6" y="887.88" width="19.7" height="21.3" fill="#d4d4d4"/>
<rect x="1116.5" y="887.88" width="19.7" height="21.3" fill="#d4d4d4"/>
<rect x="1138.4" y="887.88" width="19.7" height="21.3" fill="#6cc5a1"/>
<rect x="1160.3" y="887.88" width="19.7" height="21.3" fill="#d4d4d4"/>
<rect x="1182.2" y="887.88" width="19.7" height="21.3" fill="#d4d4d4"/>
<text x="894.5" y="907.98" font-size="21.1" text-anchor="end">FAT3</text>
<text x="1210.6" y="908.75" font-size="20.7">7.7%</text>
<rect x="1277" y="892.08" width="8.72" height="13.8" fill="#6cc5a1"/>
<rect x="919.4" y="911.96" width="19.7" height="21.3" fill="#6cc5a1"/>
<rect x="941.3" y="911.96" width="19.7" height="21.3" fill="#d4d4d4"/>
<rect x="963.2" y="911.96" width="19.7" height="21.3" fill="#d4d4d4"/>
<rect x="985.1" y="911.96" width="19.7" height="21.3" fill="#d4d4d4"/>
<rect x="1007" y="911.96" width="19.7" height="21.3" fill="#d4d4d4"/>
<rect x="1028.9" y="911.96" width="19.7" height="21.3" fill="#d4d4d4"/>
<rect x="1050.8" y="911.96" width="19.7" height="21.3" fill="#d4d4d4"/>
<rect x="1072.7" y="911.96" width="19.7" height="21.3" fill="#d4d4d4"/>
<rect x="1094.6" y="911.96" width="19.7" height="21.3" fill="#d4d4d4"/>
<rect x="1116.5" y="911.96" width="19.7" height="21.3" fill="#d4d4d4"/>
<rect x="1138.4" y="911.96" width="19.7" height="21.3" fill="#d4d4d4"/>
<rect x="1160.3" y="911.96" width="19.7" height="21.3" fill="#d4d4d4"/>
<rect x="1182.2" y="911.96" width="19.7" height="21.3" fill="#d4d4d4"/>
<text x="894.5" y="932.06" font-size="21.1" text-anchor="end">ZFHX3</text>
<text x="1210.6" y="932.84" font-size="20.7">7.7%</text>
<rect x="1277" y="916.16" width="8.72" height="13.8" fill="#6cc5a1"/>
<rect x="919.4" y="936.03" width="19.7" height="21.3" fill="#d4d4d4"/>
<rect x="941.3" y="936.03" width="19.7" height="21.3" fill="#d4d4d4"/>
<rect x="963.2" y="936.03" width="19.7" height="21.3" fill="#d4d4d4"/>
<rect x="985.1" y="936.03" width="19.7" height="21.3" fill="#d4d4d4"/>
<rect x="1007" y="936.03" width="19.7" height="21.3" fill="#d4d4d4"/>
<rect x="1028.9" y="936.03" width="19.7" height="21.3" fill="#6cc5a1"/>
<rect x="1050.8" y="936.03" width="19.7" height="21.3" fill="#d4d4d4"/>
<rect x="1072.7" y="936.03" width="19.7" height="21.3" fill="#d4d4d4"/>
<rect x="1094.6" y="936.03" width="19.7" height="21.3" fill="#d4d4d4"/>
<rect x="1116.5" y="936.03" width="19.7" height="21.3" fill="#d4d4d4"/>
<rect x="1138.4" y="936.03" width="19.7" height="21.3" fill="#d4d4d4"/>
<rect x="1160.3" y="936.03" width="19.7" height="21.3" fill="#d4d4d4"/>
<rect x="1182.2" y="936.03" width="19.7" height="21.3" fill="#d4d4d4"/>
<text x="894.5" y="956.13" font-size="21.1" text-anchor="end">ADGRV1</text>
<text x="1210.6" y="956.94" font-size="20.7">7.7%</text>
<rect x="1277" y="940.23" width="8.72" height="13.8" fill="#6cc5a1"/>
<rect x="919.4" y="960.11" width="19.7" height="21.3" fill="#d4d4d4"/>
<rect x="941.3" y="960.11" width="19.7" height="21.3" fill="#d4d4d4"/>
<rect x="963.2" y="960.11" width="19.7" height="21.3" fill="#d4d4d4"/>
<rect x="985.1" y="960.11" width="19.7" height="21.3" fill="#6cc5a1"/>
<rect x="1007" y="960.11" width="19.7" height="21.3" fill="#6cc5a1"/>
<rect x="1028.9" y="960.11" width="19.7" height="21.3" fill="#d4d4d4"/>
<rect x="1050.8" y="960.11" width="19.7" height="21.3" fill="#d4d4d4"/>
<rect x="1072.7" y="960.11" width="19.7" height="21.3" fill="#d4d4d4"/>
<rect x="1094.6" y="960.11" width="19.7" height="21.3" fill="#d4d4d4"/>
<rect x="1116.5" y="960.11" width="19.7" height="21.3" fill="#d4d4d4"/>
<rect x="1138.4" y="960.11" width="19.7" height="21.3" fill="#d4d4d4"/>
<rect x="1160.3" y="960.11" width="19.7" height="21.3" fill="#d4d4d4"/>
<rect x="1182.2" y="960.11" width="19.7" height="21.3" fill="#d4d4d4"/>
<text x="894.5" y="980.21" font-size="21.1" text-anchor="end">PDE4DIP</text>
<text x="1210.6" y="981.03" font-size="20.7">15.4%</text>
<rect x="1277" y="964.31" width="17.44" height="13.8" fill="#6cc5a1"/>
<rect x="919.4" y="984.18" width="19.7" height="21.3" fill="#d4d4d4"/>
<rect x="941.3" y="984.18" width="19.7" height="21.3" fill="#d4d4d4"/>
<rect x="963.2" y="984.18" width="19.7" height="21.3" fill="#d4d4d4"/>
<rect x="985.1" y="984.18" width="19.7" height="21.3" fill="#6cc5a1"/>
<rect x="1007" y="984.18" width="19.7" height="21.3" fill="#d4d4d4"/>
<rect x="1028.9" y="984.18" width="19.7" height="21.3" fill="#d4d4d4"/>
<rect x="1050.8" y="984.18" width="19.7" height="21.3" fill="#d4d4d4"/>
<rect x="1072.7" y="984.18" width="19.7" height="21.3" fill="#d4d4d4"/>
<rect x="1094.6" y="984.18" width="19.7" height="21.3" fill="#d4d4d4"/>
<rect x="1116.5" y="984.18" width="19.7" height="21.3" fill="#d4d4d4"/>
<rect x="1138.4" y="984.18" width="19.7" height="21.3" fill="#d4d4d4"/>
<rect x="1160.3" y="984.18" width="19.7" height="21.3" fill="#d4d4d4"/>
<rect x="1182.2" y="984.18" width="19.7" height="21.3" fill="#d4d4d4"/>
<text x="894.5" y="1004.28" font-size="21.1" text-anchor="end">ERBB2</text>
<text x="1210.6" y="1005.13" font-size="20.7">7.7%</text>
<rect x="1277" y="988.38" width="8.72" height="13.8" fill="#6cc5a1"/>
<rect x="919.4" y="1008.26" width="19.7" height="21.3" fill="#dcc08b"/>
<rect x="941.3" y="1008.26" width="19.7" height="21.3" fill="#d4d4d4"/>
<rect x="963.2" y="1008.26" width="19.7" height="21.3" fill="#dcc08b"/>
<rect x="985.1" y="1008.26" width="19.7" height="21.3" fill="#d4d4d4"/>
<rect x="1007" y="1008.26" width="19.7" height="21.3" fill="#d4d4d4"/>
<rect x="1028.9" y="1008.26" width="19.7" height="21.3" fill="#d4d4d4"/>
<rect x="1050.8" y="1008.26" width="19.7" height="21.3" fill="#dcc08b"/>
<rect x="1072.7" y="1008.26" width="19.7" height="21.3" fill="#d4d4d4"/>
<rect x="1094.6" y="1008.26" width="19.7" height="21.3" fill="#d4d4d4"/>
<rect x="1116.5" y="1008.26" width="19.7" height="21.3" fill="#d4d4d4"/>
<rect x="1138.4" y="1008.26" width="19.7" height="21.3" fill="#d4d4d4"/>
<rect x="1160.3" y="1008.26" width="19.7" height="21.3" fill="#d4d4d4"/>
<rect x="1182.2" y="1008.26" width="19.7" height="21.3" fill="#d4d4d4"/>
<text x="894.5" y="1028.36" font-size="21.1" text-anchor="end">RB1</text>
<text x="1210.6" y="1029.22" font-size="20.7">23.1%</text>
<rect x="1277" y="1012.46" width="26.16" height="13.8" fill="#dcc08b"/>
<rect x="919.4" y="1032.34" width="19.7" height="21.3" fill="#d4d4d4"/>
<rect x="941.3" y="1032.34" width="19.7" height="21.3" fill="#6cc5a1"/>
<rect x="963.2" y="1032.34" width="19.7" height="21.3" fill="#d4d4d4"/>
<rect x="985.1" y="1032.34" width="19.7" height="21.3" fill="#d4d4d4"/>
<rect x="1007" y="1032.34" width="19.7" height="21.3" fill="#d4d4d4"/>
<rect x="1028.9" y="1032.34" width="19.7" height="21.3" fill="#d4d4d4"/>
<rect x="1050.8" y="1032.34" width="19.7" height="21.3" fill="#d4d4d4"/>
<rect x="1072.7" y="1032.34" width="19.7" height="21.3" fill="#d4d4d4"/>
<rect x="1094.6" y="1032.34" width="19.7" height="21.3" fill="#d4d4d4"/>
<rect x="1116.5" y="1032.34" width="19.7" height="21.3" fill="#d4d4d4"/>
<rect x="1138.4" y="1032.34" width="19.7" height="21.3" fill="#d4d4d4"/>
<rect x="1160.3" y="1032.34" width="19.7" height="21.3" fill="#d4d4d4"/>
<rect x="1182.2" y="1032.34" width="19.7" height="21.3" fill="#d4d4d4"/>
<text x="894.5" y="1052.44" font-size="21.1" text-anchor="end">FGFR3</text>
<text x="1210.6" y="1053.32" font-size="20.7">7.7%</text>
<rect x="1277" y="1036.54" width="8.72" height="13.8" fill="#6cc5a1"/>
<rect x="919.4" y="1056.41" width="19.7" height="21.3" fill="#d4d4d4"/>
<rect x="941.3" y="1056.41" width="19.7" height="21.3" fill="#d4d4d4"/>
<rect x="963.2" y="1056.41" width="19.7" height="21.3" fill="#d4d4d4"/>
<rect x="985.1" y="1056.41" width="19.7" height="21.3" fill="#d4d4d4"/>
<rect x="1007" y="1056.41" width="19.7" height="21.3" fill="#d4d4d4"/>
<rect x="1028.9" y="1056.41" width="19.7" height="21.3" fill="#d4d4d4"/>
<rect x="1050.8" y="1056.41" width="19.7" height="21.3" fill="#d4d4d4"/>
<rect x="1072.7" y="1056.41" width="19.7" height="21.3" fill="#d4d4d4"/>
<rect x="1094.6" y="1056.41" width="19.7" height="21.3" fill="#d4d4d4"/>
<rect x="1116.5" y="1056.41" width="19.7" height="21.3" fill="#d4d4d4"/>
<rect x="1138.4" y="1056.41" width="19.7" height="21.3" fill="#d4d4d4"/>
<rect x="1160.3" y="1056.41" width="19.7" height="21.3" fill="#d4d4d4"/>
<rect x="1182.2" y="1056.41" width="19.7" height="21.3" fill="#d4d4d4"/>
<text x="894.5" y="1076.51" font-size="21.1" text-anchor="end">CDKN2A</text>
<text x="1210.6" y="1077.41" font-size="20.7">0%</text>
<line x1="1275.8" y1="163.9" x2="1369.7" y2="163.9" stroke="#000" stroke-width="2.1"/>
<line x1="1277" y1="158.5" x2="1277" y2="163.9" stroke="#000" stroke-width="2.1"/>
<text x="1277" y="156.6" font-size="16.8" text-anchor="middle">0</text>
<line x1="1320.6" y1="158.5" x2="1320.6" y2="163.9" stroke="#000" stroke-width="2.1"/>
<text x="1320.6" y="156.6" font-size="16.8" text-anchor="middle">5</text>
<line x1="1364.2" y1="158.5" x2="1364.2" y2="163.9" stroke="#000" stroke-width="2.1"/>
<text x="1364.2" y="156.6" font-size="16.8" text-anchor="middle">10</text>
<rect x="966.45" y="1121.5" width="13.2" height="58.4" fill="#d62b30"/>
<rect x="988.35" y="1150.7" width="13.2" height="29.2" fill="#d62b30"/>
<rect x="1032.15" y="1150.7" width="13.2" height="29.2" fill="#d62b30"/>
<rect x="1097.85" y="1150.7" width="13.2" height="29.2" fill="#d62b30"/>
<rect x="1163.55" y="1121.5" width="13.2" height="58.4" fill="#d62b30"/>
<rect x="1185.45" y="1121.5" width="13.2" height="58.4" fill="#3f6fa3"/>
<rect x="1185.45" y="1092.3" width="13.2" height="29.2" fill="#d62b30"/>
<line x1="918.5" y1="1087.3" x2="918.5" y2="1180.95" stroke="#000" stroke-width="2.1"/>
<line x1="912.9" y1="1179.9" x2="918.5" y2="1179.9" stroke="#000" stroke-width="2.1"/>
<text x="908.4" y="1185.9" font-size="16.8" text-anchor="end">0</text>
<line x1="912.9" y1="1150.7" x2="918.5" y2="1150.7" stroke="#000" stroke-width="2.1"/>
<text x="908.4" y="1156.7" font-size="16.8" text-anchor="end">1</text>
<line x1="912.9" y1="1121.5" x2="918.5" y2="1121.5" stroke="#000" stroke-width="2.1"/>
<text x="908.4" y="1127.5" font-size="16.8" text-anchor="end">2</text>
<line x1="912.9" y1="1092.3" x2="918.5" y2="1092.3" stroke="#000" stroke-width="2.1"/>
<text x="908.4" y="1098.3" font-size="16.8" text-anchor="end">3</text>
<rect x="919.4" y="1186.6" width="19.7" height="21.3" fill="#d4d4d4"/>
<rect x="941.3" y="1186.6" width="19.7" height="21.3" fill="#d4d4d4"/>
<rect x="963.2" y="1186.6" width="19.7" height="21.3" fill="#d4d4d4"/>
<rect x="985.1" y="1186.6" width="19.7" height="21.3" fill="#d4d4d4"/>
<rect x="1007" y="1186.6" width="19.7" height="21.3" fill="#d4d4d4"/>
<rect x="1028.9" y="1186.6" width="19.7" height="21.3" fill="#d4d4d4"/>
<rect x="1050.8" y="1186.6" width="19.7" height="21.3" fill="#d4d4d4"/>
<rect x="1072.7" y="1186.6" width="19.7" height="21.3" fill="#d4d4d4"/>
<rect x="1094.6" y="1186.6" width="19.7" height="21.3" fill="#d4d4d4"/>
<rect x="1116.5" y="1186.6" width="19.7" height="21.3" fill="#d4d4d4"/>
<rect x="1138.4" y="1186.6" width="19.7" height="21.3" fill="#d4d4d4"/>
<rect x="1160.3" y="1186.6" width="19.7" height="21.3" fill="#d4d4d4"/>
<rect x="1182.2" y="1186.6" width="19.7" height="21.3" fill="#3f6fa3"/>
<text x="891.7" y="1205" font-size="21.1" text-anchor="end">CDKN2A</text>
<text x="1210.6" y="1202.9" font-size="20.7">7.7%</text>
<rect x="919.4" y="1210.66" width="19.7" height="21.3" fill="#d4d4d4"/>
<rect x="941.3" y="1210.66" width="19.7" height="21.3" fill="#d4d4d4"/>
<rect x="963.2" y="1210.66" width="19.7" height="21.3" fill="#d4d4d4"/>
<rect x="985.1" y="1210.66" width="19.7" height="21.3" fill="#d4d4d4"/>
<rect x="1007" y="1210.66" width="19.7" height="21.3" fill="#d4d4d4"/>
<rect x="1028.9" y="1210.66" width="19.7" height="21.3" fill="#d4d4d4"/>
<rect x="1050.8" y="1210.66" width="19.7" height="21.3" fill="#d4d4d4"/>
<rect x="1072.7" y="1210.66" width="19.7" height="21.3" fill="#d4d4d4"/>
<rect x="1094.6" y="1210.66" width="19.7" height="21.3" fill="#d4d4d4"/>
<rect x="1116.5" y="1210.66" width="19.7" height="21.3" fill="#d4d4d4"/>
<rect x="1138.4" y="1210.66" width="19.7" height="21.3" fill="#d4d4d4"/>
<rect x="1160.3" y="1210.66" width="19.7" height="21.3" fill="#d4d4d4"/>
<rect x="1182.2" y="1210.66" width="19.7" height="21.3" fill="#3f6fa3"/>
<text x="894.5" y="1228.95" font-size="21.1" text-anchor="end">CDKN2B</text>
<text x="1210.6" y="1227" font-size="20.7">7.7%</text>
<rect x="919.4" y="1234.72" width="19.7" height="21.3" fill="#d4d4d4"/>
<rect x="941.3" y="1234.72" width="19.7" height="21.3" fill="#d4d4d4"/>
<rect x="963.2" y="1234.72" width="19.7" height="21.3" fill="#d62b30"/>
<rect x="985.1" y="1234.72" width="19.7" height="21.3" fill="#d62b30"/>
<rect x="1007" y="1234.72" width="19.7" height="21.3" fill="#d4d4d4"/>
<rect x="1028.9" y="1234.72" width="19.7" height="21.3" fill="#d4d4d4"/>
<rect x="1050.8" y="1234.72" width="19.7" height="21.3" fill="#d4d4d4"/>
<rect x="1072.7" y="1234.72" width="19.7" height="21.3" fill="#d4d4d4"/>
<rect x="1094.6" y="1234.72" width="19.7" height="21.3" fill="#d4d4d4"/>
<rect x="1116.5" y="1234.72" width="19.7" height="21.3" fill="#d4d4d4"/>
<rect x="1138.4" y="1234.72" width="19.7" height="21.3" fill="#d4d4d4"/>
<rect x="1160.3" y="1234.72" width="19.7" height="21.3" fill="#d62b30"/>
<rect x="1182.2" y="1234.72" width="19.7" height="21.3" fill="#d4d4d4"/>
<text x="894.5" y="1252.9" font-size="21.1" text-anchor="end">APC</text>
<text x="1210.6" y="1251.1" font-size="20.7">23.1%</text>
<rect x="919.4" y="1258.78" width="19.7" height="21.3" fill="#d4d4d4"/>
<rect x="941.3" y="1258.78" width="19.7" height="21.3" fill="#d4d4d4"/>
<rect x="963.2" y="1258.78" width="19.7" height="21.3" fill="#d4d4d4"/>
<rect x="985.1" y="1258.78" width="19.7" height="21.3" fill="#d4d4d4"/>
<rect x="1007" y="1258.78" width="19.7" height="21.3" fill="#d4d4d4"/>
<rect x="1028.9" y="1258.78" width="19.7" height="21.3" fill="#d62b30"/>
<rect x="1050.8" y="1258.78" width="19.7" height="21.3" fill="#d4d4d4"/>
<rect x="1072.7" y="1258.78" width="19.7" height="21.3" fill="#d4d4d4"/>
<rect x="1094.6" y="1258.78" width="19.7" height="21.3" fill="#d4d4d4"/>
<rect x="1116.5" y="1258.78" width="19.7" height="21.3" fill="#d4d4d4"/>
<rect x="1138.4" y="1258.78" width="19.7" height="21.3" fill="#d4d4d4"/>
<rect x="1160.3" y="1258.78" width="19.7" height="21.3" fill="#d4d4d4"/>
<rect x="1182.2" y="1258.78" width="19.7" height="21.3" fill="#d4d4d4"/>
<text x="894.5" y="1276.85" font-size="21.1" text-anchor="end">CCND1</text>
<text x="1210.6" y="1275.2" font-size="20.7">7.7%</text>
<rect x="919.4" y="1282.84" width="19.7" height="21.3" fill="#d4d4d4"/>
<rect x="941.3" y="1282.84" width="19.7" height="21.3" fill="#d4d4d4"/>
<rect x="963.2" y="1282.84" width="19.7" height="21.3" fill="#d4d4d4"/>
<rect x="985.1" y="1282.84" width="19.7" height="21.3" fill="#d4d4d4"/>
<rect x="1007" y="1282.84" width="19.7" height="21.3" fill="#d4d4d4"/>
<rect x="1028.9" y="1282.84" width="19.7" height="21.3" fill="#d4d4d4"/>
<rect x="1050.8" y="1282.84" width="19.7" height="21.3" fill="#d4d4d4"/>
<rect x="1072.7" y="1282.84" width="19.7" height="21.3" fill="#d4d4d4"/>
<rect x="1094.6" y="1282.84" width="19.7" height="21.3" fill="#d4d4d4"/>
<rect x="1116.5" y="1282.84" width="19.7" height="21.3" fill="#d4d4d4"/>
<rect x="1138.4" y="1282.84" width="19.7" height="21.3" fill="#d4d4d4"/>
<rect x="1160.3" y="1282.84" width="19.7" height="21.3" fill="#d62b30"/>
<rect x="1182.2" y="1282.84" width="19.7" height="21.3" fill="#d62b30"/>
<text x="894.5" y="1300.8" font-size="21.1" text-anchor="end">MDM2</text>
<text x="1210.6" y="1299.3" font-size="20.7">15.4%</text>
<rect x="919.4" y="1306.9" width="19.7" height="21.3" fill="#d4d4d4"/>
<rect x="941.3" y="1306.9" width="19.7" height="21.3" fill="#d4d4d4"/>
<rect x="963.2" y="1306.9" width="19.7" height="21.3" fill="#d4d4d4"/>
<rect x="985.1" y="1306.9" width="19.7" height="21.3" fill="#d4d4d4"/>
<rect x="1007" y="1306.9" width="19.7" height="21.3" fill="#d4d4d4"/>
<rect x="1028.9" y="1306.9" width="19.7" height="21.3" fill="#d4d4d4"/>
<rect x="1050.8" y="1306.9" width="19.7" height="21.3" fill="#d4d4d4"/>
<rect x="1072.7" y="1306.9" width="19.7" height="21.3" fill="#d4d4d4"/>
<rect x="1094.6" y="1306.9" width="19.7" height="21.3" fill="#d4d4d4"/>
<rect x="1116.5" y="1306.9" width="19.7" height="21.3" fill="#d4d4d4"/>
<rect x="1138.4" y="1306.9" width="19.7" height="21.3" fill="#d4d4d4"/>
<rect x="1160.3" y="1306.9" width="19.7" height="21.3" fill="#d4d4d4"/>
<rect x="1182.2" y="1306.9" width="19.7" height="21.3" fill="#d4d4d4"/>
<text x="894.5" y="1324.75" font-size="21.1" text-anchor="end">CDK12</text>
<text x="1210.6" y="1323.4" font-size="20.7">0%</text>
<rect x="919.4" y="1330.96" width="19.7" height="21.3" fill="#d4d4d4"/>
<rect x="941.3" y="1330.96" width="19.7" height="21.3" fill="#d4d4d4"/>
<rect x="963.2" y="1330.96" width="19.7" height="21.3" fill="#d4d4d4"/>
<rect x="985.1" y="1330.96" width="19.7" height="21.3" fill="#d4d4d4"/>
<rect x="1007" y="1330.96" width="19.7" height="21.3" fill="#d4d4d4"/>
<rect x="1028.9" y="1330.96" width="19.7" height="21.3" fill="#d4d4d4"/>
<rect x="1050.8" y="1330.96" width="19.7" height="21.3" fill="#d4d4d4"/>
<rect x="1072.7" y="1330.96" width="19.7" height="21.3" fill="#d4d4d4"/>
<rect x="1094.6" y="1330.96" width="19.7" height="21.3" fill="#d62b30"/>
<rect x="1116.5" y="1330.96" width="19.7" height="21.3" fill="#d4d4d4"/>
<rect x="1138.4" y="1330.96" width="19.7" height="21.3" fill="#d4d4d4"/>
<rect x="1160.3" y="1330.96" width="19.7" height="21.3" fill="#d4d4d4"/>
<rect x="1182.2" y="1330.96" width="19.7" height="21.3" fill="#d4d4d4"/>
<text x="894.5" y="1348.7" font-size="21.1" text-anchor="end">BAP1</text>
<text x="1210.6" y="1347.5" font-size="20.7">7.7%</text>
<rect x="919.4" y="1355.02" width="19.7" height="21.3" fill="#d4d4d4"/>
<rect x="941.3" y="1355.02" width="19.7" height="21.3" fill="#d4d4d4"/>
<rect x="963.2" y="1355.02" width="19.7" height="21.3" fill="#d4d4d4"/>
<rect x="985.1" y="1355.02" width="19.7" height="21.3" fill="#d4d4d4"/>
<rect x="1007" y="1355.02" width="19.7" height="21.3" fill="#d4d4d4"/>
<rect x="1028.9" y="1355.02" width="19.7" height="21.3" fill="#d4d4d4"/>
<rect x="1050.8" y="1355.02" width="19.7" height="21.3" fill="#d4d4d4"/>
<rect x="1072.7" y="1355.02" width="19.7" height="21.3" fill="#d4d4d4"/>
<rect x="1094.6" y="1355.02" width="19.7" height="21.3" fill="#d4d4d4"/>
<rect x="1116.5" y="1355.02" width="19.7" height="21.3" fill="#d4d4d4"/>
<rect x="1138.4" y="1355.02" width="19.7" height="21.3" fill="#d4d4d4"/>
<rect x="1160.3" y="1355.02" width="19.7" height="21.3" fill="#d4d4d4"/>
<rect x="1182.2" y="1355.02" width="19.7" height="21.3" fill="#d4d4d4"/>
<text x="894.5" y="1372.65" font-size="21.1" text-anchor="end">E2F3</text>
<text x="1210.6" y="1371.6" font-size="20.7">0%</text>
<rect x="919.4" y="1379.08" width="19.7" height="21.3" fill="#d4d4d4"/>
<rect x="941.3" y="1379.08" width="19.7" height="21.3" fill="#d4d4d4"/>
<rect x="963.2" y="1379.08" width="19.7" height="21.3" fill="#d62b30"/>
<rect x="985.1" y="1379.08" width="19.7" height="21.3" fill="#d4d4d4"/>
<rect x="1007" y="1379.08" width="19.7" height="21.3" fill="#d4d4d4"/>
<rect x="1028.9" y="1379.08" width="19.7" height="21.3" fill="#d4d4d4"/>
<rect x="1050.8" y="1379.08" width="19.7" height="21.3" fill="#d4d4d4"/>
<rect x="1072.7" y="1379.08" width="19.7" height="21.3" fill="#d4d4d4"/>
<rect x="1094.6" y="1379.08" width="19.7" height="21.3" fill="#d4d4d4"/>
<rect x="1116.5" y="1379.08" width="19.7" height="21.3" fill="#d4d4d4"/>
<rect x="1138.4" y="1379.08" width="19.7" height="21.3" fill="#d4d4d4"/>
<rect x="1160.3" y="1379.08" width="19.7" height="21.3" fill="#d4d4d4"/>
<rect x="1182.2" y="1379.08" width="19.7" height="21.3" fill="#d4d4d4"/>
<text x="894.5" y="1396.6" font-size="21.1" text-anchor="end">MYC</text>
<text x="1210.6" y="1395.7" font-size="20.7">7.7%</text>
<rect x="919.4" y="1403.14" width="19.7" height="21.3" fill="#d4d4d4"/>
<rect x="941.3" y="1403.14" width="19.7" height="21.3" fill="#d4d4d4"/>
<rect x="963.2" y="1403.14" width="19.7" height="21.3" fill="#d4d4d4"/>
<rect x="985.1" y="1403.14" width="19.7" height="21.3" fill="#d4d4d4"/>
<rect x="1007" y="1403.14" width="19.7" height="21.3" fill="#d4d4d4"/>
<rect x="1028.9" y="1403.14" width="19.7" height="21.3" fill="#d4d4d4"/>
<rect x="1050.8" y="1403.14" width="19.7" height="21.3" fill="#d4d4d4"/>
<rect x="1072.7" y="1403.14" width="19.7" height="21.3" fill="#d4d4d4"/>
<rect x="1094.6" y="1403.14" width="19.7" height="21.3" fill="#d4d4d4"/>
<rect x="1116.5" y="1403.14" width="19.7" height="21.3" fill="#d4d4d4"/>
<rect x="1138.4" y="1403.14" width="19.7" height="21.3" fill="#d4d4d4"/>
<rect x="1160.3" y="1403.14" width="19.7" height="21.3" fill="#d4d4d4"/>
<rect x="1182.2" y="1403.14" width="19.7" height="21.3" fill="#d4d4d4"/>
<text x="894.5" y="1420.55" font-size="21.1" text-anchor="end">ERBB2</text>
<text x="1210.6" y="1419.8" font-size="20.7">0%</text>
<rect x="919.4" y="1427.2" width="19.7" height="21.3" fill="#d4d4d4"/>
<rect x="941.3" y="1427.2" width="19.7" height="21.3" fill="#d4d4d4"/>
<rect x="963.2" y="1427.2" width="19.7" height="21.3" fill="#d4d4d4"/>
<rect x="985.1" y="1427.2" width="19.7" height="21.3" fill="#d4d4d4"/>
<rect x="1007" y="1427.2" width="19.7" height="21.3" fill="#d4d4d4"/>
<rect x="1028.9" y="1427.2" width="19.7" height="21.3" fill="#d4d4d4"/>
<rect x="1050.8" y="1427.2" width="19.7" height="21.3" fill="#d4d4d4"/>
<rect x="1072.7" y="1427.2" width="19.7" height="21.3" fill="#d4d4d4"/>
<rect x="1094.6" y="1427.2" width="19.7" height="21.3" fill="#d4d4d4"/>
<rect x="1116.5" y="1427.2" width="19.7" height="21.3" fill="#d4d4d4"/>
<rect x="1138.4" y="1427.2" width="19.7" height="21.3" fill="#d4d4d4"/>
<rect x="1160.3" y="1427.2" width="19.7" height="21.3" fill="#d4d4d4"/>
<rect x="1182.2" y="1427.2" width="19.7" height="21.3" fill="#d4d4d4"/>
<text x="894.5" y="1444.5" font-size="21.1" text-anchor="end">TSC1</text>
<text x="1210.6" y="1443.9" font-size="20.7">0%</text>
<line x1="1276" y1="1185" x2="1369.5" y2="1185" stroke="#000" stroke-width="2.1"/>
<line x1="1277.2" y1="1179.6" x2="1277.2" y2="1185" stroke="#000" stroke-width="2.1"/>
<text x="1277.2" y="1176.2" font-size="16.8" text-anchor="middle">0</text>
<line x1="1306.2" y1="1179.6" x2="1306.2" y2="1185" stroke="#000" stroke-width="2.1"/>
<text x="1306.2" y="1176.2" font-size="16.8" text-anchor="middle">1</text>
<line x1="1335.2" y1="1179.6" x2="1335.2" y2="1185" stroke="#000" stroke-width="2.1"/>
<text x="1335.2" y="1176.2" font-size="16.8" text-anchor="middle">2</text>
<line x1="1364.2" y1="1179.6" x2="1364.2" y2="1185" stroke="#000" stroke-width="2.1"/>
<text x="1364.2" y="1176.2" font-size="16.8" text-anchor="middle">3</text>
<text transform="translate(1658,49.4) scale(1.0,1.09)" font-size="28.4" text-anchor="middle" font-weight="bold" letter-spacing="-0.3">S3</text>
<rect x="1504" y="136.89" width="13.2" height="21.8" fill="#6cc5a1"/>
<rect x="1504" y="121.32" width="13.2" height="15.58" fill="#dcc08b"/>
<rect x="1504" y="118.2" width="13.2" height="3.12" fill="#8a9cc6"/>
<rect x="1526.89" y="115.09" width="13.2" height="43.61" fill="#6cc5a1"/>
<rect x="1526.89" y="108.86" width="13.2" height="6.23" fill="#dcc08b"/>
<rect x="1549.78" y="99.51" width="13.2" height="59.19" fill="#6cc5a1"/>
<rect x="1549.78" y="71.48" width="13.2" height="28.04" fill="#dcc08b"/>
<rect x="1572.67" y="118.2" width="13.2" height="40.5" fill="#6cc5a1"/>
<rect x="1572.67" y="108.86" width="13.2" height="9.35" fill="#dcc08b"/>
<rect x="1595.56" y="121.32" width="13.2" height="37.38" fill="#6cc5a1"/>
<rect x="1595.56" y="115.09" width="13.2" height="6.23" fill="#dcc08b"/>
<rect x="1618.45" y="121.32" width="13.2" height="37.38" fill="#6cc5a1"/>
<rect x="1618.45" y="118.2" width="13.2" height="3.12" fill="#e87e5a"/>
<rect x="1618.45" y="111.97" width="13.2" height="6.23" fill="#8a9cc6"/>
<rect x="1641.34" y="133.78" width="13.2" height="24.92" fill="#6cc5a1"/>
<rect x="1641.34" y="130.66" width="13.2" height="3.12" fill="#dcc08b"/>
<rect x="1664.23" y="121.32" width="13.2" height="37.38" fill="#6cc5a1"/>
<rect x="1664.23" y="105.74" width="13.2" height="15.58" fill="#dcc08b"/>
<rect x="1687.12" y="146.24" width="13.2" height="12.46" fill="#6cc5a1"/>
<rect x="1687.12" y="140.01" width="13.2" height="6.23" fill="#dcc08b"/>
<rect x="1687.12" y="136.89" width="13.2" height="3.12" fill="#8a9cc6"/>
<rect x="1710.01" y="140.01" width="13.2" height="18.69" fill="#6cc5a1"/>
<rect x="1710.01" y="136.89" width="13.2" height="3.12" fill="#dcc08b"/>
<rect x="1710.01" y="133.78" width="13.2" height="3.12" fill="#8a9cc6"/>
<rect x="1732.9" y="146.24" width="13.2" height="12.46" fill="#6cc5a1"/>
<rect x="1732.9" y="143.12" width="13.2" height="3.12" fill="#dcc08b"/>
<rect x="1755.79" y="136.89" width="13.2" height="21.8" fill="#6cc5a1"/>
<rect x="1755.79" y="130.66" width="13.2" height="6.23" fill="#dcc08b"/>
<rect x="1778.68" y="133.78" width="13.2" height="24.92" fill="#6cc5a1"/>
<rect x="1778.68" y="130.66" width="13.2" height="3.12" fill="#dcc08b"/>
<rect x="1801.57" y="155.58" width="13.2" height="3.12" fill="#6cc5a1"/>
<rect x="1801.57" y="152.47" width="13.2" height="3.12" fill="#dcc08b"/>
<rect x="1824.46" y="155.58" width="13.2" height="3.12" fill="#6cc5a1"/>
<rect x="1824.46" y="152.47" width="13.2" height="3.12" fill="#dcc08b"/>
<line x1="1499.2" y1="65.6" x2="1499.2" y2="159.75" stroke="#000" stroke-width="2.1"/>
<line x1="1493.6" y1="158.7" x2="1499.2" y2="158.7" stroke="#000" stroke-width="2.1"/>
<text x="1488.4" y="164.7" font-size="16.8" text-anchor="end">0</text>
<line x1="1493.6" y1="127.55" x2="1499.2" y2="127.55" stroke="#000" stroke-width="2.1"/>
<text x="1492" y="133.55" font-size="16.8" text-anchor="end">10</text>
<line x1="1493.6" y1="96.4" x2="1499.2" y2="96.4" stroke="#000" stroke-width="2.1"/>
<text x="1492" y="102.4" font-size="16.8" text-anchor="end">20</text>
<rect x="1500.5" y="165" width="20.2" height="21.3" fill="#6cc5a1"/>
<rect x="1523.39" y="165" width="20.2" height="21.3" fill="#6cc5a1"/>
<rect x="1546.28" y="165" width="20.2" height="21.3" fill="#6cc5a1"/>
<rect x="1569.17" y="165" width="20.2" height="21.3" fill="#6cc5a1"/>
<rect x="1592.06" y="165" width="20.2" height="21.3" fill="#6cc5a1"/>
<rect x="1614.95" y="165" width="20.2" height="21.3" fill="#8a9cc6"/>
<rect x="1637.84" y="165" width="20.2" height="21.3" fill="#6cc5a1"/>
<rect x="1660.73" y="165" width="20.2" height="21.3" fill="#6cc5a1"/>
<rect x="1683.62" y="165" width="20.2" height="21.3" fill="#dcc08b"/>
<rect x="1706.51" y="165" width="20.2" height="21.3" fill="#dcc08b"/>
<rect x="1729.4" y="165" width="20.2" height="21.3" fill="#6cc5a1"/>
<rect x="1752.29" y="165" width="20.2" height="21.3" fill="#d4d4d4"/>
<rect x="1775.18" y="165" width="20.2" height="21.3" fill="#d4d4d4"/>
<rect x="1798.07" y="165" width="20.2" height="21.3" fill="#d4d4d4"/>
<rect x="1820.96" y="165" width="20.2" height="21.3" fill="#d4d4d4"/>
<text x="1478.6" y="186.4" font-size="21.1" text-anchor="end">TP53</text>
<text x="1848" y="185.6" font-size="20.7">73.3%</text>
<rect x="1916" y="168.4" width="63.28" height="13.8" fill="#6cc5a1"/>
<rect x="1979.28" y="168.4" width="15.82" height="13.8" fill="#dcc08b"/>
<rect x="1995.1" y="168.4" width="7.91" height="13.8" fill="#8a9cc6"/>
<rect x="1500.5" y="189.08" width="20.2" height="21.3" fill="#6cc5a1"/>
<rect x="1523.39" y="189.08" width="20.2" height="21.3" fill="#dcc08b"/>
<rect x="1546.28" y="189.08" width="20.2" height="21.3" fill="#dcc08b"/>
<rect x="1569.17" y="189.08" width="20.2" height="21.3" fill="#6cc5a1"/>
<rect x="1592.06" y="189.08" width="20.2" height="21.3" fill="#6cc5a1"/>
<rect x="1614.95" y="189.08" width="20.2" height="21.3" fill="#6cc5a1"/>
<rect x="1637.84" y="189.08" width="20.2" height="21.3" fill="#6cc5a1"/>
<rect x="1660.73" y="189.08" width="20.2" height="21.3" fill="#d4d4d4"/>
<rect x="1683.62" y="189.08" width="20.2" height="21.3" fill="#d4d4d4"/>
<rect x="1706.51" y="189.08" width="20.2" height="21.3" fill="#d4d4d4"/>
<rect x="1729.4" y="189.08" width="20.2" height="21.3" fill="#d4d4d4"/>
<rect x="1752.29" y="189.08" width="20.2" height="21.3" fill="#6cc5a1"/>
<rect x="1775.18" y="189.08" width="20.2" height="21.3" fill="#6cc5a1"/>
<rect x="1798.07" y="189.08" width="20.2" height="21.3" fill="#d4d4d4"/>
<rect x="1820.96" y="189.08" width="20.2" height="21.3" fill="#d4d4d4"/>
<text x="1478.6" y="210.48" font-size="21.1" text-anchor="end">TTN</text>
<text x="1848" y="209.75" font-size="20.7">60%</text>
<rect x="1916" y="192.48" width="71.19" height="13.8" fill="#6cc5a1"/>
<rect x="1987.19" y="192.48" width="15.82" height="13.8" fill="#dcc08b"/>
<rect x="1500.5" y="213.15" width="20.2" height="21.3" fill="#dcc08b"/>
<rect x="1523.39" y="213.15" width="20.2" height="21.3" fill="#d4d4d4"/>
<rect x="1546.28" y="213.15" width="20.2" height="21.3" fill="#d4d4d4"/>
<rect x="1569.17" y="213.15" width="20.2" height="21.3" fill="#6cc5a1"/>
<rect x="1592.06" y="213.15" width="20.2" height="21.3" fill="#6cc5a1"/>
<rect x="1614.95" y="213.15" width="20.2" height="21.3" fill="#d4d4d4"/>
<rect x="1637.84" y="213.15" width="20.2" height="21.3" fill="#d4d4d4"/>
<rect x="1660.73" y="213.15" width="20.2" height="21.3" fill="#dcc08b"/>
<rect x="1683.62" y="213.15" width="20.2" height="21.3" fill="#d4d4d4"/>
<rect x="1706.51" y="213.15" width="20.2" height="21.3" fill="#d4d4d4"/>
<rect x="1729.4" y="213.15" width="20.2" height="21.3" fill="#d4d4d4"/>
<rect x="1752.29" y="213.15" width="20.2" height="21.3" fill="#6cc5a1"/>
<rect x="1775.18" y="213.15" width="20.2" height="21.3" fill="#dcc08b"/>
<rect x="1798.07" y="213.15" width="20.2" height="21.3" fill="#dcc08b"/>
<rect x="1820.96" y="213.15" width="20.2" height="21.3" fill="#dcc08b"/>
<text x="1478.6" y="234.55" font-size="21.1" text-anchor="end">KMT2D</text>
<text x="1848" y="233.9" font-size="20.7">53.3%</text>
<rect x="1916" y="216.55" width="39.55" height="13.8" fill="#6cc5a1"/>
<rect x="1955.55" y="216.55" width="39.55" height="13.8" fill="#dcc08b"/>
<rect x="1500.5" y="237.23" width="20.2" height="21.3" fill="#d4d4d4"/>
<rect x="1523.39" y="237.23" width="20.2" height="21.3" fill="#6cc5a1"/>
<rect x="1546.28" y="237.23" width="20.2" height="21.3" fill="#dcc08b"/>
<rect x="1569.17" y="237.23" width="20.2" height="21.3" fill="#d4d4d4"/>
<rect x="1592.06" y="237.23" width="20.2" height="21.3" fill="#d4d4d4"/>
<rect x="1614.95" y="237.23" width="20.2" height="21.3" fill="#6cc5a1"/>
<rect x="1637.84" y="237.23" width="20.2" height="21.3" fill="#d4d4d4"/>
<rect x="1660.73" y="237.23" width="20.2" height="21.3" fill="#dcc08b"/>
<rect x="1683.62" y="237.23" width="20.2" height="21.3" fill="#dcc08b"/>
<rect x="1706.51" y="237.23" width="20.2" height="21.3" fill="#d4d4d4"/>
<rect x="1729.4" y="237.23" width="20.2" height="21.3" fill="#d4d4d4"/>
<rect x="1752.29" y="237.23" width="20.2" height="21.3" fill="#6cc5a1"/>
<rect x="1775.18" y="237.23" width="20.2" height="21.3" fill="#d4d4d4"/>
<rect x="1798.07" y="237.23" width="20.2" height="21.3" fill="#d4d4d4"/>
<rect x="1820.96" y="237.23" width="20.2" height="21.3" fill="#d4d4d4"/>
<text x="1478.6" y="258.63" font-size="21.1" text-anchor="end">ARID1A</text>
<text x="1848" y="258.05" font-size="20.7">40%</text>
<rect x="1916" y="240.63" width="23.73" height="13.8" fill="#6cc5a1"/>
<rect x="1939.73" y="240.63" width="23.73" height="13.8" fill="#dcc08b"/>
<rect x="1500.5" y="261.3" width="20.2" height="21.3" fill="#dcc08b"/>
<rect x="1523.39" y="261.3" width="20.2" height="21.3" fill="#dcc08b"/>
<rect x="1546.28" y="261.3" width="20.2" height="21.3" fill="#d4d4d4"/>
<rect x="1569.17" y="261.3" width="20.2" height="21.3" fill="#dcc08b"/>
<rect x="1592.06" y="261.3" width="20.2" height="21.3" fill="#d4d4d4"/>
<rect x="1614.95" y="261.3" width="20.2" height="21.3" fill="#d4d4d4"/>
<rect x="1637.84" y="261.3" width="20.2" height="21.3" fill="#d4d4d4"/>
<rect x="1660.73" y="261.3" width="20.2" height="21.3" fill="#d4d4d4"/>
<rect x="1683.62" y="261.3" width="20.2" height="21.3" fill="#d4d4d4"/>
<rect x="1706.51" y="261.3" width="20.2" height="21.3" fill="#6cc5a1"/>
<rect x="1729.4" y="261.3" width="20.2" height="21.3" fill="#dcc08b"/>
<rect x="1752.29" y="261.3" width="20.2" height="21.3" fill="#d4d4d4"/>
<rect x="1775.18" y="261.3" width="20.2" height="21.3" fill="#d4d4d4"/>
<rect x="1798.07" y="261.3" width="20.2" height="21.3" fill="#d4d4d4"/>
<rect x="1820.96" y="261.3" width="20.2" height="21.3" fill="#d4d4d4"/>
<text x="1478.6" y="282.7" font-size="21.1" text-anchor="end">KDM6A</text>
<text x="1848" y="282.2" font-size="20.7">33.3%</text>
<rect x="1916" y="264.7" width="7.91" height="13.8" fill="#6cc5a1"/>
<rect x="1923.91" y="264.7" width="31.64" height="13.8" fill="#dcc08b"/>
<rect x="1500.5" y="285.38" width="20.2" height="21.3" fill="#dcc08b"/>
<rect x="1523.39" y="285.38" width="20.2" height="21.3" fill="#d4d4d4"/>
<rect x="1546.28" y="285.38" width="20.2" height="21.3" fill="#dcc08b"/>
<rect x="1569.17" y="285.38" width="20.2" height="21.3" fill="#dcc08b"/>
<rect x="1592.06" y="285.38" width="20.2" height="21.3" fill="#d4d4d4"/>
<rect x="1614.95" y="285.38" width="20.2" height="21.3" fill="#6cc5a1"/>
<rect x="1637.84" y="285.38" width="20.2" height="21.3" fill="#d4d4d4"/>
<rect x="1660.73" y="285.38" width="20.2" height="21.3" fill="#6cc5a1"/>
<rect x="1683.62" y="285.38" width="20.2" height="21.3" fill="#d4d4d4"/>
<rect x="1706.51" y="285.38" width="20.2" height="21.3" fill="#d4d4d4"/>
<rect x="1729.4" y="285.38" width="20.2" height="21.3" fill="#d4d4d4"/>
<rect x="1752.29" y="285.38" width="20.2" height="21.3" fill="#d4d4d4"/>
<rect x="1775.18" y="285.38" width="20.2" height="21.3" fill="#d4d4d4"/>
<rect x="1798.07" y="285.38" width="20.2" height="21.3" fill="#d4d4d4"/>
<rect x="1820.96" y="285.38" width="20.2" height="21.3" fill="#d4d4d4"/>
<text x="1478.6" y="306.78" font-size="21.1" text-anchor="end">EP300</text>
<text x="1848" y="306.35" font-size="20.7">33.3%</text>
<rect x="1916" y="288.78" width="15.82" height="13.8" fill="#6cc5a1"/>
<rect x="1931.82" y="288.78" width="23.73" height="13.8" fill="#dcc08b"/>
<rect x="1500.5" y="309.46" width="20.2" height="21.3" fill="#d4d4d4"/>
<rect x="1523.39" y="309.46" width="20.2" height="21.3" fill="#d4d4d4"/>
<rect x="1546.28" y="309.46" width="20.2" height="21.3" fill="#6cc5a1"/>
<rect x="1569.17" y="309.46" width="20.2" height="21.3" fill="#6cc5a1"/>
<rect x="1592.06" y="309.46" width="20.2" height="21.3" fill="#6cc5a1"/>
<rect x="1614.95" y="309.46" width="20.2" height="21.3" fill="#d4d4d4"/>
<rect x="1637.84" y="309.46" width="20.2" height="21.3" fill="#d4d4d4"/>
<rect x="1660.73" y="309.46" width="20.2" height="21.3" fill="#6cc5a1"/>
<rect x="1683.62" y="309.46" width="20.2" height="21.3" fill="#d4d4d4"/>
<rect x="1706.51" y="309.46" width="20.2" height="21.3" fill="#6cc5a1"/>
<rect x="1729.4" y="309.46" width="20.2" height="21.3" fill="#d4d4d4"/>
<rect x="1752.29" y="309.46" width="20.2" height="21.3" fill="#6cc5a1"/>
<rect x="1775.18" y="309.46" width="20.2" height="21.3" fill="#d4d4d4"/>
<rect x="1798.07" y="309.46" width="20.2" height="21.3" fill="#d4d4d4"/>
<rect x="1820.96" y="309.46" width="20.2" height="21.3" fill="#d4d4d4"/>
<text x="1478.6" y="330.86" font-size="21.1" text-anchor="end">HECTD4</text>
<text x="1848" y="330.5" font-size="20.7">40%</text>
<rect x="1916" y="312.86" width="47.46" height="13.8" fill="#6cc5a1"/>
<rect x="1500.5" y="333.53" width="20.2" height="21.3" fill="#d4d4d4"/>
<rect x="1523.39" y="333.53" width="20.2" height="21.3" fill="#6cc5a1"/>
<rect x="1546.28" y="333.53" width="20.2" height="21.3" fill="#dcc08b"/>
<rect x="1569.17" y="333.53" width="20.2" height="21.3" fill="#6cc5a1"/>
<rect x="1592.06" y="333.53" width="20.2" height="21.3" fill="#d4d4d4"/>
<rect x="1614.95" y="333.53" width="20.2" height="21.3" fill="#6cc5a1"/>
<rect x="1637.84" y="333.53" width="20.2" height="21.3" fill="#d4d4d4"/>
<rect x="1660.73" y="333.53" width="20.2" height="21.3" fill="#6cc5a1"/>
<rect x="1683.62" y="333.53" width="20.2" height="21.3" fill="#d4d4d4"/>
<rect x="1706.51" y="333.53" width="20.2" height="21.3" fill="#6cc5a1"/>
<rect x="1729.4" y="333.53" width="20.2" height="21.3" fill="#6cc5a1"/>
<rect x="1752.29" y="333.53" width="20.2" height="21.3" fill="#d4d4d4"/>
<rect x="1775.18" y="333.53" width="20.2" height="21.3" fill="#6cc5a1"/>
<rect x="1798.07" y="333.53" width="20.2" height="21.3" fill="#d4d4d4"/>
<rect x="1820.96" y="333.53" width="20.2" height="21.3" fill="#d4d4d4"/>
<text x="1478.6" y="354.93" font-size="21.1" text-anchor="end">MUC16</text>
<text x="1848" y="354.65" font-size="20.7">53.3%</text>
<rect x="1916" y="336.93" width="55.37" height="13.8" fill="#6cc5a1"/>
<rect x="1971.37" y="336.93" width="7.91" height="13.8" fill="#dcc08b"/>
<rect x="1500.5" y="357.61" width="20.2" height="21.3" fill="#d4d4d4"/>
<rect x="1523.39" y="357.61" width="20.2" height="21.3" fill="#d4d4d4"/>
<rect x="1546.28" y="357.61" width="20.2" height="21.3" fill="#d4d4d4"/>
<rect x="1569.17" y="357.61" width="20.2" height="21.3" fill="#6cc5a1"/>
<rect x="1592.06" y="357.61" width="20.2" height="21.3" fill="#6cc5a1"/>
<rect x="1614.95" y="357.61" width="20.2" height="21.3" fill="#e87e5a"/>
<rect x="1637.84" y="357.61" width="20.2" height="21.3" fill="#6cc5a1"/>
<rect x="1660.73" y="357.61" width="20.2" height="21.3" fill="#d4d4d4"/>
<rect x="1683.62" y="357.61" width="20.2" height="21.3" fill="#6cc5a1"/>
<rect x="1706.51" y="357.61" width="20.2" height="21.3" fill="#d4d4d4"/>
<rect x="1729.4" y="357.61" width="20.2" height="21.3" fill="#d4d4d4"/>
<rect x="1752.29" y="357.61" width="20.2" height="21.3" fill="#d4d4d4"/>
<rect x="1775.18" y="357.61" width="20.2" height="21.3" fill="#d4d4d4"/>
<rect x="1798.07" y="357.61" width="20.2" height="21.3" fill="#d4d4d4"/>
<rect x="1820.96" y="357.61" width="20.2" height="21.3" fill="#d4d4d4"/>
<text x="1478.6" y="379.01" font-size="21.1" text-anchor="end">MUC19</text>
<text x="1848" y="378.8" font-size="20.7">33.3%</text>
<rect x="1916" y="361.01" width="31.64" height="13.8" fill="#6cc5a1"/>
<rect x="1947.64" y="361.01" width="7.91" height="13.8" fill="#e87e5a"/>
<rect x="1500.5" y="381.68" width="20.2" height="21.3" fill="#6cc5a1"/>
<rect x="1523.39" y="381.68" width="20.2" height="21.3" fill="#6cc5a1"/>
<rect x="1546.28" y="381.68" width="20.2" height="21.3" fill="#6cc5a1"/>
<rect x="1569.17" y="381.68" width="20.2" height="21.3" fill="#d4d4d4"/>
<rect x="1592.06" y="381.68" width="20.2" height="21.3" fill="#d4d4d4"/>
<rect x="1614.95" y="381.68" width="20.2" height="21.3" fill="#d4d4d4"/>
<rect x="1637.84" y="381.68" width="20.2" height="21.3" fill="#d4d4d4"/>
<rect x="1660.73" y="381.68" width="20.2" height="21.3" fill="#6cc5a1"/>
<rect x="1683.62" y="381.68" width="20.2" height="21.3" fill="#d4d4d4"/>
<rect x="1706.51" y="381.68" width="20.2" height="21.3" fill="#d4d4d4"/>
<rect x="1729.4" y="381.68" width="20.2" height="21.3" fill="#d4d4d4"/>
<rect x="1752.29" y="381.68" width="20.2" height="21.3" fill="#d4d4d4"/>
<rect x="1775.18" y="381.68" width="20.2" height="21.3" fill="#d4d4d4"/>
<rect x="1798.07" y="381.68" width="20.2" height="21.3" fill="#d4d4d4"/>
<rect x="1820.96" y="381.68" width="20.2" height="21.3" fill="#d4d4d4"/>
<text x="1478.6" y="403.08" font-size="21.1" text-anchor="end">RYR1</text>
<text x="1848" y="402.95" font-size="20.7">26.7%</text>
<rect x="1916" y="385.08" width="31.64" height="13.8" fill="#6cc5a1"/>
<rect x="1500.5" y="405.76" width="20.2" height="21.3" fill="#d4d4d4"/>
<rect x="1523.39" y="405.76" width="20.2" height="21.3" fill="#d4d4d4"/>
<rect x="1546.28" y="405.76" width="20.2" height="21.3" fill="#6cc5a1"/>
<rect x="1569.17" y="405.76" width="20.2" height="21.3" fill="#d4d4d4"/>
<rect x="1592.06" y="405.76" width="20.2" height="21.3" fill="#6cc5a1"/>
<rect x="1614.95" y="405.76" width="20.2" height="21.3" fill="#6cc5a1"/>
<rect x="1637.84" y="405.76" width="20.2" height="21.3" fill="#d4d4d4"/>
<rect x="1660.73" y="405.76" width="20.2" height="21.3" fill="#d4d4d4"/>
<rect x="1683.62" y="405.76" width="20.2" height="21.3" fill="#d4d4d4"/>
<rect x="1706.51" y="405.76" width="20.2" height="21.3" fill="#8a9cc6"/>
<rect x="1729.4" y="405.76" width="20.2" height="21.3" fill="#d4d4d4"/>
<rect x="1752.29" y="405.76" width="20.2" height="21.3" fill="#d4d4d4"/>
<rect x="1775.18" y="405.76" width="20.2" height="21.3" fill="#6cc5a1"/>
<rect x="1798.07" y="405.76" width="20.2" height="21.3" fill="#d4d4d4"/>
<rect x="1820.96" y="405.76" width="20.2" height="21.3" fill="#d4d4d4"/>
<text x="1478.6" y="427.16" font-size="21.1" text-anchor="end">DST</text>
<text x="1848" y="427.1" font-size="20.7">33.3%</text>
<rect x="1916" y="409.16" width="31.64" height="13.8" fill="#6cc5a1"/>
<rect x="1947.64" y="409.16" width="7.91" height="13.8" fill="#8a9cc6"/>
<rect x="1500.5" y="429.84" width="20.2" height="21.3" fill="#d4d4d4"/>
<rect x="1523.39" y="429.84" width="20.2" height="21.3" fill="#d4d4d4"/>
<rect x="1546.28" y="429.84" width="20.2" height="21.3" fill="#d4d4d4"/>
<rect x="1569.17" y="429.84" width="20.2" height="21.3" fill="#6cc5a1"/>
<rect x="1592.06" y="429.84" width="20.2" height="21.3" fill="#d4d4d4"/>
<rect x="1614.95" y="429.84" width="20.2" height="21.3" fill="#6cc5a1"/>
<rect x="1637.84" y="429.84" width="20.2" height="21.3" fill="#6cc5a1"/>
<rect x="1660.73" y="429.84" width="20.2" height="21.3" fill="#d4d4d4"/>
<rect x="1683.62" y="429.84" width="20.2" height="21.3" fill="#d4d4d4"/>
<rect x="1706.51" y="429.84" width="20.2" height="21.3" fill="#6cc5a1"/>
<rect x="1729.4" y="429.84" width="20.2" height="21.3" fill="#d4d4d4"/>
<rect x="1752.29" y="429.84" width="20.2" height="21.3" fill="#d4d4d4"/>
<rect x="1775.18" y="429.84" width="20.2" height="21.3" fill="#d4d4d4"/>
<rect x="1798.07" y="429.84" width="20.2" height="21.3" fill="#d4d4d4"/>
<rect x="1820.96" y="429.84" width="20.2" height="21.3" fill="#d4d4d4"/>
<text x="1478.6" y="451.24" font-size="21.1" text-anchor="end">SPTA1</text>
<text x="1848" y="451.25" font-size="20.7">26.7%</text>
<rect x="1916" y="433.24" width="31.64" height="13.8" fill="#6cc5a1"/>
<rect x="1500.5" y="453.91" width="20.2" height="21.3" fill="#d4d4d4"/>
<rect x="1523.39" y="453.91" width="20.2" height="21.3" fill="#6cc5a1"/>
<rect x="1546.28" y="453.91" width="20.2" height="21.3" fill="#6cc5a1"/>
<rect x="1569.17" y="453.91" width="20.2" height="21.3" fill="#d4d4d4"/>
<rect x="1592.06" y="453.91" width="20.2" height="21.3" fill="#d4d4d4"/>
<rect x="1614.95" y="453.91" width="20.2" height="21.3" fill="#6cc5a1"/>
<rect x="1637.84" y="453.91" width="20.2" height="21.3" fill="#d4d4d4"/>
<rect x="1660.73" y="453.91" width="20.2" height="21.3" fill="#d4d4d4"/>
<rect x="1683.62" y="453.91" width="20.2" height="21.3" fill="#d4d4d4"/>
<rect x="1706.51" y="453.91" width="20.2" height="21.3" fill="#d4d4d4"/>
<rect x="1729.4" y="453.91" width="20.2" height="21.3" fill="#d4d4d4"/>
<rect x="1752.29" y="453.91" width="20.2" height="21.3" fill="#d4d4d4"/>
<rect x="1775.18" y="453.91" width="20.2" height="21.3" fill="#6cc5a1"/>
<rect x="1798.07" y="453.91" width="20.2" height="21.3" fill="#d4d4d4"/>
<rect x="1820.96" y="453.91" width="20.2" height="21.3" fill="#d4d4d4"/>
<text x="1478.6" y="475.31" font-size="21.1" text-anchor="end">PIK3CA</text>
<text x="1848" y="475.4" font-size="20.7">26.7%</text>
<rect x="1916" y="457.31" width="31.64" height="13.8" fill="#6cc5a1"/>
<rect x="1500.5" y="477.99" width="20.2" height="21.3" fill="#d4d4d4"/>
<rect x="1523.39" y="477.99" width="20.2" height="21.3" fill="#6cc5a1"/>
<rect x="1546.28" y="477.99" width="20.2" height="21.3" fill="#d4d4d4"/>
<rect x="1569.17" y="477.99" width="20.2" height="21.3" fill="#d4d4d4"/>
<rect x="1592.06" y="477.99" width="20.2" height="21.3" fill="#d4d4d4"/>
<rect x="1614.95" y="477.99" width="20.2" height="21.3" fill="#8a9cc6"/>
<rect x="1637.84" y="477.99" width="20.2" height="21.3" fill="#d4d4d4"/>
<rect x="1660.73" y="477.99" width="20.2" height="21.3" fill="#dcc08b"/>
<rect x="1683.62" y="477.99" width="20.2" height="21.3" fill="#6cc5a1"/>
<rect x="1706.51" y="477.99" width="20.2" height="21.3" fill="#d4d4d4"/>
<rect x="1729.4" y="477.99" width="20.2" height="21.3" fill="#d4d4d4"/>
<rect x="1752.29" y="477.99" width="20.2" height="21.3" fill="#6cc5a1"/>
<rect x="1775.18" y="477.99" width="20.2" height="21.3" fill="#d4d4d4"/>
<rect x="1798.07" y="477.99" width="20.2" height="21.3" fill="#d4d4d4"/>
<rect x="1820.96" y="477.99" width="20.2" height="21.3" fill="#d4d4d4"/>
<text x="1478.6" y="499.39" font-size="21.1" text-anchor="end">DNAH5</text>
<text x="1848" y="499.55" font-size="20.7">33.3%</text>
<rect x="1916" y="481.39" width="31.64" height="13.8" fill="#6cc5a1"/>
<rect x="1947.64" y="481.39" width="7.91" height="13.8" fill="#dcc08b"/>
<rect x="1955.55" y="481.39" width="7.91" height="13.8" fill="#8a9cc6"/>
<rect x="1500.5" y="502.06" width="20.2" height="21.3" fill="#dcc08b"/>
<rect x="1523.39" y="502.06" width="20.2" height="21.3" fill="#6cc5a1"/>
<rect x="1546.28" y="502.06" width="20.2" height="21.3" fill="#d4d4d4"/>
<rect x="1569.17" y="502.06" width="20.2" height="21.3" fill="#d4d4d4"/>
<rect x="1592.06" y="502.06" width="20.2" height="21.3" fill="#d4d4d4"/>
<rect x="1614.95" y="502.06" width="20.2" height="21.3" fill="#6cc5a1"/>
<rect x="1637.84" y="502.06" width="20.2" height="21.3" fill="#d4d4d4"/>
<rect x="1660.73" y="502.06" width="20.2" height="21.3" fill="#6cc5a1"/>
<rect x="1683.62" y="502.06" width="20.2" height="21.3" fill="#d4d4d4"/>
<rect x="1706.51" y="502.06" width="20.2" height="21.3" fill="#d4d4d4"/>
<rect x="1729.4" y="502.06" width="20.2" height="21.3" fill="#d4d4d4"/>
<rect x="1752.29" y="502.06" width="20.2" height="21.3" fill="#d4d4d4"/>
<rect x="1775.18" y="502.06" width="20.2" height="21.3" fill="#d4d4d4"/>
<rect x="1798.07" y="502.06" width="20.2" height="21.3" fill="#d4d4d4"/>
<rect x="1820.96" y="502.06" width="20.2" height="21.3" fill="#d4d4d4"/>
<text x="1478.6" y="523.46" font-size="21.1" text-anchor="end">RYR2</text>
<text x="1848" y="523.7" font-size="20.7">26.7%</text>
<rect x="1916" y="505.46" width="23.73" height="13.8" fill="#6cc5a1"/>
<rect x="1939.73" y="505.46" width="7.91" height="13.8" fill="#dcc08b"/>
<rect x="1500.5" y="526.14" width="20.2" height="21.3" fill="#d4d4d4"/>
<rect x="1523.39" y="526.14" width="20.2" height="21.3" fill="#6cc5a1"/>
<rect x="1546.28" y="526.14" width="20.2" height="21.3" fill="#6cc5a1"/>
<rect x="1569.17" y="526.14" width="20.2" height="21.3" fill="#6cc5a1"/>
<rect x="1592.06" y="526.14" width="20.2" height="21.3" fill="#d4d4d4"/>
<rect x="1614.95" y="526.14" width="20.2" height="21.3" fill="#d4d4d4"/>
<rect x="1637.84" y="526.14" width="20.2" height="21.3" fill="#d4d4d4"/>
<rect x="1660.73" y="526.14" width="20.2" height="21.3" fill="#d4d4d4"/>
<rect x="1683.62" y="526.14" width="20.2" height="21.3" fill="#d4d4d4"/>
<rect x="1706.51" y="526.14" width="20.2" height="21.3" fill="#d4d4d4"/>
<rect x="1729.4" y="526.14" width="20.2" height="21.3" fill="#d4d4d4"/>
<rect x="1752.29" y="526.14" width="20.2" height="21.3" fill="#d4d4d4"/>
<rect x="1775.18" y="526.14" width="20.2" height="21.3" fill="#d4d4d4"/>
<rect x="1798.07" y="526.14" width="20.2" height="21.3" fill="#d4d4d4"/>
<rect x="1820.96" y="526.14" width="20.2" height="21.3" fill="#d4d4d4"/>
<text x="1478.6" y="547.54" font-size="21.1" text-anchor="end">XIRP2</text>
<text x="1848" y="547.85" font-size="20.7">20%</text>
<rect x="1916" y="529.54" width="23.73" height="13.8" fill="#6cc5a1"/>
<rect x="1500.5" y="550.22" width="20.2" height="21.3" fill="#8a9cc6"/>
<rect x="1523.39" y="550.22" width="20.2" height="21.3" fill="#d4d4d4"/>
<rect x="1546.28" y="550.22" width="20.2" height="21.3" fill="#6cc5a1"/>
<rect x="1569.17" y="550.22" width="20.2" height="21.3" fill="#d4d4d4"/>
<rect x="1592.06" y="550.22" width="20.2" height="21.3" fill="#d4d4d4"/>
<rect x="1614.95" y="550.22" width="20.2" height="21.3" fill="#d4d4d4"/>
<rect x="1637.84" y="550.22" width="20.2" height="21.3" fill="#d4d4d4"/>
<rect x="1660.73" y="550.22" width="20.2" height="21.3" fill="#d4d4d4"/>
<rect x="1683.62" y="550.22" width="20.2" height="21.3" fill="#d4d4d4"/>
<rect x="1706.51" y="550.22" width="20.2" height="21.3" fill="#d4d4d4"/>
<rect x="1729.4" y="550.22" width="20.2" height="21.3" fill="#6cc5a1"/>
<rect x="1752.29" y="550.22" width="20.2" height="21.3" fill="#d4d4d4"/>
<rect x="1775.18" y="550.22" width="20.2" height="21.3" fill="#6cc5a1"/>
<rect x="1798.07" y="550.22" width="20.2" height="21.3" fill="#d4d4d4"/>
<rect x="1820.96" y="550.22" width="20.2" height="21.3" fill="#d4d4d4"/>
<text x="1478.6" y="571.62" font-size="21.1" text-anchor="end">UBR4</text>
<text x="1848" y="572" font-size="20.7">26.7%</text>
<rect x="1916" y="553.62" width="23.73" height="13.8" fill="#6cc5a1"/>
<rect x="1939.73" y="553.62" width="7.91" height="13.8" fill="#8a9cc6"/>
<rect x="1500.5" y="574.29" width="20.2" height="21.3" fill="#dcc08b"/>
<rect x="1523.39" y="574.29" width="20.2" height="21.3" fill="#d4d4d4"/>
<rect x="1546.28" y="574.29" width="20.2" height="21.3" fill="#dcc08b"/>
<rect x="1569.17" y="574.29" width="20.2" height="21.3" fill="#d4d4d4"/>
<rect x="1592.06" y="574.29" width="20.2" height="21.3" fill="#d4d4d4"/>
<rect x="1614.95" y="574.29" width="20.2" height="21.3" fill="#d4d4d4"/>
<rect x="1637.84" y="574.29" width="20.2" height="21.3" fill="#6cc5a1"/>
<rect x="1660.73" y="574.29" width="20.2" height="21.3" fill="#6cc5a1"/>
<rect x="1683.62" y="574.29" width="20.2" height="21.3" fill="#d4d4d4"/>
<rect x="1706.51" y="574.29" width="20.2" height="21.3" fill="#d4d4d4"/>
<rect x="1729.4" y="574.29" width="20.2" height="21.3" fill="#d4d4d4"/>
<rect x="1752.29" y="574.29" width="20.2" height="21.3" fill="#d4d4d4"/>
<rect x="1775.18" y="574.29" width="20.2" height="21.3" fill="#d4d4d4"/>
<rect x="1798.07" y="574.29" width="20.2" height="21.3" fill="#d4d4d4"/>
<rect x="1820.96" y="574.29" width="20.2" height="21.3" fill="#d4d4d4"/>
<text x="1478.6" y="595.69" font-size="21.1" text-anchor="end">FLG</text>
<text x="1848" y="596.15" font-size="20.7">26.7%</text>
<rect x="1916" y="577.69" width="23.73" height="13.8" fill="#6cc5a1"/>
<rect x="1939.73" y="577.69" width="15.82" height="13.8" fill="#dcc08b"/>
<rect x="1500.5" y="598.37" width="20.2" height="21.3" fill="#6cc5a1"/>
<rect x="1523.39" y="598.37" width="20.2" height="21.3" fill="#d4d4d4"/>
<rect x="1546.28" y="598.37" width="20.2" height="21.3" fill="#d4d4d4"/>
<rect x="1569.17" y="598.37" width="20.2" height="21.3" fill="#d4d4d4"/>
<rect x="1592.06" y="598.37" width="20.2" height="21.3" fill="#d4d4d4"/>
<rect x="1614.95" y="598.37" width="20.2" height="21.3" fill="#d4d4d4"/>
<rect x="1637.84" y="598.37" width="20.2" height="21.3" fill="#d4d4d4"/>
<rect x="1660.73" y="598.37" width="20.2" height="21.3" fill="#6cc5a1"/>
<rect x="1683.62" y="598.37" width="20.2" height="21.3" fill="#d4d4d4"/>
<rect x="1706.51" y="598.37" width="20.2" height="21.3" fill="#d4d4d4"/>
<rect x="1729.4" y="598.37" width="20.2" height="21.3" fill="#d4d4d4"/>
<rect x="1752.29" y="598.37" width="20.2" height="21.3" fill="#d4d4d4"/>
<rect x="1775.18" y="598.37" width="20.2" height="21.3" fill="#d4d4d4"/>
<rect x="1798.07" y="598.37" width="20.2" height="21.3" fill="#d4d4d4"/>
<rect x="1820.96" y="598.37" width="20.2" height="21.3" fill="#d4d4d4"/>
<text x="1478.6" y="619.77" font-size="21.1" text-anchor="end">OBSCN</text>
<text x="1848" y="620.3" font-size="20.7">13.3%</text>
<rect x="1916" y="601.77" width="15.82" height="13.8" fill="#6cc5a1"/>
<rect x="1500.5" y="622.44" width="20.2" height="21.3" fill="#d4d4d4"/>
<rect x="1523.39" y="622.44" width="20.2" height="21.3" fill="#d4d4d4"/>
<rect x="1546.28" y="622.44" width="20.2" height="21.3" fill="#d4d4d4"/>
<rect x="1569.17" y="622.44" width="20.2" height="21.3" fill="#d4d4d4"/>
<rect x="1592.06" y="622.44" width="20.2" height="21.3" fill="#6cc5a1"/>
<rect x="1614.95" y="622.44" width="20.2" height="21.3" fill="#d4d4d4"/>
<rect x="1637.84" y="622.44" width="20.2" height="21.3" fill="#6cc5a1"/>
<rect x="1660.73" y="622.44" width="20.2" height="21.3" fill="#dcc08b"/>
<rect x="1683.62" y="622.44" width="20.2" height="21.3" fill="#d4d4d4"/>
<rect x="1706.51" y="622.44" width="20.2" height="21.3" fill="#d4d4d4"/>
<rect x="1729.4" y="622.44" width="20.2" height="21.3" fill="#d4d4d4"/>
<rect x="1752.29" y="622.44" width="20.2" height="21.3" fill="#d4d4d4"/>
<rect x="1775.18" y="622.44" width="20.2" height="21.3" fill="#d4d4d4"/>
<rect x="1798.07" y="622.44" width="20.2" height="21.3" fill="#d4d4d4"/>
<rect x="1820.96" y="622.44" width="20.2" height="21.3" fill="#6cc5a1"/>
<text x="1478.6" y="643.84" font-size="21.1" text-anchor="end">PLEC</text>
<text x="1848" y="644.45" font-size="20.7">26.7%</text>
<rect x="1916" y="625.84" width="31.64" height="13.8" fill="#6cc5a1"/>
<rect x="1947.64" y="625.84" width="7.91" height="13.8" fill="#dcc08b"/>
<rect x="1500.5" y="646.52" width="20.2" height="21.3" fill="#d4d4d4"/>
<rect x="1523.39" y="646.52" width="20.2" height="21.3" fill="#d4d4d4"/>
<rect x="1546.28" y="646.52" width="20.2" height="21.3" fill="#6cc5a1"/>
<rect x="1569.17" y="646.52" width="20.2" height="21.3" fill="#d4d4d4"/>
<rect x="1592.06" y="646.52" width="20.2" height="21.3" fill="#6cc5a1"/>
<rect x="1614.95" y="646.52" width="20.2" height="21.3" fill="#6cc5a1"/>
<rect x="1637.84" y="646.52" width="20.2" height="21.3" fill="#d4d4d4"/>
<rect x="1660.73" y="646.52" width="20.2" height="21.3" fill="#d4d4d4"/>
<rect x="1683.62" y="646.52" width="20.2" height="21.3" fill="#d4d4d4"/>
<rect x="1706.51" y="646.52" width="20.2" height="21.3" fill="#d4d4d4"/>
<rect x="1729.4" y="646.52" width="20.2" height="21.3" fill="#d4d4d4"/>
<rect x="1752.29" y="646.52" width="20.2" height="21.3" fill="#d4d4d4"/>
<rect x="1775.18" y="646.52" width="20.2" height="21.3" fill="#6cc5a1"/>
<rect x="1798.07" y="646.52" width="20.2" height="21.3" fill="#d4d4d4"/>
<rect x="1820.96" y="646.52" width="20.2" height="21.3" fill="#d4d4d4"/>
<text x="1478.6" y="667.92" font-size="21.1" text-anchor="end">RNF213</text>
<text x="1848" y="668.6" font-size="20.7">26.7%</text>
<rect x="1916" y="649.92" width="31.64" height="13.8" fill="#6cc5a1"/>
<rect x="1500.5" y="670.6" width="20.2" height="21.3" fill="#d4d4d4"/>
<rect x="1523.39" y="670.6" width="20.2" height="21.3" fill="#d4d4d4"/>
<rect x="1546.28" y="670.6" width="20.2" height="21.3" fill="#d4d4d4"/>
<rect x="1569.17" y="670.6" width="20.2" height="21.3" fill="#6cc5a1"/>
<rect x="1592.06" y="670.6" width="20.2" height="21.3" fill="#d4d4d4"/>
<rect x="1614.95" y="670.6" width="20.2" height="21.3" fill="#d4d4d4"/>
<rect x="1637.84" y="670.6" width="20.2" height="21.3" fill="#d4d4d4"/>
<rect x="1660.73" y="670.6" width="20.2" height="21.3" fill="#6cc5a1"/>
<rect x="1683.62" y="670.6" width="20.2" height="21.3" fill="#d4d4d4"/>
<rect x="1706.51" y="670.6" width="20.2" height="21.3" fill="#d4d4d4"/>
<rect x="1729.4" y="670.6" width="20.2" height="21.3" fill="#d4d4d4"/>
<rect x="1752.29" y="670.6" width="20.2" height="21.3" fill="#d4d4d4"/>
<rect x="1775.18" y="670.6" width="20.2" height="21.3" fill="#d4d4d4"/>
<rect x="1798.07" y="670.6" width="20.2" height="21.3" fill="#d4d4d4"/>
<rect x="1820.96" y="670.6" width="20.2" height="21.3" fill="#d4d4d4"/>
<text x="1478.6" y="692" font-size="21.1" text-anchor="end">HRNR</text>
<text x="1848" y="692.75" font-size="20.7">13.3%</text>
<rect x="1916" y="674" width="15.82" height="13.8" fill="#6cc5a1"/>
<rect x="1500.5" y="694.67" width="20.2" height="21.3" fill="#d4d4d4"/>
<rect x="1523.39" y="694.67" width="20.2" height="21.3" fill="#d4d4d4"/>
<rect x="1546.28" y="694.67" width="20.2" height="21.3" fill="#dcc08b"/>
<rect x="1569.17" y="694.67" width="20.2" height="21.3" fill="#6cc5a1"/>
<rect x="1592.06" y="694.67" width="20.2" height="21.3" fill="#d4d4d4"/>
<rect x="1614.95" y="694.67" width="20.2" height="21.3" fill="#6cc5a1"/>
<rect x="1637.84" y="694.67" width="20.2" height="21.3" fill="#d4d4d4"/>
<rect x="1660.73" y="694.67" width="20.2" height="21.3" fill="#d4d4d4"/>
<rect x="1683.62" y="694.67" width="20.2" height="21.3" fill="#d4d4d4"/>
<rect x="1706.51" y="694.67" width="20.2" height="21.3" fill="#6cc5a1"/>
<rect x="1729.4" y="694.67" width="20.2" height="21.3" fill="#d4d4d4"/>
<rect x="1752.29" y="694.67" width="20.2" height="21.3" fill="#d4d4d4"/>
<rect x="1775.18" y="694.67" width="20.2" height="21.3" fill="#d4d4d4"/>
<rect x="1798.07" y="694.67" width="20.2" height="21.3" fill="#d4d4d4"/>
<rect x="1820.96" y="694.67" width="20.2" height="21.3" fill="#d4d4d4"/>
<text x="1478.6" y="716.07" font-size="21.1" text-anchor="end">PKD1</text>
<text x="1848" y="716.9" font-size="20.7">26.7%</text>
<rect x="1916" y="698.07" width="31.64" height="13.8" fill="#6cc5a1"/>
<rect x="1947.64" y="698.07" width="7.91" height="13.8" fill="#dcc08b"/>
<rect x="1500.5" y="718.75" width="20.2" height="21.3" fill="#d4d4d4"/>
<rect x="1523.39" y="718.75" width="20.2" height="21.3" fill="#6cc5a1"/>
<rect x="1546.28" y="718.75" width="20.2" height="21.3" fill="#6cc5a1"/>
<rect x="1569.17" y="718.75" width="20.2" height="21.3" fill="#6cc5a1"/>
<rect x="1592.06" y="718.75" width="20.2" height="21.3" fill="#6cc5a1"/>
<rect x="1614.95" y="718.75" width="20.2" height="21.3" fill="#d4d4d4"/>
<rect x="1637.84" y="718.75" width="20.2" height="21.3" fill="#d4d4d4"/>
<rect x="1660.73" y="718.75" width="20.2" height="21.3" fill="#d4d4d4"/>
<rect x="1683.62" y="718.75" width="20.2" height="21.3" fill="#d4d4d4"/>
<rect x="1706.51" y="718.75" width="20.2" height="21.3" fill="#d4d4d4"/>
<rect x="1729.4" y="718.75" width="20.2" height="21.3" fill="#d4d4d4"/>
<rect x="1752.29" y="718.75" width="20.2" height="21.3" fill="#d4d4d4"/>
<rect x="1775.18" y="718.75" width="20.2" height="21.3" fill="#d4d4d4"/>
<rect x="1798.07" y="718.75" width="20.2" height="21.3" fill="#d4d4d4"/>
<rect x="1820.96" y="718.75" width="20.2" height="21.3" fill="#d4d4d4"/>
<text x="1478.6" y="740.15" font-size="21.1" text-anchor="end">ZNF469</text>
<text x="1848" y="741.05" font-size="20.7">26.7%</text>
<rect x="1916" y="722.15" width="31.64" height="13.8" fill="#6cc5a1"/>
<rect x="1500.5" y="742.82" width="20.2" height="21.3" fill="#d4d4d4"/>
<rect x="1523.39" y="742.82" width="20.2" height="21.3" fill="#d4d4d4"/>
<rect x="1546.28" y="742.82" width="20.2" height="21.3" fill="#6cc5a1"/>
<rect x="1569.17" y="742.82" width="20.2" height="21.3" fill="#dcc08b"/>
<rect x="1592.06" y="742.82" width="20.2" height="21.3" fill="#dcc08b"/>
<rect x="1614.95" y="742.82" width="20.2" height="21.3" fill="#d4d4d4"/>
<rect x="1637.84" y="742.82" width="20.2" height="21.3" fill="#d4d4d4"/>
<rect x="1660.73" y="742.82" width="20.2" height="21.3" fill="#dcc08b"/>
<rect x="1683.62" y="742.82" width="20.2" height="21.3" fill="#d4d4d4"/>
<rect x="1706.51" y="742.82" width="20.2" height="21.3" fill="#d4d4d4"/>
<rect x="1729.4" y="742.82" width="20.2" height="21.3" fill="#d4d4d4"/>
<rect x="1752.29" y="742.82" width="20.2" height="21.3" fill="#d4d4d4"/>
<rect x="1775.18" y="742.82" width="20.2" height="21.3" fill="#6cc5a1"/>
<rect x="1798.07" y="742.82" width="20.2" height="21.3" fill="#d4d4d4"/>
<rect x="1820.96" y="742.82" width="20.2" height="21.3" fill="#d4d4d4"/>
<text x="1478.6" y="764.22" font-size="21.1" text-anchor="end">MDN1</text>
<text x="1848" y="765.2" font-size="20.7">33.3%</text>
<rect x="1916" y="746.22" width="31.64" height="13.8" fill="#6cc5a1"/>
<rect x="1947.64" y="746.22" width="23.73" height="13.8" fill="#dcc08b"/>
<rect x="1500.5" y="766.9" width="20.2" height="21.3" fill="#d4d4d4"/>
<rect x="1523.39" y="766.9" width="20.2" height="21.3" fill="#6cc5a1"/>
<rect x="1546.28" y="766.9" width="20.2" height="21.3" fill="#d4d4d4"/>
<rect x="1569.17" y="766.9" width="20.2" height="21.3" fill="#d4d4d4"/>
<rect x="1592.06" y="766.9" width="20.2" height="21.3" fill="#d4d4d4"/>
<rect x="1614.95" y="766.9" width="20.2" height="21.3" fill="#d4d4d4"/>
<rect x="1637.84" y="766.9" width="20.2" height="21.3" fill="#d4d4d4"/>
<rect x="1660.73" y="766.9" width="20.2" height="21.3" fill="#d4d4d4"/>
<rect x="1683.62" y="766.9" width="20.2" height="21.3" fill="#6cc5a1"/>
<rect x="1706.51" y="766.9" width="20.2" height="21.3" fill="#d4d4d4"/>
<rect x="1729.4" y="766.9" width="20.2" height="21.3" fill="#d4d4d4"/>
<rect x="1752.29" y="766.9" width="20.2" height="21.3" fill="#d4d4d4"/>
<rect x="1775.18" y="766.9" width="20.2" height="21.3" fill="#d4d4d4"/>
<rect x="1798.07" y="766.9" width="20.2" height="21.3" fill="#d4d4d4"/>
<rect x="1820.96" y="766.9" width="20.2" height="21.3" fill="#d4d4d4"/>
<text x="1478.6" y="788.3" font-size="21.1" text-anchor="end">DNAH14</text>
<text x="1848" y="789.35" font-size="20.7">13.3%</text>
<rect x="1916" y="770.3" width="15.82" height="13.8" fill="#6cc5a1"/>
<rect x="1500.5" y="790.98" width="20.2" height="21.3" fill="#d4d4d4"/>
<rect x="1523.39" y="790.98" width="20.2" height="21.3" fill="#d4d4d4"/>
<rect x="1546.28" y="790.98" width="20.2" height="21.3" fill="#6cc5a1"/>
<rect x="1569.17" y="790.98" width="20.2" height="21.3" fill="#d4d4d4"/>
<rect x="1592.06" y="790.98" width="20.2" height="21.3" fill="#d4d4d4"/>
<rect x="1614.95" y="790.98" width="20.2" height="21.3" fill="#d4d4d4"/>
<rect x="1637.84" y="790.98" width="20.2" height="21.3" fill="#d4d4d4"/>
<rect x="1660.73" y="790.98" width="20.2" height="21.3" fill="#d4d4d4"/>
<rect x="1683.62" y="790.98" width="20.2" height="21.3" fill="#d4d4d4"/>
<rect x="1706.51" y="790.98" width="20.2" height="21.3" fill="#6cc5a1"/>
<rect x="1729.4" y="790.98" width="20.2" height="21.3" fill="#d4d4d4"/>
<rect x="1752.29" y="790.98" width="20.2" height="21.3" fill="#d4d4d4"/>
<rect x="1775.18" y="790.98" width="20.2" height="21.3" fill="#d4d4d4"/>
<rect x="1798.07" y="790.98" width="20.2" height="21.3" fill="#d4d4d4"/>
<rect x="1820.96" y="790.98" width="20.2" height="21.3" fill="#d4d4d4"/>
<text x="1478.6" y="812.38" font-size="21.1" text-anchor="end">MUC5B</text>
<text x="1848" y="813.5" font-size="20.7">13.3%</text>
<rect x="1916" y="794.38" width="15.82" height="13.8" fill="#6cc5a1"/>
<rect x="1500.5" y="815.05" width="20.2" height="21.3" fill="#d4d4d4"/>
<rect x="1523.39" y="815.05" width="20.2" height="21.3" fill="#d4d4d4"/>
<rect x="1546.28" y="815.05" width="20.2" height="21.3" fill="#6cc5a1"/>
<rect x="1569.17" y="815.05" width="20.2" height="21.3" fill="#d4d4d4"/>
<rect x="1592.06" y="815.05" width="20.2" height="21.3" fill="#d4d4d4"/>
<rect x="1614.95" y="815.05" width="20.2" height="21.3" fill="#d4d4d4"/>
<rect x="1637.84" y="815.05" width="20.2" height="21.3" fill="#d4d4d4"/>
<rect x="1660.73" y="815.05" width="20.2" height="21.3" fill="#d4d4d4"/>
<rect x="1683.62" y="815.05" width="20.2" height="21.3" fill="#6cc5a1"/>
<rect x="1706.51" y="815.05" width="20.2" height="21.3" fill="#d4d4d4"/>
<rect x="1729.4" y="815.05" width="20.2" height="21.3" fill="#d4d4d4"/>
<rect x="1752.29" y="815.05" width="20.2" height="21.3" fill="#d4d4d4"/>
<rect x="1775.18" y="815.05" width="20.2" height="21.3" fill="#d4d4d4"/>
<rect x="1798.07" y="815.05" width="20.2" height="21.3" fill="#d4d4d4"/>
<rect x="1820.96" y="815.05" width="20.2" height="21.3" fill="#d4d4d4"/>
<text x="1478.6" y="836.45" font-size="21.1" text-anchor="end">HMCN1</text>
<text x="1848" y="837.65" font-size="20.7">13.3%</text>
<rect x="1916" y="818.45" width="15.82" height="13.8" fill="#6cc5a1"/>
<rect x="1500.5" y="839.13" width="20.2" height="21.3" fill="#d4d4d4"/>
<rect x="1523.39" y="839.13" width="20.2" height="21.3" fill="#d4d4d4"/>
<rect x="1546.28" y="839.13" width="20.2" height="21.3" fill="#dcc08b"/>
<rect x="1569.17" y="839.13" width="20.2" height="21.3" fill="#d4d4d4"/>
<rect x="1592.06" y="839.13" width="20.2" height="21.3" fill="#d4d4d4"/>
<rect x="1614.95" y="839.13" width="20.2" height="21.3" fill="#d4d4d4"/>
<rect x="1637.84" y="839.13" width="20.2" height="21.3" fill="#d4d4d4"/>
<rect x="1660.73" y="839.13" width="20.2" height="21.3" fill="#d4d4d4"/>
<rect x="1683.62" y="839.13" width="20.2" height="21.3" fill="#d4d4d4"/>
<rect x="1706.51" y="839.13" width="20.2" height="21.3" fill="#d4d4d4"/>
<rect x="1729.4" y="839.13" width="20.2" height="21.3" fill="#d4d4d4"/>
<rect x="1752.29" y="839.13" width="20.2" height="21.3" fill="#d4d4d4"/>
<rect x="1775.18" y="839.13" width="20.2" height="21.3" fill="#d4d4d4"/>
<rect x="1798.07" y="839.13" width="20.2" height="21.3" fill="#d4d4d4"/>
<rect x="1820.96" y="839.13" width="20.2" height="21.3" fill="#d4d4d4"/>
<text x="1478.6" y="860.53" font-size="21.1" text-anchor="end">KMT2C</text>
<text x="1848" y="861.8" font-size="20.7">6.7%</text>
<rect x="1916" y="842.53" width="7.91" height="13.8" fill="#dcc08b"/>
<rect x="1500.5" y="863.2" width="20.2" height="21.3" fill="#d4d4d4"/>
<rect x="1523.39" y="863.2" width="20.2" height="21.3" fill="#6cc5a1"/>
<rect x="1546.28" y="863.2" width="20.2" height="21.3" fill="#d4d4d4"/>
<rect x="1569.17" y="863.2" width="20.2" height="21.3" fill="#d4d4d4"/>
<rect x="1592.06" y="863.2" width="20.2" height="21.3" fill="#d4d4d4"/>
<rect x="1614.95" y="863.2" width="20.2" height="21.3" fill="#d4d4d4"/>
<rect x="1637.84" y="863.2" width="20.2" height="21.3" fill="#dcc08b"/>
<rect x="1660.73" y="863.2" width="20.2" height="21.3" fill="#d4d4d4"/>
<rect x="1683.62" y="863.2" width="20.2" height="21.3" fill="#d4d4d4"/>
<rect x="1706.51" y="863.2" width="20.2" height="21.3" fill="#d4d4d4"/>
<rect x="1729.4" y="863.2" width="20.2" height="21.3" fill="#6cc5a1"/>
<rect x="1752.29" y="863.2" width="20.2" height="21.3" fill="#dcc08b"/>
<rect x="1775.18" y="863.2" width="20.2" height="21.3" fill="#d4d4d4"/>
<rect x="1798.07" y="863.2" width="20.2" height="21.3" fill="#d4d4d4"/>
<rect x="1820.96" y="863.2" width="20.2" height="21.3" fill="#d4d4d4"/>
<text x="1478.6" y="884.6" font-size="21.1" text-anchor="end">MACF1</text>
<text x="1848" y="885.95" font-size="20.7">26.7%</text>
<rect x="1916" y="866.6" width="23.73" height="13.8" fill="#6cc5a1"/>
<rect x="1939.73" y="866.6" width="15.82" height="13.8" fill="#dcc08b"/>
<rect x="1500.5" y="887.28" width="20.2" height="21.3" fill="#6cc5a1"/>
<rect x="1523.39" y="887.28" width="20.2" height="21.3" fill="#6cc5a1"/>
<rect x="1546.28" y="887.28" width="20.2" height="21.3" fill="#d4d4d4"/>
<rect x="1569.17" y="887.28" width="20.2" height="21.3" fill="#d4d4d4"/>
<rect x="1592.06" y="887.28" width="20.2" height="21.3" fill="#dcc08b"/>
<rect x="1614.95" y="887.28" width="20.2" height="21.3" fill="#d4d4d4"/>
<rect x="1637.84" y="887.28" width="20.2" height="21.3" fill="#6cc5a1"/>
<rect x="1660.73" y="887.28" width="20.2" height="21.3" fill="#d4d4d4"/>
<rect x="1683.62" y="887.28" width="20.2" height="21.3" fill="#d4d4d4"/>
<rect x="1706.51" y="887.28" width="20.2" height="21.3" fill="#d4d4d4"/>
<rect x="1729.4" y="887.28" width="20.2" height="21.3" fill="#d4d4d4"/>
<rect x="1752.29" y="887.28" width="20.2" height="21.3" fill="#dcc08b"/>
<rect x="1775.18" y="887.28" width="20.2" height="21.3" fill="#d4d4d4"/>
<rect x="1798.07" y="887.28" width="20.2" height="21.3" fill="#d4d4d4"/>
<rect x="1820.96" y="887.28" width="20.2" height="21.3" fill="#d4d4d4"/>
<text x="1478.6" y="908.68" font-size="21.1" text-anchor="end">FAT3</text>
<text x="1848" y="910.1" font-size="20.7">33.3%</text>
<rect x="1916" y="890.68" width="39.55" height="13.8" fill="#6cc5a1"/>
<rect x="1955.55" y="890.68" width="15.82" height="13.8" fill="#dcc08b"/>
<rect x="1500.5" y="911.36" width="20.2" height="21.3" fill="#d4d4d4"/>
<rect x="1523.39" y="911.36" width="20.2" height="21.3" fill="#d4d4d4"/>
<rect x="1546.28" y="911.36" width="20.2" height="21.3" fill="#6cc5a1"/>
<rect x="1569.17" y="911.36" width="20.2" height="21.3" fill="#d4d4d4"/>
<rect x="1592.06" y="911.36" width="20.2" height="21.3" fill="#d4d4d4"/>
<rect x="1614.95" y="911.36" width="20.2" height="21.3" fill="#d4d4d4"/>
<rect x="1637.84" y="911.36" width="20.2" height="21.3" fill="#6cc5a1"/>
<rect x="1660.73" y="911.36" width="20.2" height="21.3" fill="#6cc5a1"/>
<rect x="1683.62" y="911.36" width="20.2" height="21.3" fill="#d4d4d4"/>
<rect x="1706.51" y="911.36" width="20.2" height="21.3" fill="#d4d4d4"/>
<rect x="1729.4" y="911.36" width="20.2" height="21.3" fill="#d4d4d4"/>
<rect x="1752.29" y="911.36" width="20.2" height="21.3" fill="#d4d4d4"/>
<rect x="1775.18" y="911.36" width="20.2" height="21.3" fill="#6cc5a1"/>
<rect x="1798.07" y="911.36" width="20.2" height="21.3" fill="#d4d4d4"/>
<rect x="1820.96" y="911.36" width="20.2" height="21.3" fill="#d4d4d4"/>
<text x="1478.6" y="932.76" font-size="21.1" text-anchor="end">ZFHX3</text>
<text x="1848" y="934.25" font-size="20.7">26.7%</text>
<rect x="1916" y="914.76" width="31.64" height="13.8" fill="#6cc5a1"/>
<rect x="1500.5" y="935.43" width="20.2" height="21.3" fill="#d4d4d4"/>
<rect x="1523.39" y="935.43" width="20.2" height="21.3" fill="#6cc5a1"/>
<rect x="1546.28" y="935.43" width="20.2" height="21.3" fill="#dcc08b"/>
<rect x="1569.17" y="935.43" width="20.2" height="21.3" fill="#d4d4d4"/>
<rect x="1592.06" y="935.43" width="20.2" height="21.3" fill="#d4d4d4"/>
<rect x="1614.95" y="935.43" width="20.2" height="21.3" fill="#6cc5a1"/>
<rect x="1637.84" y="935.43" width="20.2" height="21.3" fill="#d4d4d4"/>
<rect x="1660.73" y="935.43" width="20.2" height="21.3" fill="#d4d4d4"/>
<rect x="1683.62" y="935.43" width="20.2" height="21.3" fill="#d4d4d4"/>
<rect x="1706.51" y="935.43" width="20.2" height="21.3" fill="#d4d4d4"/>
<rect x="1729.4" y="935.43" width="20.2" height="21.3" fill="#d4d4d4"/>
<rect x="1752.29" y="935.43" width="20.2" height="21.3" fill="#d4d4d4"/>
<rect x="1775.18" y="935.43" width="20.2" height="21.3" fill="#d4d4d4"/>
<rect x="1798.07" y="935.43" width="20.2" height="21.3" fill="#d4d4d4"/>
<rect x="1820.96" y="935.43" width="20.2" height="21.3" fill="#d4d4d4"/>
<text x="1478.6" y="956.83" font-size="21.1" text-anchor="end">ADGRV1</text>
<text x="1848" y="958.4" font-size="20.7">20%</text>
<rect x="1916" y="938.83" width="15.82" height="13.8" fill="#6cc5a1"/>
<rect x="1931.82" y="938.83" width="7.91" height="13.8" fill="#dcc08b"/>
<rect x="1500.5" y="959.51" width="20.2" height="21.3" fill="#6cc5a1"/>
<rect x="1523.39" y="959.51" width="20.2" height="21.3" fill="#d4d4d4"/>
<rect x="1546.28" y="959.51" width="20.2" height="21.3" fill="#dcc08b"/>
<rect x="1569.17" y="959.51" width="20.2" height="21.3" fill="#d4d4d4"/>
<rect x="1592.06" y="959.51" width="20.2" height="21.3" fill="#6cc5a1"/>
<rect x="1614.95" y="959.51" width="20.2" height="21.3" fill="#6cc5a1"/>
<rect x="1637.84" y="959.51" width="20.2" height="21.3" fill="#d4d4d4"/>
<rect x="1660.73" y="959.51" width="20.2" height="21.3" fill="#d4d4d4"/>
<rect x="1683.62" y="959.51" width="20.2" height="21.3" fill="#d4d4d4"/>
<rect x="1706.51" y="959.51" width="20.2" height="21.3" fill="#d4d4d4"/>
<rect x="1729.4" y="959.51" width="20.2" height="21.3" fill="#d4d4d4"/>
<rect x="1752.29" y="959.51" width="20.2" height="21.3" fill="#d4d4d4"/>
<rect x="1775.18" y="959.51" width="20.2" height="21.3" fill="#d4d4d4"/>
<rect x="1798.07" y="959.51" width="20.2" height="21.3" fill="#d4d4d4"/>
<rect x="1820.96" y="959.51" width="20.2" height="21.3" fill="#d4d4d4"/>
<text x="1478.6" y="980.91" font-size="21.1" text-anchor="end">PDE4DIP</text>
<text x="1848" y="982.55" font-size="20.7">26.7%</text>
<rect x="1916" y="962.91" width="31.64" height="13.8" fill="#6cc5a1"/>
<rect x="1947.64" y="962.91" width="7.91" height="13.8" fill="#dcc08b"/>
<rect x="1500.5" y="983.58" width="20.2" height="21.3" fill="#d4d4d4"/>
<rect x="1523.39" y="983.58" width="20.2" height="21.3" fill="#d4d4d4"/>
<rect x="1546.28" y="983.58" width="20.2" height="21.3" fill="#6cc5a1"/>
<rect x="1569.17" y="983.58" width="20.2" height="21.3" fill="#6cc5a1"/>
<rect x="1592.06" y="983.58" width="20.2" height="21.3" fill="#d4d4d4"/>
<rect x="1614.95" y="983.58" width="20.2" height="21.3" fill="#d4d4d4"/>
<rect x="1637.84" y="983.58" width="20.2" height="21.3" fill="#d4d4d4"/>
<rect x="1660.73" y="983.58" width="20.2" height="21.3" fill="#d4d4d4"/>
<rect x="1683.62" y="983.58" width="20.2" height="21.3" fill="#d4d4d4"/>
<rect x="1706.51" y="983.58" width="20.2" height="21.3" fill="#d4d4d4"/>
<rect x="1729.4" y="983.58" width="20.2" height="21.3" fill="#d4d4d4"/>
<rect x="1752.29" y="983.58" width="20.2" height="21.3" fill="#d4d4d4"/>
<rect x="1775.18" y="983.58" width="20.2" height="21.3" fill="#d4d4d4"/>
<rect x="1798.07" y="983.58" width="20.2" height="21.3" fill="#d4d4d4"/>
<rect x="1820.96" y="983.58" width="20.2" height="21.3" fill="#d4d4d4"/>
<text x="1478.6" y="1004.98" font-size="21.1" text-anchor="end">ERBB2</text>
<text x="1848" y="1006.7" font-size="20.7">13.3%</text>
<rect x="1916" y="986.98" width="15.82" height="13.8" fill="#6cc5a1"/>
<rect x="1500.5" y="1007.66" width="20.2" height="21.3" fill="#d4d4d4"/>
<rect x="1523.39" y="1007.66" width="20.2" height="21.3" fill="#d4d4d4"/>
<rect x="1546.28" y="1007.66" width="20.2" height="21.3" fill="#d4d4d4"/>
<rect x="1569.17" y="1007.66" width="20.2" height="21.3" fill="#d4d4d4"/>
<rect x="1592.06" y="1007.66" width="20.2" height="21.3" fill="#d4d4d4"/>
<rect x="1614.95" y="1007.66" width="20.2" height="21.3" fill="#d4d4d4"/>
<rect x="1637.84" y="1007.66" width="20.2" height="21.3" fill="#d4d4d4"/>
<rect x="1660.73" y="1007.66" width="20.2" height="21.3" fill="#d4d4d4"/>
<rect x="1683.62" y="1007.66" width="20.2" height="21.3" fill="#8a9cc6"/>
<rect x="1706.51" y="1007.66" width="20.2" height="21.3" fill="#d4d4d4"/>
<rect x="1729.4" y="1007.66" width="20.2" height="21.3" fill="#d4d4d4"/>
<rect x="1752.29" y="1007.66" width="20.2" height="21.3" fill="#d4d4d4"/>
<rect x="1775.18" y="1007.66" width="20.2" height="21.3" fill="#d4d4d4"/>
<rect x="1798.07" y="1007.66" width="20.2" height="21.3" fill="#d4d4d4"/>
<rect x="1820.96" y="1007.66" width="20.2" height="21.3" fill="#d4d4d4"/>
<text x="1478.6" y="1029.06" font-size="21.1" text-anchor="end">RB1</text>
<text x="1848" y="1030.85" font-size="20.7">6.7%</text>
<rect x="1916" y="1011.06" width="7.91" height="13.8" fill="#8a9cc6"/>
<rect x="1500.5" y="1031.74" width="20.2" height="21.3" fill="#d4d4d4"/>
<rect x="1523.39" y="1031.74" width="20.2" height="21.3" fill="#d4d4d4"/>
<rect x="1546.28" y="1031.74" width="20.2" height="21.3" fill="#d4d4d4"/>
<rect x="1569.17" y="1031.74" width="20.2" height="21.3" fill="#d4d4d4"/>
<rect x="1592.06" y="1031.74" width="20.2" height="21.3" fill="#d4d4d4"/>
<rect x="1614.95" y="1031.74" width="20.2" height="21.3" fill="#d4d4d4"/>
<rect x="1637.84" y="1031.74" width="20.2" height="21.3" fill="#d4d4d4"/>
<rect x="1660.73" y="1031.74" width="20.2" height="21.3" fill="#d4d4d4"/>
<rect x="1683.62" y="1031.74" width="20.2" height="21.3" fill="#d4d4d4"/>
<rect x="1706.51" y="1031.74" width="20.2" height="21.3" fill="#d4d4d4"/>
<rect x="1729.4" y="1031.74" width="20.2" height="21.3" fill="#d4d4d4"/>
<rect x="1752.29" y="1031.74" width="20.2" height="21.3" fill="#d4d4d4"/>
<rect x="1775.18" y="1031.74" width="20.2" height="21.3" fill="#d4d4d4"/>
<rect x="1798.07" y="1031.74" width="20.2" height="21.3" fill="#d4d4d4"/>
<rect x="1820.96" y="1031.74" width="20.2" height="21.3" fill="#d4d4d4"/>
<text x="1478.6" y="1053.14" font-size="21.1" text-anchor="end">FGFR3</text>
<text x="1848" y="1055" font-size="20.7">0%</text>
<rect x="1500.5" y="1055.81" width="20.2" height="21.3" fill="#d4d4d4"/>
<rect x="1523.39" y="1055.81" width="20.2" height="21.3" fill="#d4d4d4"/>
<rect x="1546.28" y="1055.81" width="20.2" height="21.3" fill="#6cc5a1"/>
<rect x="1569.17" y="1055.81" width="20.2" height="21.3" fill="#d4d4d4"/>
<rect x="1592.06" y="1055.81" width="20.2" height="21.3" fill="#d4d4d4"/>
<rect x="1614.95" y="1055.81" width="20.2" height="21.3" fill="#d4d4d4"/>
<rect x="1637.84" y="1055.81" width="20.2" height="21.3" fill="#d4d4d4"/>
<rect x="1660.73" y="1055.81" width="20.2" height="21.3" fill="#d4d4d4"/>
<rect x="1683.62" y="1055.81" width="20.2" height="21.3" fill="#d4d4d4"/>
<rect x="1706.51" y="1055.81" width="20.2" height="21.3" fill="#d4d4d4"/>
<rect x="1729.4" y="1055.81" width="20.2" height="21.3" fill="#d4d4d4"/>
<rect x="1752.29" y="1055.81" width="20.2" height="21.3" fill="#d4d4d4"/>
<rect x="1775.18" y="1055.81" width="20.2" height="21.3" fill="#d4d4d4"/>
<rect x="1798.07" y="1055.81" width="20.2" height="21.3" fill="#d4d4d4"/>
<rect x="1820.96" y="1055.81" width="20.2" height="21.3" fill="#d4d4d4"/>
<text x="1478.6" y="1077.21" font-size="21.1" text-anchor="end">CDKN2A</text>
<text x="1848" y="1079.15" font-size="20.7">6.7%</text>
<rect x="1916" y="1059.21" width="7.91" height="13.8" fill="#6cc5a1"/>
<line x1="1914.8" y1="163.3" x2="2008.8" y2="163.3" stroke="#000" stroke-width="2.1"/>
<line x1="1916" y1="157.9" x2="1916" y2="163.3" stroke="#000" stroke-width="2.1"/>
<text x="1916" y="156" font-size="16.8" text-anchor="middle">0</text>
<line x1="1955.55" y1="157.9" x2="1955.55" y2="163.3" stroke="#000" stroke-width="2.1"/>
<text x="1955.55" y="156" font-size="16.8" text-anchor="middle">5</text>
<line x1="1995.1" y1="157.9" x2="1995.1" y2="163.3" stroke="#000" stroke-width="2.1"/>
<text x="1995.1" y="156" font-size="16.8" text-anchor="middle">10</text>
<rect x="1549.78" y="1135.36" width="13.2" height="43.94" fill="#d62b30"/>
<rect x="1595.56" y="1091.42" width="13.2" height="87.88" fill="#d62b30"/>
<rect x="1618.45" y="1157.33" width="13.2" height="21.97" fill="#d62b30"/>
<rect x="1641.34" y="1135.36" width="13.2" height="43.94" fill="#d62b30"/>
<rect x="1664.23" y="1157.33" width="13.2" height="21.97" fill="#d62b30"/>
<rect x="1732.9" y="1113.39" width="13.2" height="65.91" fill="#d62b30"/>
<rect x="1755.79" y="1135.36" width="13.2" height="43.94" fill="#3f6fa3"/>
<rect x="1755.79" y="1113.39" width="13.2" height="21.97" fill="#d62b30"/>
<rect x="1778.68" y="1135.36" width="13.2" height="43.94" fill="#d62b30"/>
<rect x="1801.57" y="1135.36" width="13.2" height="43.94" fill="#d62b30"/>
<line x1="1499.2" y1="1086.4" x2="1499.2" y2="1180.35" stroke="#000" stroke-width="2.1"/>
<line x1="1493.6" y1="1179.3" x2="1499.2" y2="1179.3" stroke="#000" stroke-width="2.1"/>
<text x="1488.4" y="1185.3" font-size="16.8" text-anchor="end">0</text>
<line x1="1493.6" y1="1135.36" x2="1499.2" y2="1135.36" stroke="#000" stroke-width="2.1"/>
<text x="1488.4" y="1141.36" font-size="16.8" text-anchor="end">2</text>
<line x1="1493.6" y1="1091.42" x2="1499.2" y2="1091.42" stroke="#000" stroke-width="2.1"/>
<text x="1488.4" y="1097.42" font-size="16.8" text-anchor="end">4</text>
<rect x="1500.5" y="1185.5" width="20.2" height="21.3" fill="#d4d4d4"/>
<rect x="1523.39" y="1185.5" width="20.2" height="21.3" fill="#d4d4d4"/>
<rect x="1546.28" y="1185.5" width="20.2" height="21.3" fill="#d4d4d4"/>
<rect x="1569.17" y="1185.5" width="20.2" height="21.3" fill="#d4d4d4"/>
<rect x="1592.06" y="1185.5" width="20.2" height="21.3" fill="#d4d4d4"/>
<rect x="1614.95" y="1185.5" width="20.2" height="21.3" fill="#d4d4d4"/>
<rect x="1637.84" y="1185.5" width="20.2" height="21.3" fill="#d4d4d4"/>
<rect x="1660.73" y="1185.5" width="20.2" height="21.3" fill="#d4d4d4"/>
<rect x="1683.62" y="1185.5" width="20.2" height="21.3" fill="#d4d4d4"/>
<rect x="1706.51" y="1185.5" width="20.2" height="21.3" fill="#d4d4d4"/>
<rect x="1729.4" y="1185.5" width="20.2" height="21.3" fill="#d4d4d4"/>
<rect x="1752.29" y="1185.5" width="20.2" height="21.3" fill="#3f6fa3"/>
<rect x="1775.18" y="1185.5" width="20.2" height="21.3" fill="#d4d4d4"/>
<rect x="1798.07" y="1185.5" width="20.2" height="21.3" fill="#d4d4d4"/>
<rect x="1820.96" y="1185.5" width="20.2" height="21.3" fill="#d4d4d4"/>
<text x="1475.8" y="1205.4" font-size="21.1" text-anchor="end">CDKN2A</text>
<text x="1848" y="1203.5" font-size="20.7">6.7%</text>
<rect x="1915.9" y="1188.6" width="29.1" height="13.8" fill="#3f6fa3"/>
<rect x="1500.5" y="1209.56" width="20.2" height="21.3" fill="#d4d4d4"/>
<rect x="1523.39" y="1209.56" width="20.2" height="21.3" fill="#d4d4d4"/>
<rect x="1546.28" y="1209.56" width="20.2" height="21.3" fill="#d4d4d4"/>
<rect x="1569.17" y="1209.56" width="20.2" height="21.3" fill="#d4d4d4"/>
<rect x="1592.06" y="1209.56" width="20.2" height="21.3" fill="#d4d4d4"/>
<rect x="1614.95" y="1209.56" width="20.2" height="21.3" fill="#d4d4d4"/>
<rect x="1637.84" y="1209.56" width="20.2" height="21.3" fill="#d4d4d4"/>
<rect x="1660.73" y="1209.56" width="20.2" height="21.3" fill="#d4d4d4"/>
<rect x="1683.62" y="1209.56" width="20.2" height="21.3" fill="#d4d4d4"/>
<rect x="1706.51" y="1209.56" width="20.2" height="21.3" fill="#d4d4d4"/>
<rect x="1729.4" y="1209.56" width="20.2" height="21.3" fill="#d4d4d4"/>
<rect x="1752.29" y="1209.56" width="20.2" height="21.3" fill="#3f6fa3"/>
<rect x="1775.18" y="1209.56" width="20.2" height="21.3" fill="#d4d4d4"/>
<rect x="1798.07" y="1209.56" width="20.2" height="21.3" fill="#d4d4d4"/>
<rect x="1820.96" y="1209.56" width="20.2" height="21.3" fill="#d4d4d4"/>
<text x="1478.6" y="1229.41" font-size="21.1" text-anchor="end">CDKN2B</text>
<text x="1848" y="1227.56" font-size="20.7">6.7%</text>
<rect x="1915.9" y="1212.66" width="29.1" height="13.8" fill="#3f6fa3"/>
<rect x="1500.5" y="1233.62" width="20.2" height="21.3" fill="#d4d4d4"/>
<rect x="1523.39" y="1233.62" width="20.2" height="21.3" fill="#d4d4d4"/>
<rect x="1546.28" y="1233.62" width="20.2" height="21.3" fill="#d4d4d4"/>
<rect x="1569.17" y="1233.62" width="20.2" height="21.3" fill="#d4d4d4"/>
<rect x="1592.06" y="1233.62" width="20.2" height="21.3" fill="#d62b30"/>
<rect x="1614.95" y="1233.62" width="20.2" height="21.3" fill="#d4d4d4"/>
<rect x="1637.84" y="1233.62" width="20.2" height="21.3" fill="#d62b30"/>
<rect x="1660.73" y="1233.62" width="20.2" height="21.3" fill="#d4d4d4"/>
<rect x="1683.62" y="1233.62" width="20.2" height="21.3" fill="#d4d4d4"/>
<rect x="1706.51" y="1233.62" width="20.2" height="21.3" fill="#d4d4d4"/>
<rect x="1729.4" y="1233.62" width="20.2" height="21.3" fill="#d4d4d4"/>
<rect x="1752.29" y="1233.62" width="20.2" height="21.3" fill="#d4d4d4"/>
<rect x="1775.18" y="1233.62" width="20.2" height="21.3" fill="#d62b30"/>
<rect x="1798.07" y="1233.62" width="20.2" height="21.3" fill="#d4d4d4"/>
<rect x="1820.96" y="1233.62" width="20.2" height="21.3" fill="#d4d4d4"/>
<text x="1478.6" y="1253.42" font-size="21.1" text-anchor="end">APC</text>
<text x="1848" y="1251.62" font-size="20.7">20%</text>
<rect x="1915.9" y="1236.72" width="87.3" height="13.8" fill="#d62b30"/>
<rect x="1500.5" y="1257.68" width="20.2" height="21.3" fill="#d4d4d4"/>
<rect x="1523.39" y="1257.68" width="20.2" height="21.3" fill="#d4d4d4"/>
<rect x="1546.28" y="1257.68" width="20.2" height="21.3" fill="#d62b30"/>
<rect x="1569.17" y="1257.68" width="20.2" height="21.3" fill="#d4d4d4"/>
<rect x="1592.06" y="1257.68" width="20.2" height="21.3" fill="#d4d4d4"/>
<rect x="1614.95" y="1257.68" width="20.2" height="21.3" fill="#d4d4d4"/>
<rect x="1637.84" y="1257.68" width="20.2" height="21.3" fill="#d4d4d4"/>
<rect x="1660.73" y="1257.68" width="20.2" height="21.3" fill="#d4d4d4"/>
<rect x="1683.62" y="1257.68" width="20.2" height="21.3" fill="#d4d4d4"/>
<rect x="1706.51" y="1257.68" width="20.2" height="21.3" fill="#d4d4d4"/>
<rect x="1729.4" y="1257.68" width="20.2" height="21.3" fill="#d4d4d4"/>
<rect x="1752.29" y="1257.68" width="20.2" height="21.3" fill="#d4d4d4"/>
<rect x="1775.18" y="1257.68" width="20.2" height="21.3" fill="#d62b30"/>
<rect x="1798.07" y="1257.68" width="20.2" height="21.3" fill="#d4d4d4"/>
<rect x="1820.96" y="1257.68" width="20.2" height="21.3" fill="#d4d4d4"/>
<text x="1478.6" y="1277.43" font-size="21.1" text-anchor="end">CCND1</text>
<text x="1848" y="1275.68" font-size="20.7">13.3%</text>
<rect x="1915.9" y="1260.78" width="58.2" height="13.8" fill="#d62b30"/>
<rect x="1500.5" y="1281.74" width="20.2" height="21.3" fill="#d4d4d4"/>
<rect x="1523.39" y="1281.74" width="20.2" height="21.3" fill="#d4d4d4"/>
<rect x="1546.28" y="1281.74" width="20.2" height="21.3" fill="#d4d4d4"/>
<rect x="1569.17" y="1281.74" width="20.2" height="21.3" fill="#d4d4d4"/>
<rect x="1592.06" y="1281.74" width="20.2" height="21.3" fill="#d4d4d4"/>
<rect x="1614.95" y="1281.74" width="20.2" height="21.3" fill="#d62b30"/>
<rect x="1637.84" y="1281.74" width="20.2" height="21.3" fill="#d4d4d4"/>
<rect x="1660.73" y="1281.74" width="20.2" height="21.3" fill="#d4d4d4"/>
<rect x="1683.62" y="1281.74" width="20.2" height="21.3" fill="#d4d4d4"/>
<rect x="1706.51" y="1281.74" width="20.2" height="21.3" fill="#d4d4d4"/>
<rect x="1729.4" y="1281.74" width="20.2" height="21.3" fill="#d4d4d4"/>
<rect x="1752.29" y="1281.74" width="20.2" height="21.3" fill="#d4d4d4"/>
<rect x="1775.18" y="1281.74" width="20.2" height="21.3" fill="#d4d4d4"/>
<rect x="1798.07" y="1281.74" width="20.2" height="21.3" fill="#d4d4d4"/>
<rect x="1820.96" y="1281.74" width="20.2" height="21.3" fill="#d4d4d4"/>
<text x="1478.6" y="1301.44" font-size="21.1" text-anchor="end">MDM2</text>
<text x="1848" y="1299.74" font-size="20.7">6.7%</text>
<rect x="1915.9" y="1284.84" width="29.1" height="13.8" fill="#d62b30"/>
<rect x="1500.5" y="1305.8" width="20.2" height="21.3" fill="#d4d4d4"/>
<rect x="1523.39" y="1305.8" width="20.2" height="21.3" fill="#d4d4d4"/>
<rect x="1546.28" y="1305.8" width="20.2" height="21.3" fill="#d4d4d4"/>
<rect x="1569.17" y="1305.8" width="20.2" height="21.3" fill="#d4d4d4"/>
<rect x="1592.06" y="1305.8" width="20.2" height="21.3" fill="#d4d4d4"/>
<rect x="1614.95" y="1305.8" width="20.2" height="21.3" fill="#d4d4d4"/>
<rect x="1637.84" y="1305.8" width="20.2" height="21.3" fill="#d4d4d4"/>
<rect x="1660.73" y="1305.8" width="20.2" height="21.3" fill="#d4d4d4"/>
<rect x="1683.62" y="1305.8" width="20.2" height="21.3" fill="#d4d4d4"/>
<rect x="1706.51" y="1305.8" width="20.2" height="21.3" fill="#d4d4d4"/>
<rect x="1729.4" y="1305.8" width="20.2" height="21.3" fill="#d62b30"/>
<rect x="1752.29" y="1305.8" width="20.2" height="21.3" fill="#d62b30"/>
<rect x="1775.18" y="1305.8" width="20.2" height="21.3" fill="#d4d4d4"/>
<rect x="1798.07" y="1305.8" width="20.2" height="21.3" fill="#d62b30"/>
<rect x="1820.96" y="1305.8" width="20.2" height="21.3" fill="#d4d4d4"/>
<text x="1478.6" y="1325.45" font-size="21.1" text-anchor="end">CDK12</text>
<text x="1848" y="1323.8" font-size="20.7">20%</text>
<rect x="1915.9" y="1308.9" width="87.3" height="13.8" fill="#d62b30"/>
<rect x="1500.5" y="1329.86" width="20.2" height="21.3" fill="#d4d4d4"/>
<rect x="1523.39" y="1329.86" width="20.2" height="21.3" fill="#d4d4d4"/>
<rect x="1546.28" y="1329.86" width="20.2" height="21.3" fill="#d4d4d4"/>
<rect x="1569.17" y="1329.86" width="20.2" height="21.3" fill="#d4d4d4"/>
<rect x="1592.06" y="1329.86" width="20.2" height="21.3" fill="#d62b30"/>
<rect x="1614.95" y="1329.86" width="20.2" height="21.3" fill="#d4d4d4"/>
<rect x="1637.84" y="1329.86" width="20.2" height="21.3" fill="#d62b30"/>
<rect x="1660.73" y="1329.86" width="20.2" height="21.3" fill="#d4d4d4"/>
<rect x="1683.62" y="1329.86" width="20.2" height="21.3" fill="#d4d4d4"/>
<rect x="1706.51" y="1329.86" width="20.2" height="21.3" fill="#d4d4d4"/>
<rect x="1729.4" y="1329.86" width="20.2" height="21.3" fill="#d4d4d4"/>
<rect x="1752.29" y="1329.86" width="20.2" height="21.3" fill="#d4d4d4"/>
<rect x="1775.18" y="1329.86" width="20.2" height="21.3" fill="#d4d4d4"/>
<rect x="1798.07" y="1329.86" width="20.2" height="21.3" fill="#d4d4d4"/>
<rect x="1820.96" y="1329.86" width="20.2" height="21.3" fill="#d4d4d4"/>
<text x="1478.6" y="1349.46" font-size="21.1" text-anchor="end">BAP1</text>
<text x="1848" y="1347.86" font-size="20.7">13.3%</text>
<rect x="1915.9" y="1332.96" width="58.2" height="13.8" fill="#d62b30"/>
<rect x="1500.5" y="1353.92" width="20.2" height="21.3" fill="#d4d4d4"/>
<rect x="1523.39" y="1353.92" width="20.2" height="21.3" fill="#d4d4d4"/>
<rect x="1546.28" y="1353.92" width="20.2" height="21.3" fill="#d4d4d4"/>
<rect x="1569.17" y="1353.92" width="20.2" height="21.3" fill="#d4d4d4"/>
<rect x="1592.06" y="1353.92" width="20.2" height="21.3" fill="#d62b30"/>
<rect x="1614.95" y="1353.92" width="20.2" height="21.3" fill="#d4d4d4"/>
<rect x="1637.84" y="1353.92" width="20.2" height="21.3" fill="#d4d4d4"/>
<rect x="1660.73" y="1353.92" width="20.2" height="21.3" fill="#d62b30"/>
<rect x="1683.62" y="1353.92" width="20.2" height="21.3" fill="#d4d4d4"/>
<rect x="1706.51" y="1353.92" width="20.2" height="21.3" fill="#d4d4d4"/>
<rect x="1729.4" y="1353.92" width="20.2" height="21.3" fill="#d62b30"/>
<rect x="1752.29" y="1353.92" width="20.2" height="21.3" fill="#d4d4d4"/>
<rect x="1775.18" y="1353.92" width="20.2" height="21.3" fill="#d4d4d4"/>
<rect x="1798.07" y="1353.92" width="20.2" height="21.3" fill="#d4d4d4"/>
<rect x="1820.96" y="1353.92" width="20.2" height="21.3" fill="#d4d4d4"/>
<text x="1478.6" y="1373.47" font-size="21.1" text-anchor="end">E2F3</text>
<text x="1848" y="1371.92" font-size="20.7">20%</text>
<rect x="1915.9" y="1357.02" width="87.3" height="13.8" fill="#d62b30"/>
<rect x="1500.5" y="1377.98" width="20.2" height="21.3" fill="#d4d4d4"/>
<rect x="1523.39" y="1377.98" width="20.2" height="21.3" fill="#d4d4d4"/>
<rect x="1546.28" y="1377.98" width="20.2" height="21.3" fill="#d62b30"/>
<rect x="1569.17" y="1377.98" width="20.2" height="21.3" fill="#d4d4d4"/>
<rect x="1592.06" y="1377.98" width="20.2" height="21.3" fill="#d62b30"/>
<rect x="1614.95" y="1377.98" width="20.2" height="21.3" fill="#d4d4d4"/>
<rect x="1637.84" y="1377.98" width="20.2" height="21.3" fill="#d4d4d4"/>
<rect x="1660.73" y="1377.98" width="20.2" height="21.3" fill="#d4d4d4"/>
<rect x="1683.62" y="1377.98" width="20.2" height="21.3" fill="#d4d4d4"/>
<rect x="1706.51" y="1377.98" width="20.2" height="21.3" fill="#d4d4d4"/>
<rect x="1729.4" y="1377.98" width="20.2" height="21.3" fill="#d4d4d4"/>
<rect x="1752.29" y="1377.98" width="20.2" height="21.3" fill="#d4d4d4"/>
<rect x="1775.18" y="1377.98" width="20.2" height="21.3" fill="#d4d4d4"/>
<rect x="1798.07" y="1377.98" width="20.2" height="21.3" fill="#d4d4d4"/>
<rect x="1820.96" y="1377.98" width="20.2" height="21.3" fill="#d4d4d4"/>
<text x="1478.6" y="1397.48" font-size="21.1" text-anchor="end">MYC</text>
<text x="1848" y="1395.98" font-size="20.7">13.3%</text>
<rect x="1915.9" y="1381.08" width="58.2" height="13.8" fill="#d62b30"/>
<rect x="1500.5" y="1402.04" width="20.2" height="21.3" fill="#d4d4d4"/>
<rect x="1523.39" y="1402.04" width="20.2" height="21.3" fill="#d4d4d4"/>
<rect x="1546.28" y="1402.04" width="20.2" height="21.3" fill="#d4d4d4"/>
<rect x="1569.17" y="1402.04" width="20.2" height="21.3" fill="#d4d4d4"/>
<rect x="1592.06" y="1402.04" width="20.2" height="21.3" fill="#d4d4d4"/>
<rect x="1614.95" y="1402.04" width="20.2" height="21.3" fill="#d4d4d4"/>
<rect x="1637.84" y="1402.04" width="20.2" height="21.3" fill="#d4d4d4"/>
<rect x="1660.73" y="1402.04" width="20.2" height="21.3" fill="#d4d4d4"/>
<rect x="1683.62" y="1402.04" width="20.2" height="21.3" fill="#d4d4d4"/>
<rect x="1706.51" y="1402.04" width="20.2" height="21.3" fill="#d4d4d4"/>
<rect x="1729.4" y="1402.04" width="20.2" height="21.3" fill="#d62b30"/>
<rect x="1752.29" y="1402.04" width="20.2" height="21.3" fill="#d4d4d4"/>
<rect x="1775.18" y="1402.04" width="20.2" height="21.3" fill="#d4d4d4"/>
<rect x="1798.07" y="1402.04" width="20.2" height="21.3" fill="#d62b30"/>
<rect x="1820.96" y="1402.04" width="20.2" height="21.3" fill="#d4d4d4"/>
<text x="1478.6" y="1421.49" font-size="21.1" text-anchor="end">ERBB2</text>
<text x="1848" y="1420.04" font-size="20.7">13.3%</text>
<rect x="1915.9" y="1405.14" width="58.2" height="13.8" fill="#d62b30"/>
<rect x="1500.5" y="1426.1" width="20.2" height="21.3" fill="#d4d4d4"/>
<rect x="1523.39" y="1426.1" width="20.2" height="21.3" fill="#d4d4d4"/>
<rect x="1546.28" y="1426.1" width="20.2" height="21.3" fill="#d4d4d4"/>
<rect x="1569.17" y="1426.1" width="20.2" height="21.3" fill="#d4d4d4"/>
<rect x="1592.06" y="1426.1" width="20.2" height="21.3" fill="#d4d4d4"/>
<rect x="1614.95" y="1426.1" width="20.2" height="21.3" fill="#d4d4d4"/>
<rect x="1637.84" y="1426.1" width="20.2" height="21.3" fill="#d4d4d4"/>
<rect x="1660.73" y="1426.1" width="20.2" height="21.3" fill="#d4d4d4"/>
<rect x="1683.62" y="1426.1" width="20.2" height="21.3" fill="#d4d4d4"/>
<rect x="1706.51" y="1426.1" width="20.2" height="21.3" fill="#d4d4d4"/>
<rect x="1729.4" y="1426.1" width="20.2" height="21.3" fill="#d4d4d4"/>
<rect x="1752.29" y="1426.1" width="20.2" height="21.3" fill="#d4d4d4"/>
<rect x="1775.18" y="1426.1" width="20.2" height="21.3" fill="#d4d4d4"/>
<rect x="1798.07" y="1426.1" width="20.2" height="21.3" fill="#d4d4d4"/>
<rect x="1820.96" y="1426.1" width="20.2" height="21.3" fill="#d4d4d4"/>
<text x="1478.6" y="1445.5" font-size="21.1" text-anchor="end">TSC1</text>
<text x="1848" y="1444.1" font-size="20.7">0%</text>
<line x1="1914.7" y1="1183.5" x2="2008.5" y2="1183.5" stroke="#000" stroke-width="2.1"/>
<line x1="1915.9" y1="1178.1" x2="1915.9" y2="1183.5" stroke="#000" stroke-width="2.1"/>
<text x="1915.9" y="1174.7" font-size="16.8" text-anchor="middle">0</text>
<line x1="1945" y1="1178.1" x2="1945" y2="1183.5" stroke="#000" stroke-width="2.1"/>
<text x="1945" y="1174.7" font-size="16.8" text-anchor="middle">1</text>
<line x1="1974.1" y1="1178.1" x2="1974.1" y2="1183.5" stroke="#000" stroke-width="2.1"/>
<text x="1974.1" y="1174.7" font-size="16.8" text-anchor="middle">2</text>
<line x1="2003.2" y1="1178.1" x2="2003.2" y2="1183.5" stroke="#000" stroke-width="2.1"/>
<text x="2003.2" y="1174.7" font-size="16.8" text-anchor="middle">3</text>
<rect x="1277.2" y="1190.3" width="29" height="13.2" fill="#3f6fa3"/>
<rect x="1277.2" y="1214.2" width="29" height="13.4" fill="#3f6fa3"/>
<rect x="1277.2" y="1238.3" width="87" height="13.4" fill="#d62b30"/>
<rect x="1277.2" y="1251" width="29" height="6.8" fill="#d62b30"/>
<rect x="1277.2" y="1268.8" width="58" height="13.2" fill="#d62b30"/>
<rect x="1277.2" y="1316.8" width="29" height="13.4" fill="#d62b30"/>
<rect x="1277.2" y="1364.8" width="29" height="13.7" fill="#d62b30"/>
<text x="210.6" y="1487.3" font-size="24.6" font-weight="bold">Mutation Type</text>
<rect x="212" y="1509.7" width="37" height="36.2" fill="#6cc5a1"/>
<text x="261.2" y="1543.3" font-size="24.6">Missense Mutation</text>
<rect x="212" y="1567.1" width="37" height="36.2" fill="#e87e5a"/>
<text x="261.2" y="1599.9" font-size="24.6">In Frame</text>
<rect x="649.5" y="1509.7" width="36.6" height="36.2" fill="#dcc08b"/>
<text x="698.7" y="1543.3" font-size="24.6">Truncating</text>
<rect x="649.5" y="1567.1" width="36.6" height="36.2" fill="#8a9cc6"/>
<text x="698.7" y="1598.5" font-size="24.6">Splice Site</text>
<text x="1027" y="1487.3" font-size="24.6" font-weight="bold">Copy Number Variation</text>
<rect x="1028.4" y="1509.7" width="37" height="36.2" fill="#3f6fa3"/>
<text x="1077.6" y="1543.3" font-size="24.6">Loss</text>
<rect x="1028.4" y="1567.1" width="37" height="36.2" fill="#d62b30"/>
<text x="1077.6" y="1595.8" font-size="24.6">Gain</text>
<text x="2.5" y="22.2" font-size="30.3" font-weight="bold">a</text>
<text x="55.6" y="1671.5" font-size="38" font-weight="bold" style="stroke-width:0.8px">b</text>
<rect x="224" y="2113" width="40.3" height="174.6" fill="#808181"/>
<rect x="224" y="1957.8" width="40.3" height="155.2" fill="#69a7fb"/>
<rect x="224" y="1744.4" width="40.3" height="213.4" fill="#a92112"/>
<line x1="243.55" y1="2287.6" x2="243.55" y2="2298" stroke="#000" stroke-width="2.8"/>
<text transform="translate(251.05,2328) rotate(-45)" font-size="32.9" text-anchor="end" letter-spacing="0.3" style="stroke-width:0.62px">TP53</text>
<rect x="285.1" y="2092.05" width="40.3" height="195.55" fill="#808181"/>
<rect x="285.1" y="1939.95" width="40.3" height="152.1" fill="#69a7fb"/>
<rect x="285.1" y="1744.4" width="40.3" height="195.55" fill="#a92112"/>
<line x1="304.65" y1="2287.6" x2="304.65" y2="2298" stroke="#000" stroke-width="2.8"/>
<text transform="translate(312.15,2328) rotate(-45)" font-size="32.9" text-anchor="end" letter-spacing="0.3" style="stroke-width:0.62px">TTN</text>
<rect x="346.2" y="2054.8" width="40.3" height="232.8" fill="#808181"/>
<rect x="346.2" y="1951.33" width="40.3" height="103.47" fill="#69a7fb"/>
<rect x="346.2" y="1744.4" width="40.3" height="206.93" fill="#a92112"/>
<line x1="365.75" y1="2287.6" x2="365.75" y2="2298" stroke="#000" stroke-width="2.8"/>
<text transform="translate(373.25,2328) rotate(-45)" font-size="32.9" text-anchor="end" letter-spacing="0.3" style="stroke-width:0.62px">KMT2D</text>
<rect x="407.3" y="2095.88" width="40.3" height="191.72" fill="#808181"/>
<rect x="407.3" y="1936.12" width="40.3" height="159.76" fill="#69a7fb"/>
<rect x="407.3" y="1744.4" width="40.3" height="191.72" fill="#a92112"/>
<line x1="426.85" y1="2287.6" x2="426.85" y2="2298" stroke="#000" stroke-width="2.8"/>
<text transform="translate(434.35,2328) rotate(-45)" font-size="32.9" text-anchor="end" letter-spacing="0.3" style="stroke-width:0.62px">ARID1A</text>
<rect x="468.4" y="2031.98" width="40.3" height="255.62" fill="#808181"/>
<rect x="468.4" y="1904.16" width="40.3" height="127.81" fill="#69a7fb"/>
<rect x="468.4" y="1744.4" width="40.3" height="159.76" fill="#a92112"/>
<line x1="487.95" y1="2287.6" x2="487.95" y2="2298" stroke="#000" stroke-width="2.8"/>
<text transform="translate(495.45,2328) rotate(-45)" font-size="32.9" text-anchor="end" letter-spacing="0.3" style="stroke-width:0.62px">KDM6A</text>
<rect x="529.5" y="2054.8" width="40.3" height="232.8" fill="#808181"/>
<rect x="529.5" y="1938.4" width="40.3" height="116.4" fill="#69a7fb"/>
<rect x="529.5" y="1744.4" width="40.3" height="194" fill="#a92112"/>
<line x1="549.05" y1="2287.6" x2="549.05" y2="2298" stroke="#000" stroke-width="2.8"/>
<text transform="translate(556.55,2328) rotate(-45)" font-size="32.9" text-anchor="end" letter-spacing="0.3" style="stroke-width:0.62px">EP300</text>
<rect x="590.6" y="2162.25" width="40.3" height="125.35" fill="#808181"/>
<rect x="590.6" y="1995.11" width="40.3" height="167.14" fill="#69a7fb"/>
<rect x="590.6" y="1744.4" width="40.3" height="250.71" fill="#a92112"/>
<line x1="610.15" y1="2287.6" x2="610.15" y2="2298" stroke="#000" stroke-width="2.8"/>
<text transform="translate(617.65,2328) rotate(-45)" font-size="32.9" text-anchor="end" letter-spacing="0.3" style="stroke-width:0.62px">HECTD4</text>
<rect x="651.7" y="2162.25" width="40.3" height="125.35" fill="#808181"/>
<rect x="651.7" y="2078.68" width="40.3" height="83.57" fill="#69a7fb"/>
<rect x="651.7" y="1744.4" width="40.3" height="334.28" fill="#a92112"/>
<line x1="671.25" y1="2287.6" x2="671.25" y2="2298" stroke="#000" stroke-width="2.8"/>
<text transform="translate(678.75,2328) rotate(-45)" font-size="32.9" text-anchor="end" letter-spacing="0.3" style="stroke-width:0.62px">MUC16</text>
<rect x="712.8" y="2139.45" width="40.3" height="148.15" fill="#808181"/>
<rect x="712.8" y="1991.31" width="40.3" height="148.15" fill="#69a7fb"/>
<rect x="712.8" y="1744.4" width="40.3" height="246.91" fill="#a92112"/>
<line x1="732.35" y1="2287.6" x2="732.35" y2="2298" stroke="#000" stroke-width="2.8"/>
<text transform="translate(739.85,2328) rotate(-45)" font-size="32.9" text-anchor="end" letter-spacing="0.3" style="stroke-width:0.62px">MUC19</text>
<rect x="773.9" y="2139.45" width="40.3" height="148.15" fill="#808181"/>
<rect x="773.9" y="1941.93" width="40.3" height="197.53" fill="#69a7fb"/>
<rect x="773.9" y="1744.4" width="40.3" height="197.53" fill="#a92112"/>
<line x1="793.45" y1="2287.6" x2="793.45" y2="2298" stroke="#000" stroke-width="2.8"/>
<text transform="translate(800.95,2328) rotate(-45)" font-size="32.9" text-anchor="end" letter-spacing="0.3" style="stroke-width:0.62px">RYR1</text>
<rect x="835" y="1869.75" width="40.3" height="417.85" fill="#808181"/>
<rect x="835" y="1827.97" width="40.3" height="41.78" fill="#69a7fb"/>
<rect x="835" y="1744.4" width="40.3" height="83.57" fill="#a92112"/>
<line x1="854.55" y1="2287.6" x2="854.55" y2="2298" stroke="#000" stroke-width="2.8"/>
<text transform="translate(862.05,2328) rotate(-45)" font-size="32.9" text-anchor="end" letter-spacing="0.3" style="stroke-width:0.62px">CNV CDKN2A</text>
<rect x="896.1" y="1843.16" width="40.3" height="444.44" fill="#808181"/>
<rect x="896.1" y="1793.78" width="40.3" height="49.38" fill="#69a7fb"/>
<rect x="896.1" y="1744.4" width="40.3" height="49.38" fill="#a92112"/>
<line x1="915.65" y1="2287.6" x2="915.65" y2="2298" stroke="#000" stroke-width="2.8"/>
<text transform="translate(923.15,2328) rotate(-45)" font-size="32.9" text-anchor="end" letter-spacing="0.3" style="stroke-width:0.62px">CNV CDKN2B</text>
<rect x="957.2" y="1822" width="40.3" height="465.6" fill="#808181"/>
<rect x="957.2" y="1744.4" width="40.3" height="77.6" fill="#69a7fb"/>
<line x1="976.75" y1="2287.6" x2="976.75" y2="2298" stroke="#000" stroke-width="2.8"/>
<text transform="translate(984.25,2328) rotate(-45)" font-size="32.9" text-anchor="end" letter-spacing="0.3" style="stroke-width:0.62px">CNV TSC1</text>
<line x1="203.7" y1="1743" x2="203.7" y2="2289" stroke="#000" stroke-width="2.8"/>
<line x1="193.2" y1="2287.6" x2="1018.5" y2="2287.6" stroke="#000" stroke-width="2.8"/>
<line x1="193.2" y1="2287.6" x2="203.7" y2="2287.6" stroke="#000" stroke-width="2.8"/>
<text x="184.4" y="2299.6" font-size="32.9" text-anchor="end" style="stroke-width:0.62px">0.0</text>
<line x1="193.2" y1="2178.96" x2="203.7" y2="2178.96" stroke="#000" stroke-width="2.8"/>
<text x="184.4" y="2190.96" font-size="32.9" text-anchor="end" style="stroke-width:0.62px">0.2</text>
<line x1="193.2" y1="2070.32" x2="203.7" y2="2070.32" stroke="#000" stroke-width="2.8"/>
<text x="184.4" y="2082.32" font-size="32.9" text-anchor="end" style="stroke-width:0.62px">0.4</text>
<line x1="193.2" y1="1961.68" x2="203.7" y2="1961.68" stroke="#000" stroke-width="2.8"/>
<text x="184.4" y="1973.68" font-size="32.9" text-anchor="end" style="stroke-width:0.62px">0.6</text>
<line x1="193.2" y1="1853.04" x2="203.7" y2="1853.04" stroke="#000" stroke-width="2.8"/>
<text x="184.4" y="1865.04" font-size="32.9" text-anchor="end" style="stroke-width:0.62px">0.8</text>
<line x1="193.2" y1="1744.4" x2="203.7" y2="1744.4" stroke="#000" stroke-width="2.8"/>
<text x="184.4" y="1756.4" font-size="32.9" text-anchor="end" style="stroke-width:0.62px">1.0</text>
<text transform="translate(111.5,2031.5) rotate(-90)" font-size="33" text-anchor="middle" letter-spacing="-0.62" style="stroke-width:0.62px">Mutation Fraction, %</text>
<rect x="306.9" y="1699.8" width="16.8" height="16.5" fill="#808181"/>
<text x="351" y="1720.5" font-size="32.9" letter-spacing="-0.6" style="stroke-width:0.62px">S1</text>
<rect x="583.1" y="1699.8" width="16.8" height="16.5" fill="#69a7fb"/>
<text x="627.3" y="1720.5" font-size="32.9" letter-spacing="-0.6" style="stroke-width:0.62px">S2</text>
<rect x="796.1" y="1699.8" width="16.8" height="16.5" fill="#a92112"/>
<text x="840.3" y="1720.5" font-size="32.9" letter-spacing="-0.6" style="stroke-width:0.62px">S3</text>
<text x="1136.6" y="1671.2" font-size="38.5" font-weight="bold" style="stroke-width:0.9px">c</text>
<circle cx="1201.8" cy="1705.8" r="17.2" fill="#875c9f"/>
<circle cx="1403.48" cy="1705.8" r="16.1" fill="#9673ad"/>
<circle cx="1453.9" cy="1705.8" r="17.8" fill="#7f5198"/>
<circle cx="1554.74" cy="1705.8" r="15.8" fill="#df9c9d"/>
<circle cx="1605.16" cy="1705.8" r="16.3" fill="#dc8e8f"/>
<circle cx="1655.58" cy="1705.8" r="17.2" fill="#875c9f"/>
<circle cx="1706" cy="1705.8" r="17.2" fill="#875c9f"/>
<circle cx="1756.42" cy="1705.8" r="16.6" fill="#8e67a6"/>
<text x="1840.6" y="1717.6" font-size="32.4" letter-spacing="-0.38" style="stroke-width:0.62px">tnfa signaling via nfkb</text>
<circle cx="1252.22" cy="1762.48" r="16.8" fill="#da8386"/>
<text x="1840.6" y="1774.28" font-size="32.4" letter-spacing="-0.38" style="stroke-width:0.62px">myc targets v2</text>
<circle cx="1201.8" cy="1819.16" r="16.6" fill="#8e67a6"/>
<circle cx="1403.48" cy="1819.16" r="16.6" fill="#8e67a6"/>
<circle cx="1453.9" cy="1819.16" r="17.8" fill="#7f5198"/>
<circle cx="1504.32" cy="1819.16" r="16.1" fill="#9673ad"/>
<circle cx="1605.16" cy="1819.16" r="15.8" fill="#df9c9d"/>
<circle cx="1655.58" cy="1819.16" r="16.1" fill="#9673ad"/>
<circle cx="1706" cy="1819.16" r="16.6" fill="#8e67a6"/>
<circle cx="1756.42" cy="1819.16" r="16.1" fill="#9673ad"/>
<circle cx="1806.84" cy="1819.16" r="16.6" fill="#8e67a6"/>
<text x="1840.6" y="1830.96" font-size="32.4" letter-spacing="-0.38" style="stroke-width:0.62px">kras signaling up</text>
<circle cx="1201.8" cy="1875.84" r="16.1" fill="#9673ad"/>
<circle cx="1252.22" cy="1875.84" r="15.8" fill="#df9c9d"/>
<circle cx="1302.64" cy="1875.84" r="15.8" fill="#df9c9d"/>
<circle cx="1403.48" cy="1875.84" r="16.6" fill="#8e67a6"/>
<circle cx="1453.9" cy="1875.84" r="17.8" fill="#7f5198"/>
<circle cx="1554.74" cy="1875.84" r="16.8" fill="#da8386"/>
<circle cx="1605.16" cy="1875.84" r="16.3" fill="#dc8e8f"/>
<circle cx="1706" cy="1875.84" r="18.4" fill="#774590"/>
<circle cx="1756.42" cy="1875.84" r="17.8" fill="#7f5198"/>
<circle cx="1806.84" cy="1875.84" r="17.8" fill="#7f5198"/>
<text x="1840.6" y="1887.64" font-size="32.4" letter-spacing="-0.38" style="stroke-width:0.62px">inflammatory response</text>
<circle cx="1302.64" cy="1932.52" r="16.3" fill="#dc8e8f"/>
<circle cx="1403.48" cy="1932.52" r="16.6" fill="#8e67a6"/>
<circle cx="1453.9" cy="1932.52" r="17.2" fill="#875c9f"/>
<circle cx="1554.74" cy="1932.52" r="16.3" fill="#dc8e8f"/>
<circle cx="1605.16" cy="1932.52" r="16.3" fill="#dc8e8f"/>
<circle cx="1706" cy="1932.52" r="17.8" fill="#7f5198"/>
<circle cx="1756.42" cy="1932.52" r="17.8" fill="#7f5198"/>
<circle cx="1806.84" cy="1932.52" r="17.2" fill="#875c9f"/>
<text x="1840.6" y="1944.32" font-size="32.4" letter-spacing="-0.38" style="stroke-width:0.62px">il6 jak stat3 signaling</text>
<rect x="1838" y="1949.32" width="320" height="8" fill="#ffffff"/>
<circle cx="1252.22" cy="1989.2" r="16.3" fill="#dc8e8f"/>
<circle cx="1302.64" cy="1989.2" r="16.8" fill="#da8386"/>
<circle cx="1403.48" cy="1989.2" r="16.6" fill="#8e67a6"/>
<circle cx="1504.32" cy="1989.2" r="16.3" fill="#dc8e8f"/>
<circle cx="1554.74" cy="1989.2" r="17.4" fill="#d7797c"/>
<circle cx="1605.16" cy="1989.2" r="16.8" fill="#da8386"/>
<circle cx="1706" cy="1989.2" r="18.4" fill="#774590"/>
<circle cx="1756.42" cy="1989.2" r="17.8" fill="#7f5198"/>
<circle cx="1806.84" cy="1989.2" r="16.1" fill="#9673ad"/>
<text x="1840.6" y="2001" font-size="32.4" letter-spacing="-0.38" style="stroke-width:0.62px">IFNG response</text>
<circle cx="1252.22" cy="2045.88" r="16.8" fill="#da8386"/>
<circle cx="1302.64" cy="2045.88" r="17.4" fill="#d7797c"/>
<circle cx="1504.32" cy="2045.88" r="17.9" fill="#d46f74"/>
<circle cx="1554.74" cy="2045.88" r="17.4" fill="#d7797c"/>
<circle cx="1605.16" cy="2045.88" r="17.9" fill="#d46f74"/>
<circle cx="1706" cy="2045.88" r="17.8" fill="#7f5198"/>
<circle cx="1756.42" cy="2045.88" r="17.8" fill="#7f5198"/>
<text x="1840.6" y="2057.68" font-size="32.4" letter-spacing="-0.38" style="stroke-width:0.62px">IFNA response</text>
<circle cx="1201.8" cy="2102.56" r="16.1" fill="#9673ad"/>
<circle cx="1453.9" cy="2102.56" r="15.6" fill="#9d7eb3"/>
<circle cx="1504.32" cy="2102.56" r="16.1" fill="#9673ad"/>
<circle cx="1655.58" cy="2102.56" r="16.6" fill="#8e67a6"/>
<text x="1840.6" y="2114.36" font-size="32.4" letter-spacing="-0.38" style="stroke-width:0.62px">hypoxia</text>
<circle cx="1201.8" cy="2159.24" r="16.8" fill="#da8386"/>
<circle cx="1252.22" cy="2159.24" r="17.4" fill="#d7797c"/>
<circle cx="1403.48" cy="2159.24" r="16.6" fill="#8e67a6"/>
<circle cx="1504.32" cy="2159.24" r="16.8" fill="#da8386"/>
<circle cx="1605.16" cy="2159.24" r="17.9" fill="#d46f74"/>
<text x="1840.6" y="2171.04" font-size="32.4" letter-spacing="-0.38" style="stroke-width:0.62px">g2m checkpoint</text>
<circle cx="1201.8" cy="2215.92" r="17.8" fill="#7f5198"/>
<circle cx="1302.64" cy="2215.92" r="16.1" fill="#9673ad"/>
<circle cx="1353.06" cy="2215.92" r="15.8" fill="#df9c9d"/>
<circle cx="1403.48" cy="2215.92" r="18.4" fill="#774590"/>
<circle cx="1453.9" cy="2215.92" r="18.4" fill="#774590"/>
<circle cx="1504.32" cy="2215.92" r="17.8" fill="#7f5198"/>
<circle cx="1605.16" cy="2215.92" r="15.8" fill="#df9c9d"/>
<circle cx="1655.58" cy="2215.92" r="18.4" fill="#774590"/>
<circle cx="1706" cy="2215.92" r="18.4" fill="#774590"/>
<circle cx="1756.42" cy="2215.92" r="17.8" fill="#7f5198"/>
<circle cx="1806.84" cy="2215.92" r="18.4" fill="#774590"/>
<text x="1840.6" y="2227.72" font-size="32.4" letter-spacing="-0.38" style="stroke-width:0.62px">EMT</text>
<circle cx="1201.8" cy="2272.6" r="16.8" fill="#da8386"/>
<circle cx="1252.22" cy="2272.6" r="17.9" fill="#d46f74"/>
<circle cx="1403.48" cy="2272.6" r="16.6" fill="#8e67a6"/>
<circle cx="1504.32" cy="2272.6" r="17.4" fill="#d7797c"/>
<circle cx="1605.16" cy="2272.6" r="17.9" fill="#d46f74"/>
<text x="1840.6" y="2284.4" font-size="32.4" letter-spacing="-0.38" style="stroke-width:0.62px">e2f targets</text>
<circle cx="1201.8" cy="2329.28" r="16.6" fill="#8e67a6"/>
<circle cx="1403.48" cy="2329.28" r="16.6" fill="#8e67a6"/>
<circle cx="1453.9" cy="2329.28" r="17.2" fill="#875c9f"/>
<circle cx="1504.32" cy="2329.28" r="16.1" fill="#9673ad"/>
<circle cx="1554.74" cy="2329.28" r="16.8" fill="#da8386"/>
<circle cx="1605.16" cy="2329.28" r="15.8" fill="#df9c9d"/>
<circle cx="1706" cy="2329.28" r="18.4" fill="#774590"/>
<circle cx="1756.42" cy="2329.28" r="18.4" fill="#774590"/>
<circle cx="1806.84" cy="2329.28" r="17.8" fill="#7f5198"/>
<text x="1845.6" y="2341.08" font-size="32.4" letter-spacing="-0.38" style="stroke-width:0.62px">allograft rejection</text>
<text transform="translate(1212,2385.0) rotate(-90)" font-size="32.8" text-anchor="end" letter-spacing="-0.45" style="stroke-width:0.62px">TP53</text>
<text transform="translate(1262.42,2385.0) rotate(-90)" font-size="32.8" text-anchor="end" letter-spacing="-0.45" style="stroke-width:0.62px">TTN</text>
<text transform="translate(1312.84,2385.0) rotate(-90)" font-size="32.8" text-anchor="end" letter-spacing="-0.45" style="stroke-width:0.62px">KMT2D</text>
<text transform="translate(1363.26,2385.0) rotate(-90)" font-size="32.8" text-anchor="end" letter-spacing="-0.45" style="stroke-width:0.62px">ARID1A</text>
<text transform="translate(1413.68,2385.0) rotate(-90)" font-size="32.8" text-anchor="end" letter-spacing="-0.45" style="stroke-width:0.62px">KDM6A</text>
<text transform="translate(1464.1,2385.0) rotate(-90)" font-size="32.8" text-anchor="end" letter-spacing="-0.45" style="stroke-width:0.62px">EP300</text>
<text transform="translate(1514.52,2385.0) rotate(-90)" font-size="32.8" text-anchor="end" letter-spacing="-0.45" style="stroke-width:0.62px">HECTD4</text>
<text transform="translate(1564.94,2385.0) rotate(-90)" font-size="32.8" text-anchor="end" letter-spacing="-0.45" style="stroke-width:0.62px">MUC16</text>
<text transform="translate(1615.36,2385.0) rotate(-90)" font-size="32.8" text-anchor="end" letter-spacing="-0.45" style="stroke-width:0.62px">MUC19</text>
<text transform="translate(1665.78,2385.0) rotate(-90)" font-size="32.8" text-anchor="end" letter-spacing="-0.45" style="stroke-width:0.62px">RYR1</text>
<text transform="translate(1716.2,2385.0) rotate(-90)" font-size="32.8" text-anchor="end" letter-spacing="-0.45" style="stroke-width:0.62px">CNV CDKN2A</text>
<text transform="translate(1766.62,2385.0) rotate(-90)" font-size="32.8" text-anchor="end" letter-spacing="-0.45" style="stroke-width:0.62px">CNV CDKN2B</text>
<text transform="translate(1817.04,2385.0) rotate(-90)" font-size="32.8" text-anchor="end" letter-spacing="-0.45" style="stroke-width:0.62px">CNV TSC1</text>
<circle cx="1868" cy="2401" r="12.5" fill="#d3625f"/>
<circle cx="1868" cy="2435.6" r="12.5" fill="#6c2f8f"/>
<text x="1887.4" y="2407.7" font-size="26.6" letter-spacing="0.05" style="stroke-width:0.6px">Enriched</text>
<text x="1887.4" y="2442.3" font-size="26.6" letter-spacing="0.05" style="stroke-width:0.6px">Repressed</text>
<circle cx="2062.3" cy="2410.8" r="8.4" fill="#6c2f8f"/>
<circle cx="2062.3" cy="2399.2" r="8.4" fill="#d3625f"/>
<circle cx="2152" cy="2414.2" r="12.5" fill="#6c2f8f"/>
<circle cx="2152" cy="2401" r="12.5" fill="#d3625f"/>
<text transform="translate(2117.6,2406.7) rotate(-90) scale(1.1,1.5)" font-size="30" text-anchor="middle" style="stroke-width:0.6px">&#916;</text>
<text x="2103.7" y="2442.3" font-size="26.6" text-anchor="middle" letter-spacing="0.05" style="stroke-width:0.6px">AUC</text>
</svg>
</body>
</html>
